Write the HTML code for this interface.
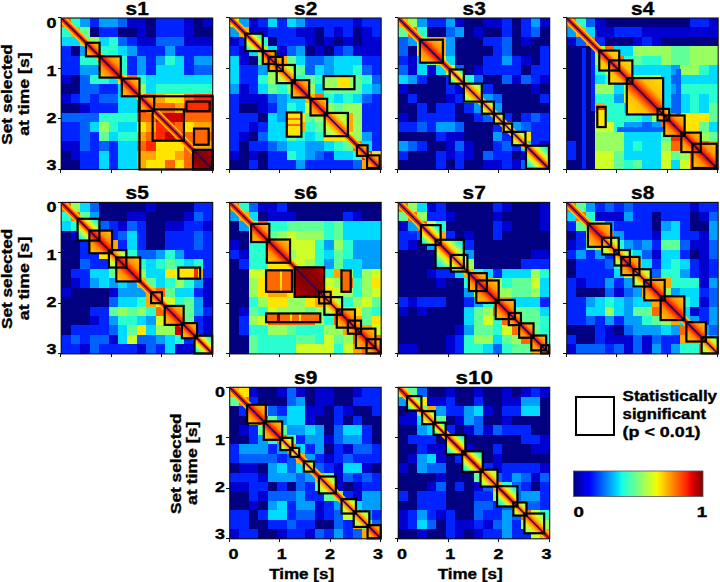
<!DOCTYPE html><html><head><meta charset="utf-8"><style>html,body{margin:0;padding:0;background:#fff;width:720px;height:582px;overflow:hidden}svg{display:block}text{font-family:"Liberation Sans",sans-serif;font-weight:bold;stroke:#000;stroke-width:0.35px}</style></head><body>
<svg width="720" height="582" viewBox="0 0 720 582" shape-rendering="crispEdges">
<rect width="720" height="582" fill="#fff"/>
<defs><linearGradient id="g_g" x1="0" y1="1" x2="1" y2="0"><stop offset="0" stop-color="#10d0ff"/><stop offset="0.18" stop-color="#40ffc0"/><stop offset="0.3" stop-color="#d0ff30"/><stop offset="0.38" stop-color="#ffd000"/><stop offset="0.45" stop-color="#ff4000"/><stop offset="0.5" stop-color="#d00000"/><stop offset="0.55" stop-color="#ff4000"/><stop offset="0.62" stop-color="#ffd000"/><stop offset="0.7" stop-color="#d0ff30"/><stop offset="0.82" stop-color="#40ffc0"/><stop offset="1" stop-color="#10d0ff"/></linearGradient><linearGradient id="g_h" x1="0" y1="1" x2="1" y2="0"><stop offset="0" stop-color="#ffd000"/><stop offset="0.3" stop-color="#ff9000"/><stop offset="0.42" stop-color="#ff3000"/><stop offset="0.5" stop-color="#b00000"/><stop offset="0.58" stop-color="#ff3000"/><stop offset="0.7" stop-color="#ff9000"/><stop offset="1" stop-color="#ffd000"/></linearGradient><linearGradient id="g_y" x1="0" y1="1" x2="1" y2="0"><stop offset="0" stop-color="#60ffa0"/><stop offset="0.25" stop-color="#d0ff30"/><stop offset="0.38" stop-color="#ffb000"/><stop offset="0.5" stop-color="#ff2000"/><stop offset="0.62" stop-color="#ffb000"/><stop offset="0.75" stop-color="#d0ff30"/><stop offset="1" stop-color="#60ffa0"/></linearGradient><linearGradient id="g_dr" x1="0" y1="1" x2="1" y2="0"><stop offset="0" stop-color="#d00000"/><stop offset="0.25" stop-color="#900000"/><stop offset="0.5" stop-color="#800000"/><stop offset="0.75" stop-color="#900000"/><stop offset="1" stop-color="#d00000"/></linearGradient><linearGradient id="g_hy" x1="0" y1="1" x2="1" y2="0"><stop offset="0" stop-color="#ffe000"/><stop offset="0.3" stop-color="#ffc000"/><stop offset="0.42" stop-color="#ff5000"/><stop offset="0.5" stop-color="#c00000"/><stop offset="0.58" stop-color="#ff5000"/><stop offset="0.7" stop-color="#ffc000"/><stop offset="1" stop-color="#ffe000"/></linearGradient></defs>
<g>
<rect x="61.2" y="18" width="9.47" height="9.47" fill="#ff6800"/>
<rect x="70.67" y="18" width="9.47" height="9.47" fill="#29ffce"/>
<rect x="80.14" y="18" width="9.47" height="9.47" fill="#009eff"/>
<rect x="89.61" y="18" width="9.47" height="9.47" fill="#0024ff"/>
<rect x="99.08" y="18" width="18.94" height="9.47" fill="#009eff"/>
<rect x="118.01" y="18" width="9.47" height="9.47" fill="#0061ff"/>
<rect x="127.48" y="18" width="18.94" height="9.47" fill="#0000d1"/>
<rect x="146.42" y="18" width="9.47" height="9.47" fill="#000080"/>
<rect x="155.89" y="18" width="28.41" height="9.47" fill="#0024ff"/>
<rect x="184.29" y="18" width="9.47" height="9.47" fill="#0000d1"/>
<rect x="193.76" y="18" width="9.47" height="9.47" fill="#000080"/>
<rect x="203.23" y="18" width="9.47" height="9.47" fill="#0000d1"/>
<rect x="61.2" y="27.47" width="9.47" height="9.47" fill="#29ffce"/>
<rect x="70.67" y="27.47" width="9.47" height="9.47" fill="#ffa700"/>
<rect x="80.14" y="27.47" width="9.47" height="9.47" fill="#60ff97"/>
<rect x="89.61" y="27.47" width="9.47" height="9.47" fill="#000080"/>
<rect x="99.08" y="27.47" width="18.94" height="9.47" fill="#0024ff"/>
<rect x="118.01" y="27.47" width="18.94" height="9.47" fill="#000080"/>
<rect x="136.95" y="27.47" width="9.47" height="9.47" fill="#0000d1"/>
<rect x="146.42" y="27.47" width="9.47" height="9.47" fill="#000080"/>
<rect x="155.89" y="27.47" width="28.41" height="9.47" fill="#0024ff"/>
<rect x="184.29" y="27.47" width="9.47" height="9.47" fill="#0000d1"/>
<rect x="193.76" y="27.47" width="18.94" height="9.47" fill="#000080"/>
<rect x="61.2" y="36.94" width="18.94" height="9.47" fill="#00dbff"/>
<rect x="80.14" y="36.94" width="9.47" height="9.47" fill="#60ff97"/>
<rect x="89.61" y="36.94" width="9.47" height="9.47" fill="#97ff60"/>
<rect x="99.08" y="36.94" width="9.47" height="9.47" fill="#00dbff"/>
<rect x="108.54" y="36.94" width="9.47" height="9.47" fill="#29ffce"/>
<rect x="118.01" y="36.94" width="9.47" height="9.47" fill="#0061ff"/>
<rect x="127.48" y="36.94" width="9.47" height="9.47" fill="#0024ff"/>
<rect x="136.95" y="36.94" width="18.94" height="9.47" fill="#0000d1"/>
<rect x="155.89" y="36.94" width="28.41" height="9.47" fill="#0061ff"/>
<rect x="184.29" y="36.94" width="28.41" height="9.47" fill="#0000d1"/>
<rect x="61.2" y="46.41" width="9.47" height="9.47" fill="#0024ff"/>
<rect x="70.67" y="46.41" width="9.47" height="9.47" fill="#000080"/>
<rect x="80.14" y="46.41" width="9.47" height="9.47" fill="#009eff"/>
<rect x="89.61" y="46.41" width="9.47" height="9.47" fill="#cd0000"/>
<rect x="99.08" y="46.41" width="18.94" height="9.47" fill="#29ffce"/>
<rect x="118.01" y="46.41" width="9.47" height="9.47" fill="#00dbff"/>
<rect x="127.48" y="46.41" width="9.47" height="9.47" fill="#009eff"/>
<rect x="136.95" y="46.41" width="28.41" height="9.47" fill="#0024ff"/>
<rect x="165.36" y="46.41" width="9.47" height="9.47" fill="#009eff"/>
<rect x="174.82" y="46.41" width="37.88" height="9.47" fill="#0024ff"/>
<rect x="61.2" y="55.88" width="18.94" height="9.47" fill="#0024ff"/>
<rect x="80.14" y="55.88" width="18.94" height="9.47" fill="#29ffce"/>
<rect x="99.08" y="55.88" width="18.94" height="9.47" fill="#ff6800"/>
<rect x="118.01" y="55.88" width="9.47" height="9.47" fill="#29ffce"/>
<rect x="127.48" y="55.88" width="9.47" height="9.47" fill="#0024ff"/>
<rect x="136.95" y="55.88" width="9.47" height="9.47" fill="#009eff"/>
<rect x="146.42" y="55.88" width="9.47" height="9.47" fill="#0024ff"/>
<rect x="155.89" y="55.88" width="9.47" height="9.47" fill="#009eff"/>
<rect x="165.36" y="55.88" width="9.47" height="9.47" fill="#29ffce"/>
<rect x="174.82" y="55.88" width="9.47" height="9.47" fill="#00dbff"/>
<rect x="184.29" y="55.88" width="9.47" height="9.47" fill="#0024ff"/>
<rect x="193.76" y="55.88" width="18.94" height="9.47" fill="#009eff"/>
<rect x="61.2" y="65.34" width="18.94" height="9.47" fill="#0024ff"/>
<rect x="80.14" y="65.34" width="18.94" height="9.47" fill="#009eff"/>
<rect x="99.08" y="65.34" width="9.47" height="9.47" fill="#ff6800"/>
<rect x="108.54" y="65.34" width="9.47" height="9.47" fill="#ff2900"/>
<rect x="118.01" y="65.34" width="9.47" height="9.47" fill="#29ffce"/>
<rect x="127.48" y="65.34" width="9.47" height="9.47" fill="#0024ff"/>
<rect x="136.95" y="65.34" width="9.47" height="9.47" fill="#009eff"/>
<rect x="146.42" y="65.34" width="9.47" height="9.47" fill="#0024ff"/>
<rect x="155.89" y="65.34" width="28.41" height="9.47" fill="#00dbff"/>
<rect x="184.29" y="65.34" width="9.47" height="9.47" fill="#0024ff"/>
<rect x="193.76" y="65.34" width="18.94" height="9.47" fill="#0061ff"/>
<rect x="61.2" y="74.81" width="9.47" height="9.47" fill="#0000d1"/>
<rect x="70.67" y="74.81" width="9.47" height="9.47" fill="#000080"/>
<rect x="80.14" y="74.81" width="9.47" height="9.47" fill="#0061ff"/>
<rect x="89.61" y="74.81" width="18.94" height="9.47" fill="#29ffce"/>
<rect x="108.54" y="74.81" width="9.47" height="9.47" fill="#00dbff"/>
<rect x="118.01" y="74.81" width="9.47" height="9.47" fill="#ffe500"/>
<rect x="127.48" y="74.81" width="9.47" height="9.47" fill="#ff6800"/>
<rect x="136.95" y="74.81" width="9.47" height="9.47" fill="#29ffce"/>
<rect x="146.42" y="74.81" width="66.28" height="9.47" fill="#00dbff"/>
<rect x="61.2" y="84.28" width="18.94" height="9.47" fill="#000080"/>
<rect x="80.14" y="84.28" width="18.94" height="9.47" fill="#0061ff"/>
<rect x="99.08" y="84.28" width="18.94" height="9.47" fill="#0024ff"/>
<rect x="118.01" y="84.28" width="9.47" height="9.47" fill="#00dbff"/>
<rect x="127.48" y="84.28" width="9.47" height="9.47" fill="#ff2900"/>
<rect x="136.95" y="84.28" width="9.47" height="9.47" fill="#97ff60"/>
<rect x="146.42" y="84.28" width="9.47" height="9.47" fill="#00dbff"/>
<rect x="155.89" y="84.28" width="56.81" height="9.47" fill="#29ffce"/>
<rect x="61.2" y="93.75" width="9.47" height="9.47" fill="#0000d1"/>
<rect x="70.67" y="93.75" width="9.47" height="9.47" fill="#0024ff"/>
<rect x="80.14" y="93.75" width="9.47" height="9.47" fill="#0061ff"/>
<rect x="89.61" y="93.75" width="9.47" height="9.47" fill="#0024ff"/>
<rect x="99.08" y="93.75" width="18.94" height="9.47" fill="#0061ff"/>
<rect x="118.01" y="93.75" width="18.94" height="9.47" fill="#00dbff"/>
<rect x="136.95" y="93.75" width="9.47" height="9.47" fill="#ff2900"/>
<rect x="146.42" y="93.75" width="9.47" height="9.47" fill="#ff6800"/>
<rect x="155.89" y="93.75" width="9.47" height="9.47" fill="#ffa700"/>
<rect x="165.36" y="93.75" width="18.94" height="9.47" fill="#ffe500"/>
<rect x="184.29" y="93.75" width="9.47" height="9.47" fill="#ff6800"/>
<rect x="193.76" y="93.75" width="18.94" height="9.47" fill="#ff2900"/>
<rect x="61.2" y="103.22" width="18.94" height="9.47" fill="#000080"/>
<rect x="80.14" y="103.22" width="9.47" height="9.47" fill="#0000d1"/>
<rect x="89.61" y="103.22" width="28.41" height="9.47" fill="#0024ff"/>
<rect x="118.01" y="103.22" width="18.94" height="9.47" fill="#00dbff"/>
<rect x="136.95" y="103.22" width="9.47" height="9.47" fill="#ff2900"/>
<rect x="146.42" y="103.22" width="28.41" height="9.47" fill="#ff6800"/>
<rect x="174.82" y="103.22" width="9.47" height="9.47" fill="#ffa700"/>
<rect x="184.29" y="103.22" width="28.41" height="9.47" fill="#ff2900"/>
<rect x="61.2" y="112.69" width="37.88" height="9.47" fill="#0061ff"/>
<rect x="99.08" y="112.69" width="37.87" height="9.47" fill="#29ffce"/>
<rect x="136.95" y="112.69" width="18.94" height="9.47" fill="#ff6800"/>
<rect x="155.89" y="112.69" width="28.41" height="9.47" fill="#cd0000"/>
<rect x="184.29" y="112.69" width="28.41" height="9.47" fill="#ff6800"/>
<rect x="61.2" y="122.16" width="18.94" height="9.47" fill="#0024ff"/>
<rect x="80.14" y="122.16" width="9.47" height="9.47" fill="#0061ff"/>
<rect x="89.61" y="122.16" width="9.47" height="9.47" fill="#00dbff"/>
<rect x="99.08" y="122.16" width="9.47" height="9.47" fill="#97ff60"/>
<rect x="108.54" y="122.16" width="9.47" height="9.47" fill="#29ffce"/>
<rect x="118.01" y="122.16" width="18.94" height="9.47" fill="#00dbff"/>
<rect x="136.95" y="122.16" width="9.47" height="9.47" fill="#ffe500"/>
<rect x="146.42" y="122.16" width="9.47" height="9.47" fill="#ffa700"/>
<rect x="155.89" y="122.16" width="18.94" height="9.47" fill="#ff2900"/>
<rect x="174.82" y="122.16" width="9.47" height="9.47" fill="#ff6800"/>
<rect x="184.29" y="122.16" width="9.47" height="9.47" fill="#ffe500"/>
<rect x="193.76" y="122.16" width="18.94" height="9.47" fill="#ffa700"/>
<rect x="61.2" y="131.62" width="18.94" height="9.47" fill="#0024ff"/>
<rect x="80.14" y="131.62" width="9.47" height="9.47" fill="#0061ff"/>
<rect x="89.61" y="131.62" width="9.47" height="9.47" fill="#0024ff"/>
<rect x="99.08" y="131.62" width="9.47" height="9.47" fill="#60ff97"/>
<rect x="108.54" y="131.62" width="9.47" height="9.47" fill="#00dbff"/>
<rect x="118.01" y="131.62" width="18.94" height="9.47" fill="#29ffce"/>
<rect x="136.95" y="131.62" width="9.47" height="9.47" fill="#ffa700"/>
<rect x="146.42" y="131.62" width="9.47" height="9.47" fill="#ff6800"/>
<rect x="155.89" y="131.62" width="9.47" height="9.47" fill="#ff2900"/>
<rect x="165.36" y="131.62" width="9.47" height="9.47" fill="#cd0000"/>
<rect x="174.82" y="131.62" width="9.47" height="9.47" fill="#ff2900"/>
<rect x="184.29" y="131.62" width="28.41" height="9.47" fill="#ff6800"/>
<rect x="61.2" y="141.09" width="18.94" height="9.47" fill="#0000d1"/>
<rect x="80.14" y="141.09" width="9.47" height="9.47" fill="#0061ff"/>
<rect x="89.61" y="141.09" width="9.47" height="9.47" fill="#0024ff"/>
<rect x="99.08" y="141.09" width="9.47" height="9.47" fill="#0061ff"/>
<rect x="108.54" y="141.09" width="9.47" height="9.47" fill="#0024ff"/>
<rect x="118.01" y="141.09" width="18.94" height="9.47" fill="#00dbff"/>
<rect x="136.95" y="141.09" width="9.47" height="9.47" fill="#ff6800"/>
<rect x="146.42" y="141.09" width="9.47" height="9.47" fill="#ff2900"/>
<rect x="155.89" y="141.09" width="28.41" height="9.47" fill="#ffe500"/>
<rect x="184.29" y="141.09" width="9.47" height="9.47" fill="#ff6800"/>
<rect x="193.76" y="141.09" width="18.94" height="9.47" fill="#ffa700"/>
<rect x="61.2" y="150.56" width="9.47" height="9.47" fill="#000080"/>
<rect x="70.67" y="150.56" width="9.47" height="9.47" fill="#0000d1"/>
<rect x="80.14" y="150.56" width="18.94" height="9.47" fill="#0024ff"/>
<rect x="99.08" y="150.56" width="9.47" height="9.47" fill="#00dbff"/>
<rect x="108.54" y="150.56" width="9.47" height="9.47" fill="#0024ff"/>
<rect x="118.01" y="150.56" width="18.94" height="9.47" fill="#00dbff"/>
<rect x="136.95" y="150.56" width="18.94" height="9.47" fill="#ffa700"/>
<rect x="155.89" y="150.56" width="18.94" height="9.47" fill="#ffe500"/>
<rect x="174.82" y="150.56" width="9.47" height="9.47" fill="#ffa700"/>
<rect x="184.29" y="150.56" width="9.47" height="9.47" fill="#ff6800"/>
<rect x="193.76" y="150.56" width="18.94" height="9.47" fill="#cd0000"/>
<rect x="61.2" y="160.03" width="18.94" height="9.47" fill="#000080"/>
<rect x="80.14" y="160.03" width="18.94" height="9.47" fill="#0024ff"/>
<rect x="99.08" y="160.03" width="9.47" height="9.47" fill="#00dbff"/>
<rect x="108.54" y="160.03" width="9.47" height="9.47" fill="#0024ff"/>
<rect x="118.01" y="160.03" width="18.94" height="9.47" fill="#00dbff"/>
<rect x="136.95" y="160.03" width="9.47" height="9.47" fill="#ffa700"/>
<rect x="146.42" y="160.03" width="18.94" height="9.47" fill="#ffe500"/>
<rect x="165.36" y="160.03" width="9.47" height="9.47" fill="#ff6800"/>
<rect x="174.82" y="160.03" width="9.47" height="9.47" fill="#ffe500"/>
<rect x="184.29" y="160.03" width="9.47" height="9.47" fill="#ff6800"/>
<rect x="193.76" y="160.03" width="18.94" height="9.47" fill="#cd0000"/>
<rect x="186.44" y="101.58" width="23.23" height="9.59" fill="#ff2900"/>
<rect x="194.01" y="128.59" width="14.64" height="16.16" fill="#ff6800"/>
</g>
<clipPath id="cp_s1"><rect x="61.2" y="18" width="151.5" height="151.5"/></clipPath>
<g clip-path="url(#cp_s1)" shape-rendering="auto">
<line x1="61.2" y1="18" x2="212.7" y2="169.5" stroke="#ffc000" stroke-width="8"/>
<line x1="61.2" y1="18" x2="212.7" y2="169.5" stroke="#ff2a00" stroke-width="4.5"/>
</g>
<rect x="85.95" y="42.75" width="13.64" height="13.63" fill="url(#g_h)" shape-rendering="auto"/>
<rect x="99.58" y="56.38" width="21.21" height="21.21" fill="url(#g_h)" shape-rendering="auto"/>
<rect x="121.8" y="78.6" width="17.68" height="17.68" fill="url(#g_h)" shape-rendering="auto"/>
<rect x="139.48" y="96.28" width="14.64" height="14.65" fill="url(#g_h)" shape-rendering="auto"/>
<rect x="193" y="149.81" width="19.69" height="19.69" fill="url(#g_dr)" shape-rendering="auto"/>
<line x1="61.2" y1="18" x2="212.7" y2="169.5" stroke="#00008a" stroke-width="1.15" shape-rendering="auto"/>
<rect x="85.95" y="42.75" width="13.64" height="13.63" fill="none" stroke="#000" stroke-width="2.2" shape-rendering="auto"/>
<rect x="99.58" y="56.38" width="21.21" height="21.21" fill="none" stroke="#000" stroke-width="2.2" shape-rendering="auto"/>
<rect x="121.8" y="78.6" width="17.68" height="17.68" fill="none" stroke="#000" stroke-width="2.2" shape-rendering="auto"/>
<rect x="139.48" y="96.28" width="73.22" height="73.22" fill="none" stroke="#000" stroke-width="2.2" shape-rendering="auto"/>
<rect x="139.48" y="96.28" width="14.64" height="14.65" fill="none" stroke="#000" stroke-width="2.2" shape-rendering="auto"/>
<rect x="152.61" y="109.41" width="31.31" height="31.31" fill="none" stroke="#000" stroke-width="2.2" shape-rendering="auto"/>
<rect x="186.44" y="101.58" width="23.23" height="9.59" fill="none" stroke="#000" stroke-width="2.2" shape-rendering="auto"/>
<rect x="194.01" y="128.59" width="14.64" height="16.16" fill="none" stroke="#000" stroke-width="2.2" shape-rendering="auto"/>
<rect x="193" y="149.81" width="19.69" height="19.69" fill="none" stroke="#000" stroke-width="2.2" shape-rendering="auto"/>
<rect x="61.2" y="18" width="151.5" height="151.5" fill="none" stroke="#111" stroke-width="1.1" shape-rendering="auto"/>
<line x1="57.7" y1="17.5" x2="61.2" y2="17.5" stroke="#111" stroke-width="1" shape-rendering="crispEdges"/>
<line x1="60.5" y1="169.5" x2="60.5" y2="173" stroke="#111" stroke-width="1" shape-rendering="crispEdges"/>
<line x1="57.7" y1="68.5" x2="61.2" y2="68.5" stroke="#111" stroke-width="1" shape-rendering="crispEdges"/>
<line x1="111.5" y1="169.5" x2="111.5" y2="173" stroke="#111" stroke-width="1" shape-rendering="crispEdges"/>
<line x1="57.7" y1="118.5" x2="61.2" y2="118.5" stroke="#111" stroke-width="1" shape-rendering="crispEdges"/>
<line x1="161.5" y1="169.5" x2="161.5" y2="173" stroke="#111" stroke-width="1" shape-rendering="crispEdges"/>
<line x1="57.7" y1="169.5" x2="61.2" y2="169.5" stroke="#111" stroke-width="1" shape-rendering="crispEdges"/>
<line x1="212.5" y1="169.5" x2="212.5" y2="173" stroke="#111" stroke-width="1" shape-rendering="crispEdges"/>
<text x="137.15" y="14.6" font-size="18" text-anchor="middle" textLength="23.2" lengthAdjust="spacingAndGlyphs">s1</text>
<g>
<rect x="229.7" y="18" width="9.47" height="9.47" fill="#ceff29"/>
<rect x="239.17" y="18" width="9.47" height="9.47" fill="#009eff"/>
<rect x="248.64" y="18" width="9.47" height="9.47" fill="#0000d1"/>
<rect x="258.11" y="18" width="9.47" height="9.47" fill="#0024ff"/>
<rect x="267.57" y="18" width="9.47" height="9.47" fill="#00dbff"/>
<rect x="277.04" y="18" width="9.47" height="9.47" fill="#0024ff"/>
<rect x="286.51" y="18" width="9.47" height="9.47" fill="#00dbff"/>
<rect x="295.98" y="18" width="9.47" height="9.47" fill="#009eff"/>
<rect x="305.45" y="18" width="47.34" height="9.47" fill="#0024ff"/>
<rect x="352.79" y="18" width="9.47" height="9.47" fill="#0000d1"/>
<rect x="362.26" y="18" width="18.94" height="9.47" fill="#0024ff"/>
<rect x="229.7" y="27.47" width="9.47" height="9.47" fill="#009eff"/>
<rect x="239.17" y="27.47" width="9.47" height="9.47" fill="#ffa700"/>
<rect x="248.64" y="27.47" width="18.94" height="9.47" fill="#0000d1"/>
<rect x="267.57" y="27.47" width="28.41" height="9.47" fill="#0024ff"/>
<rect x="295.98" y="27.47" width="18.94" height="9.47" fill="#0000d1"/>
<rect x="314.92" y="27.47" width="9.47" height="9.47" fill="#000080"/>
<rect x="324.39" y="27.47" width="9.47" height="9.47" fill="#0024ff"/>
<rect x="333.86" y="27.47" width="9.47" height="9.47" fill="#0000d1"/>
<rect x="343.32" y="27.47" width="9.47" height="9.47" fill="#0024ff"/>
<rect x="352.79" y="27.47" width="9.47" height="9.47" fill="#000080"/>
<rect x="362.26" y="27.47" width="9.47" height="9.47" fill="#0000d1"/>
<rect x="371.73" y="27.47" width="9.47" height="9.47" fill="#0024ff"/>
<rect x="229.7" y="36.94" width="9.47" height="9.47" fill="#0000d1"/>
<rect x="239.17" y="36.94" width="9.47" height="9.47" fill="#0024ff"/>
<rect x="248.64" y="36.94" width="9.47" height="9.47" fill="#ffa700"/>
<rect x="258.11" y="36.94" width="9.47" height="9.47" fill="#29ffce"/>
<rect x="267.57" y="36.94" width="9.47" height="9.47" fill="#000080"/>
<rect x="277.04" y="36.94" width="28.41" height="9.47" fill="#0024ff"/>
<rect x="305.45" y="36.94" width="9.47" height="9.47" fill="#0000d1"/>
<rect x="314.92" y="36.94" width="9.47" height="9.47" fill="#000080"/>
<rect x="324.39" y="36.94" width="9.47" height="9.47" fill="#0000d1"/>
<rect x="333.86" y="36.94" width="9.47" height="9.47" fill="#000080"/>
<rect x="343.32" y="36.94" width="9.47" height="9.47" fill="#0000d1"/>
<rect x="352.79" y="36.94" width="9.47" height="9.47" fill="#000080"/>
<rect x="362.26" y="36.94" width="18.94" height="9.47" fill="#0000d1"/>
<rect x="229.7" y="46.41" width="9.47" height="9.47" fill="#0024ff"/>
<rect x="239.17" y="46.41" width="9.47" height="9.47" fill="#0000d1"/>
<rect x="248.64" y="46.41" width="9.47" height="9.47" fill="#00dbff"/>
<rect x="258.11" y="46.41" width="9.47" height="9.47" fill="#97ff60"/>
<rect x="267.57" y="46.41" width="9.47" height="9.47" fill="#00dbff"/>
<rect x="277.04" y="46.41" width="9.47" height="9.47" fill="#0000d1"/>
<rect x="286.51" y="46.41" width="9.47" height="9.47" fill="#0061ff"/>
<rect x="295.98" y="46.41" width="9.47" height="9.47" fill="#009eff"/>
<rect x="305.45" y="46.41" width="9.47" height="9.47" fill="#000080"/>
<rect x="314.92" y="46.41" width="9.47" height="9.47" fill="#0000d1"/>
<rect x="324.39" y="46.41" width="9.47" height="9.47" fill="#000080"/>
<rect x="333.86" y="46.41" width="9.47" height="9.47" fill="#0024ff"/>
<rect x="343.32" y="46.41" width="9.47" height="9.47" fill="#0061ff"/>
<rect x="352.79" y="46.41" width="28.41" height="9.47" fill="#0000d1"/>
<rect x="229.7" y="55.88" width="9.47" height="9.47" fill="#00dbff"/>
<rect x="239.17" y="55.88" width="9.47" height="9.47" fill="#0000d1"/>
<rect x="248.64" y="55.88" width="9.47" height="9.47" fill="#000080"/>
<rect x="258.11" y="55.88" width="9.47" height="9.47" fill="#60ff97"/>
<rect x="267.57" y="55.88" width="18.94" height="9.47" fill="#ffa700"/>
<rect x="286.51" y="55.88" width="9.47" height="9.47" fill="#60ff97"/>
<rect x="295.98" y="55.88" width="9.47" height="9.47" fill="#00dbff"/>
<rect x="305.45" y="55.88" width="18.94" height="9.47" fill="#0061ff"/>
<rect x="324.39" y="55.88" width="9.47" height="9.47" fill="#009eff"/>
<rect x="333.86" y="55.88" width="28.41" height="9.47" fill="#00dbff"/>
<rect x="362.26" y="55.88" width="18.94" height="9.47" fill="#0024ff"/>
<rect x="229.7" y="65.34" width="9.47" height="9.47" fill="#00dbff"/>
<rect x="239.17" y="65.34" width="18.94" height="9.47" fill="#0024ff"/>
<rect x="258.11" y="65.34" width="9.47" height="9.47" fill="#009eff"/>
<rect x="267.57" y="65.34" width="9.47" height="9.47" fill="#97ff60"/>
<rect x="277.04" y="65.34" width="18.94" height="9.47" fill="#ff6800"/>
<rect x="295.98" y="65.34" width="9.47" height="9.47" fill="#60ff97"/>
<rect x="305.45" y="65.34" width="9.47" height="9.47" fill="#0061ff"/>
<rect x="314.92" y="65.34" width="9.47" height="9.47" fill="#00dbff"/>
<rect x="324.39" y="65.34" width="9.47" height="9.47" fill="#009eff"/>
<rect x="333.86" y="65.34" width="18.94" height="9.47" fill="#00dbff"/>
<rect x="352.79" y="65.34" width="9.47" height="9.47" fill="#29ffce"/>
<rect x="362.26" y="65.34" width="9.47" height="9.47" fill="#0061ff"/>
<rect x="371.73" y="65.34" width="9.47" height="9.47" fill="#0024ff"/>
<rect x="229.7" y="74.81" width="9.47" height="9.47" fill="#00dbff"/>
<rect x="239.17" y="74.81" width="18.94" height="9.47" fill="#0024ff"/>
<rect x="258.11" y="74.81" width="9.47" height="9.47" fill="#29ffce"/>
<rect x="267.57" y="74.81" width="9.47" height="9.47" fill="#97ff60"/>
<rect x="277.04" y="74.81" width="18.94" height="9.47" fill="#ffa700"/>
<rect x="295.98" y="74.81" width="9.47" height="9.47" fill="#29ffce"/>
<rect x="305.45" y="74.81" width="9.47" height="9.47" fill="#60ff97"/>
<rect x="314.92" y="74.81" width="9.47" height="9.47" fill="#29ffce"/>
<rect x="324.39" y="74.81" width="9.47" height="9.47" fill="#60ff97"/>
<rect x="333.86" y="74.81" width="18.94" height="9.47" fill="#ffe500"/>
<rect x="352.79" y="74.81" width="9.47" height="9.47" fill="#60ff97"/>
<rect x="362.26" y="74.81" width="9.47" height="9.47" fill="#29ffce"/>
<rect x="371.73" y="74.81" width="9.47" height="9.47" fill="#0061ff"/>
<rect x="229.7" y="84.28" width="9.47" height="9.47" fill="#009eff"/>
<rect x="239.17" y="84.28" width="9.47" height="9.47" fill="#0000d1"/>
<rect x="248.64" y="84.28" width="9.47" height="9.47" fill="#0024ff"/>
<rect x="258.11" y="84.28" width="9.47" height="9.47" fill="#00dbff"/>
<rect x="267.57" y="84.28" width="9.47" height="9.47" fill="#60ff97"/>
<rect x="277.04" y="84.28" width="9.47" height="9.47" fill="#29ffce"/>
<rect x="286.51" y="84.28" width="9.47" height="9.47" fill="#97ff60"/>
<rect x="295.98" y="84.28" width="9.47" height="9.47" fill="#ff2900"/>
<rect x="305.45" y="84.28" width="9.47" height="9.47" fill="#97ff60"/>
<rect x="314.92" y="84.28" width="9.47" height="9.47" fill="#00dbff"/>
<rect x="324.39" y="84.28" width="37.88" height="9.47" fill="#60ff97"/>
<rect x="362.26" y="84.28" width="9.47" height="9.47" fill="#00dbff"/>
<rect x="371.73" y="84.28" width="9.47" height="9.47" fill="#009eff"/>
<rect x="229.7" y="93.75" width="9.47" height="9.47" fill="#0024ff"/>
<rect x="239.17" y="93.75" width="28.41" height="9.47" fill="#0000d1"/>
<rect x="267.57" y="93.75" width="9.47" height="9.47" fill="#0061ff"/>
<rect x="277.04" y="93.75" width="9.47" height="9.47" fill="#009eff"/>
<rect x="286.51" y="93.75" width="18.94" height="9.47" fill="#00dbff"/>
<rect x="305.45" y="93.75" width="9.47" height="9.47" fill="#ffa700"/>
<rect x="314.92" y="93.75" width="9.47" height="9.47" fill="#ff6800"/>
<rect x="324.39" y="93.75" width="9.47" height="9.47" fill="#29ffce"/>
<rect x="333.86" y="93.75" width="9.47" height="9.47" fill="#00dbff"/>
<rect x="343.32" y="93.75" width="9.47" height="9.47" fill="#29ffce"/>
<rect x="352.79" y="93.75" width="9.47" height="9.47" fill="#00dbff"/>
<rect x="362.26" y="93.75" width="9.47" height="9.47" fill="#0061ff"/>
<rect x="371.73" y="93.75" width="9.47" height="9.47" fill="#0024ff"/>
<rect x="229.7" y="103.22" width="9.47" height="9.47" fill="#0024ff"/>
<rect x="239.17" y="103.22" width="18.94" height="9.47" fill="#000080"/>
<rect x="258.11" y="103.22" width="9.47" height="9.47" fill="#0000d1"/>
<rect x="267.57" y="103.22" width="9.47" height="9.47" fill="#0024ff"/>
<rect x="277.04" y="103.22" width="9.47" height="9.47" fill="#009eff"/>
<rect x="286.51" y="103.22" width="9.47" height="9.47" fill="#29ffce"/>
<rect x="295.98" y="103.22" width="9.47" height="9.47" fill="#00dbff"/>
<rect x="305.45" y="103.22" width="9.47" height="9.47" fill="#ceff29"/>
<rect x="314.92" y="103.22" width="9.47" height="9.47" fill="#ffa700"/>
<rect x="324.39" y="103.22" width="9.47" height="9.47" fill="#97ff60"/>
<rect x="333.86" y="103.22" width="9.47" height="9.47" fill="#60ff97"/>
<rect x="343.32" y="103.22" width="18.94" height="9.47" fill="#97ff60"/>
<rect x="362.26" y="103.22" width="18.94" height="9.47" fill="#0024ff"/>
<rect x="229.7" y="112.69" width="28.41" height="9.47" fill="#0024ff"/>
<rect x="258.11" y="112.69" width="9.47" height="9.47" fill="#000080"/>
<rect x="267.57" y="112.69" width="9.47" height="9.47" fill="#00dbff"/>
<rect x="277.04" y="112.69" width="9.47" height="9.47" fill="#009eff"/>
<rect x="286.51" y="112.69" width="18.94" height="9.47" fill="#ffe500"/>
<rect x="305.45" y="112.69" width="9.47" height="9.47" fill="#60ff97"/>
<rect x="314.92" y="112.69" width="9.47" height="9.47" fill="#97ff60"/>
<rect x="324.39" y="112.69" width="28.41" height="9.47" fill="#ffa700"/>
<rect x="352.79" y="112.69" width="9.47" height="9.47" fill="#97ff60"/>
<rect x="362.26" y="112.69" width="18.94" height="9.47" fill="#0024ff"/>
<rect x="229.7" y="122.16" width="18.94" height="9.47" fill="#0024ff"/>
<rect x="248.64" y="122.16" width="9.47" height="9.47" fill="#0000d1"/>
<rect x="258.11" y="122.16" width="9.47" height="9.47" fill="#0024ff"/>
<rect x="267.57" y="122.16" width="18.94" height="9.47" fill="#00dbff"/>
<rect x="286.51" y="122.16" width="18.94" height="9.47" fill="#ffa700"/>
<rect x="305.45" y="122.16" width="9.47" height="9.47" fill="#29ffce"/>
<rect x="314.92" y="122.16" width="9.47" height="9.47" fill="#60ff97"/>
<rect x="324.39" y="122.16" width="9.47" height="9.47" fill="#ffa700"/>
<rect x="333.86" y="122.16" width="9.47" height="9.47" fill="#ff2900"/>
<rect x="343.32" y="122.16" width="9.47" height="9.47" fill="#ffa700"/>
<rect x="352.79" y="122.16" width="9.47" height="9.47" fill="#97ff60"/>
<rect x="362.26" y="122.16" width="18.94" height="9.47" fill="#0024ff"/>
<rect x="229.7" y="131.62" width="9.47" height="9.47" fill="#0024ff"/>
<rect x="239.17" y="131.62" width="9.47" height="9.47" fill="#0000d1"/>
<rect x="248.64" y="131.62" width="9.47" height="9.47" fill="#000080"/>
<rect x="258.11" y="131.62" width="9.47" height="9.47" fill="#0061ff"/>
<rect x="267.57" y="131.62" width="18.94" height="9.47" fill="#00dbff"/>
<rect x="286.51" y="131.62" width="9.47" height="9.47" fill="#60ff97"/>
<rect x="295.98" y="131.62" width="9.47" height="9.47" fill="#29ffce"/>
<rect x="305.45" y="131.62" width="9.47" height="9.47" fill="#00dbff"/>
<rect x="314.92" y="131.62" width="9.47" height="9.47" fill="#29ffce"/>
<rect x="324.39" y="131.62" width="18.94" height="9.47" fill="#ffe500"/>
<rect x="343.32" y="131.62" width="9.47" height="9.47" fill="#ceff29"/>
<rect x="352.79" y="131.62" width="9.47" height="9.47" fill="#97ff60"/>
<rect x="362.26" y="131.62" width="9.47" height="9.47" fill="#009eff"/>
<rect x="371.73" y="131.62" width="9.47" height="9.47" fill="#0024ff"/>
<rect x="229.7" y="141.09" width="9.47" height="9.47" fill="#0024ff"/>
<rect x="239.17" y="141.09" width="9.47" height="9.47" fill="#000080"/>
<rect x="248.64" y="141.09" width="18.94" height="9.47" fill="#0024ff"/>
<rect x="267.57" y="141.09" width="9.47" height="9.47" fill="#0061ff"/>
<rect x="277.04" y="141.09" width="9.47" height="9.47" fill="#009eff"/>
<rect x="286.51" y="141.09" width="18.94" height="9.47" fill="#00dbff"/>
<rect x="305.45" y="141.09" width="18.94" height="9.47" fill="#009eff"/>
<rect x="324.39" y="141.09" width="9.47" height="9.47" fill="#00dbff"/>
<rect x="333.86" y="141.09" width="9.47" height="9.47" fill="#29ffce"/>
<rect x="343.32" y="141.09" width="9.47" height="9.47" fill="#60ff97"/>
<rect x="352.79" y="141.09" width="9.47" height="9.47" fill="#ff6800"/>
<rect x="362.26" y="141.09" width="9.47" height="9.47" fill="#00dbff"/>
<rect x="371.73" y="141.09" width="9.47" height="9.47" fill="#0024ff"/>
<rect x="229.7" y="150.56" width="9.47" height="9.47" fill="#0000d1"/>
<rect x="239.17" y="150.56" width="9.47" height="9.47" fill="#000080"/>
<rect x="248.64" y="150.56" width="9.47" height="9.47" fill="#0000d1"/>
<rect x="258.11" y="150.56" width="9.47" height="9.47" fill="#000080"/>
<rect x="267.57" y="150.56" width="18.94" height="9.47" fill="#0024ff"/>
<rect x="286.51" y="150.56" width="9.47" height="9.47" fill="#29ffce"/>
<rect x="295.98" y="150.56" width="9.47" height="9.47" fill="#00dbff"/>
<rect x="305.45" y="150.56" width="9.47" height="9.47" fill="#009eff"/>
<rect x="314.92" y="150.56" width="9.47" height="9.47" fill="#0061ff"/>
<rect x="324.39" y="150.56" width="9.47" height="9.47" fill="#0024ff"/>
<rect x="333.86" y="150.56" width="18.94" height="9.47" fill="#00dbff"/>
<rect x="352.79" y="150.56" width="9.47" height="9.47" fill="#29ffce"/>
<rect x="362.26" y="150.56" width="9.47" height="9.47" fill="#ff2900"/>
<rect x="371.73" y="150.56" width="9.47" height="9.47" fill="#ffe500"/>
<rect x="229.7" y="160.03" width="18.94" height="9.47" fill="#000080"/>
<rect x="248.64" y="160.03" width="9.47" height="9.47" fill="#0024ff"/>
<rect x="258.11" y="160.03" width="9.47" height="9.47" fill="#000080"/>
<rect x="267.57" y="160.03" width="28.41" height="9.47" fill="#0024ff"/>
<rect x="295.98" y="160.03" width="9.47" height="9.47" fill="#009eff"/>
<rect x="305.45" y="160.03" width="47.34" height="9.47" fill="#0024ff"/>
<rect x="352.79" y="160.03" width="9.47" height="9.47" fill="#0061ff"/>
<rect x="362.26" y="160.03" width="9.47" height="9.47" fill="#ffa700"/>
<rect x="371.73" y="160.03" width="9.47" height="9.47" fill="#ff6800"/>
<rect x="323.63" y="76.07" width="30.81" height="13.13" fill="#97ff60"/>
<rect x="336.76" y="76.07" width="12.12" height="13.13" fill="#ffe500"/>
<rect x="286.76" y="112.44" width="14.64" height="24.24" fill="#ffe500"/>
<rect x="286.76" y="117.99" width="14.64" height="2.02" fill="#ff6800"/>
<rect x="286.76" y="123.55" width="14.64" height="2.02" fill="#ff6800"/>
</g>
<clipPath id="cp_s2"><rect x="229.7" y="18" width="151.5" height="151.5"/></clipPath>
<g clip-path="url(#cp_s2)" shape-rendering="auto">
<line x1="229.7" y1="18" x2="381.2" y2="169.5" stroke="#ffc000" stroke-width="8"/>
<line x1="229.7" y1="18" x2="381.2" y2="169.5" stroke="#ff2a00" stroke-width="4.5"/>
</g>
<rect x="245.35" y="33.66" width="17.42" height="17.42" fill="url(#g_g)" shape-rendering="auto"/>
<rect x="262.78" y="51.08" width="12.88" height="12.88" fill="url(#g_h)" shape-rendering="auto"/>
<rect x="268.58" y="56.88" width="14.14" height="14.14" fill="url(#g_h)" shape-rendering="auto"/>
<rect x="276.66" y="64.97" width="18.18" height="18.18" fill="url(#g_y)" shape-rendering="auto"/>
<rect x="291.81" y="80.11" width="17.42" height="17.42" fill="url(#g_h)" shape-rendering="auto"/>
<rect x="310.5" y="98.8" width="16.66" height="16.67" fill="url(#g_h)" shape-rendering="auto"/>
<rect x="324.64" y="112.94" width="23.23" height="23.23" fill="url(#g_y)" shape-rendering="auto"/>
<rect x="356.96" y="145.26" width="10.61" height="10.61" fill="url(#g_h)" shape-rendering="auto"/>
<rect x="367.06" y="155.36" width="12.62" height="12.62" fill="url(#g_h)" shape-rendering="auto"/>
<line x1="229.7" y1="18" x2="381.2" y2="169.5" stroke="#00008a" stroke-width="1.15" shape-rendering="auto"/>
<rect x="245.35" y="33.66" width="17.42" height="17.42" fill="none" stroke="#000" stroke-width="2.2" shape-rendering="auto"/>
<rect x="262.78" y="51.08" width="12.88" height="12.88" fill="none" stroke="#000" stroke-width="2.2" shape-rendering="auto"/>
<rect x="268.58" y="56.88" width="14.14" height="14.14" fill="none" stroke="#000" stroke-width="2.2" shape-rendering="auto"/>
<rect x="276.66" y="64.97" width="18.18" height="18.18" fill="none" stroke="#000" stroke-width="2.2" shape-rendering="auto"/>
<rect x="291.81" y="80.11" width="17.42" height="17.42" fill="none" stroke="#000" stroke-width="2.2" shape-rendering="auto"/>
<rect x="310.5" y="98.8" width="16.66" height="16.67" fill="none" stroke="#000" stroke-width="2.2" shape-rendering="auto"/>
<rect x="324.64" y="112.94" width="23.23" height="23.23" fill="none" stroke="#000" stroke-width="2.2" shape-rendering="auto"/>
<rect x="356.96" y="145.26" width="10.61" height="10.61" fill="none" stroke="#000" stroke-width="2.2" shape-rendering="auto"/>
<rect x="367.06" y="155.36" width="12.62" height="12.62" fill="none" stroke="#000" stroke-width="2.2" shape-rendering="auto"/>
<rect x="323.63" y="76.07" width="30.81" height="13.13" fill="none" stroke="#000" stroke-width="2.2" shape-rendering="auto"/>
<rect x="286.76" y="112.44" width="14.64" height="24.24" fill="none" stroke="#000" stroke-width="2.2" shape-rendering="auto"/>
<rect x="229.7" y="18" width="151.5" height="151.5" fill="none" stroke="#111" stroke-width="1.1" shape-rendering="auto"/>
<line x1="226.2" y1="17.5" x2="229.7" y2="17.5" stroke="#111" stroke-width="1" shape-rendering="crispEdges"/>
<line x1="229.5" y1="169.5" x2="229.5" y2="173" stroke="#111" stroke-width="1" shape-rendering="crispEdges"/>
<line x1="226.2" y1="68.5" x2="229.7" y2="68.5" stroke="#111" stroke-width="1" shape-rendering="crispEdges"/>
<line x1="279.5" y1="169.5" x2="279.5" y2="173" stroke="#111" stroke-width="1" shape-rendering="crispEdges"/>
<line x1="226.2" y1="118.5" x2="229.7" y2="118.5" stroke="#111" stroke-width="1" shape-rendering="crispEdges"/>
<line x1="330.5" y1="169.5" x2="330.5" y2="173" stroke="#111" stroke-width="1" shape-rendering="crispEdges"/>
<line x1="226.2" y1="169.5" x2="229.7" y2="169.5" stroke="#111" stroke-width="1" shape-rendering="crispEdges"/>
<line x1="380.5" y1="169.5" x2="380.5" y2="173" stroke="#111" stroke-width="1" shape-rendering="crispEdges"/>
<text x="305.65" y="14.6" font-size="18" text-anchor="middle" textLength="23.2" lengthAdjust="spacingAndGlyphs">s2</text>
<g>
<rect x="398.2" y="18" width="9.47" height="9.47" fill="#ffa700"/>
<rect x="407.67" y="18" width="9.47" height="9.47" fill="#97ff60"/>
<rect x="417.14" y="18" width="9.47" height="9.47" fill="#009eff"/>
<rect x="426.61" y="18" width="18.94" height="9.47" fill="#0024ff"/>
<rect x="445.54" y="18" width="9.47" height="9.47" fill="#009eff"/>
<rect x="455.01" y="18" width="9.47" height="9.47" fill="#0000d1"/>
<rect x="464.48" y="18" width="18.94" height="9.47" fill="#000080"/>
<rect x="483.42" y="18" width="18.94" height="9.47" fill="#0000d1"/>
<rect x="502.36" y="18" width="9.47" height="9.47" fill="#0024ff"/>
<rect x="511.82" y="18" width="9.47" height="9.47" fill="#000080"/>
<rect x="521.29" y="18" width="9.47" height="9.47" fill="#0024ff"/>
<rect x="530.76" y="18" width="9.47" height="9.47" fill="#009eff"/>
<rect x="540.23" y="18" width="9.47" height="9.47" fill="#0000d1"/>
<rect x="398.2" y="27.47" width="9.47" height="9.47" fill="#60ff97"/>
<rect x="407.67" y="27.47" width="9.47" height="9.47" fill="#ff6800"/>
<rect x="417.14" y="27.47" width="9.47" height="9.47" fill="#29ffce"/>
<rect x="426.61" y="27.47" width="18.94" height="9.47" fill="#000080"/>
<rect x="445.54" y="27.47" width="9.47" height="9.47" fill="#0061ff"/>
<rect x="455.01" y="27.47" width="9.47" height="9.47" fill="#009eff"/>
<rect x="464.48" y="27.47" width="9.47" height="9.47" fill="#000080"/>
<rect x="473.95" y="27.47" width="9.47" height="9.47" fill="#0000d1"/>
<rect x="483.42" y="27.47" width="18.94" height="9.47" fill="#000080"/>
<rect x="502.36" y="27.47" width="9.47" height="9.47" fill="#0024ff"/>
<rect x="511.82" y="27.47" width="9.47" height="9.47" fill="#000080"/>
<rect x="521.29" y="27.47" width="9.47" height="9.47" fill="#0024ff"/>
<rect x="530.76" y="27.47" width="9.47" height="9.47" fill="#0061ff"/>
<rect x="540.23" y="27.47" width="9.47" height="9.47" fill="#000080"/>
<rect x="398.2" y="36.94" width="9.47" height="9.47" fill="#0061ff"/>
<rect x="407.67" y="36.94" width="9.47" height="9.47" fill="#009eff"/>
<rect x="417.14" y="36.94" width="9.47" height="9.47" fill="#ceff29"/>
<rect x="426.61" y="36.94" width="18.94" height="9.47" fill="#ffa700"/>
<rect x="445.54" y="36.94" width="9.47" height="9.47" fill="#009eff"/>
<rect x="455.01" y="36.94" width="28.41" height="9.47" fill="#000080"/>
<rect x="483.42" y="36.94" width="18.94" height="9.47" fill="#0024ff"/>
<rect x="502.36" y="36.94" width="9.47" height="9.47" fill="#0061ff"/>
<rect x="511.82" y="36.94" width="9.47" height="9.47" fill="#000080"/>
<rect x="521.29" y="36.94" width="9.47" height="9.47" fill="#0000d1"/>
<rect x="530.76" y="36.94" width="18.94" height="9.47" fill="#000080"/>
<rect x="398.2" y="46.41" width="9.47" height="9.47" fill="#0061ff"/>
<rect x="407.67" y="46.41" width="9.47" height="9.47" fill="#000080"/>
<rect x="417.14" y="46.41" width="9.47" height="9.47" fill="#ffe500"/>
<rect x="426.61" y="46.41" width="9.47" height="9.47" fill="#ff6800"/>
<rect x="436.07" y="46.41" width="9.47" height="9.47" fill="#ffa700"/>
<rect x="445.54" y="46.41" width="9.47" height="9.47" fill="#009eff"/>
<rect x="455.01" y="46.41" width="37.88" height="9.47" fill="#000080"/>
<rect x="492.89" y="46.41" width="9.47" height="9.47" fill="#0024ff"/>
<rect x="502.36" y="46.41" width="9.47" height="9.47" fill="#0061ff"/>
<rect x="511.82" y="46.41" width="28.41" height="9.47" fill="#000080"/>
<rect x="540.23" y="46.41" width="9.47" height="9.47" fill="#0024ff"/>
<rect x="398.2" y="55.88" width="9.47" height="9.47" fill="#0024ff"/>
<rect x="407.67" y="55.88" width="9.47" height="9.47" fill="#0000d1"/>
<rect x="417.14" y="55.88" width="9.47" height="9.47" fill="#00dbff"/>
<rect x="426.61" y="55.88" width="9.47" height="9.47" fill="#60ff97"/>
<rect x="436.07" y="55.88" width="9.47" height="9.47" fill="#ffe500"/>
<rect x="445.54" y="55.88" width="9.47" height="9.47" fill="#00dbff"/>
<rect x="455.01" y="55.88" width="28.41" height="9.47" fill="#000080"/>
<rect x="483.42" y="55.88" width="18.94" height="9.47" fill="#0024ff"/>
<rect x="502.36" y="55.88" width="9.47" height="9.47" fill="#009eff"/>
<rect x="511.82" y="55.88" width="9.47" height="9.47" fill="#0024ff"/>
<rect x="521.29" y="55.88" width="9.47" height="9.47" fill="#0000d1"/>
<rect x="530.76" y="55.88" width="9.47" height="9.47" fill="#000080"/>
<rect x="540.23" y="55.88" width="9.47" height="9.47" fill="#0024ff"/>
<rect x="398.2" y="65.34" width="9.47" height="9.47" fill="#0061ff"/>
<rect x="407.67" y="65.34" width="9.47" height="9.47" fill="#0000d1"/>
<rect x="417.14" y="65.34" width="9.47" height="9.47" fill="#00dbff"/>
<rect x="426.61" y="65.34" width="9.47" height="9.47" fill="#0000d1"/>
<rect x="436.07" y="65.34" width="9.47" height="9.47" fill="#00dbff"/>
<rect x="445.54" y="65.34" width="9.47" height="9.47" fill="#ceff29"/>
<rect x="455.01" y="65.34" width="9.47" height="9.47" fill="#0061ff"/>
<rect x="464.48" y="65.34" width="9.47" height="9.47" fill="#000080"/>
<rect x="473.95" y="65.34" width="9.47" height="9.47" fill="#0000d1"/>
<rect x="483.42" y="65.34" width="37.88" height="9.47" fill="#0024ff"/>
<rect x="521.29" y="65.34" width="9.47" height="9.47" fill="#000080"/>
<rect x="530.76" y="65.34" width="18.94" height="9.47" fill="#0024ff"/>
<rect x="398.2" y="74.81" width="9.47" height="9.47" fill="#00dbff"/>
<rect x="407.67" y="74.81" width="9.47" height="9.47" fill="#009eff"/>
<rect x="417.14" y="74.81" width="9.47" height="9.47" fill="#0024ff"/>
<rect x="426.61" y="74.81" width="18.94" height="9.47" fill="#000080"/>
<rect x="445.54" y="74.81" width="9.47" height="9.47" fill="#0024ff"/>
<rect x="455.01" y="74.81" width="9.47" height="9.47" fill="#60ff97"/>
<rect x="464.48" y="74.81" width="9.47" height="9.47" fill="#29ffce"/>
<rect x="473.95" y="74.81" width="9.47" height="9.47" fill="#0061ff"/>
<rect x="483.42" y="74.81" width="18.94" height="9.47" fill="#000080"/>
<rect x="502.36" y="74.81" width="9.47" height="9.47" fill="#0061ff"/>
<rect x="511.82" y="74.81" width="9.47" height="9.47" fill="#0000d1"/>
<rect x="521.29" y="74.81" width="9.47" height="9.47" fill="#0061ff"/>
<rect x="530.76" y="74.81" width="9.47" height="9.47" fill="#0024ff"/>
<rect x="540.23" y="74.81" width="9.47" height="9.47" fill="#0000d1"/>
<rect x="398.2" y="84.28" width="9.47" height="9.47" fill="#0000d1"/>
<rect x="407.67" y="84.28" width="37.88" height="9.47" fill="#000080"/>
<rect x="445.54" y="84.28" width="9.47" height="9.47" fill="#0024ff"/>
<rect x="455.01" y="84.28" width="9.47" height="9.47" fill="#0000d1"/>
<rect x="464.48" y="84.28" width="9.47" height="9.47" fill="#ffa700"/>
<rect x="473.95" y="84.28" width="9.47" height="9.47" fill="#ffe500"/>
<rect x="483.42" y="84.28" width="9.47" height="9.47" fill="#0024ff"/>
<rect x="492.89" y="84.28" width="37.88" height="9.47" fill="#000080"/>
<rect x="530.76" y="84.28" width="9.47" height="9.47" fill="#0000d1"/>
<rect x="540.23" y="84.28" width="9.47" height="9.47" fill="#000080"/>
<rect x="398.2" y="93.75" width="9.47" height="9.47" fill="#000080"/>
<rect x="407.67" y="93.75" width="9.47" height="9.47" fill="#0024ff"/>
<rect x="417.14" y="93.75" width="28.41" height="9.47" fill="#000080"/>
<rect x="445.54" y="93.75" width="9.47" height="9.47" fill="#0000d1"/>
<rect x="455.01" y="93.75" width="9.47" height="9.47" fill="#0024ff"/>
<rect x="464.48" y="93.75" width="9.47" height="9.47" fill="#60ff97"/>
<rect x="473.95" y="93.75" width="9.47" height="9.47" fill="#ffe500"/>
<rect x="483.42" y="93.75" width="9.47" height="9.47" fill="#009eff"/>
<rect x="492.89" y="93.75" width="9.47" height="9.47" fill="#0061ff"/>
<rect x="502.36" y="93.75" width="37.88" height="9.47" fill="#000080"/>
<rect x="540.23" y="93.75" width="9.47" height="9.47" fill="#0024ff"/>
<rect x="398.2" y="103.22" width="18.94" height="9.47" fill="#000080"/>
<rect x="417.14" y="103.22" width="9.47" height="9.47" fill="#0024ff"/>
<rect x="426.61" y="103.22" width="9.47" height="9.47" fill="#000080"/>
<rect x="436.07" y="103.22" width="18.94" height="9.47" fill="#0024ff"/>
<rect x="455.01" y="103.22" width="9.47" height="9.47" fill="#000080"/>
<rect x="464.48" y="103.22" width="9.47" height="9.47" fill="#0024ff"/>
<rect x="473.95" y="103.22" width="9.47" height="9.47" fill="#009eff"/>
<rect x="483.42" y="103.22" width="9.47" height="9.47" fill="#ffa700"/>
<rect x="492.89" y="103.22" width="9.47" height="9.47" fill="#009eff"/>
<rect x="502.36" y="103.22" width="47.34" height="9.47" fill="#000080"/>
<rect x="398.2" y="112.69" width="9.47" height="9.47" fill="#0000d1"/>
<rect x="407.67" y="112.69" width="9.47" height="9.47" fill="#000080"/>
<rect x="417.14" y="112.69" width="37.88" height="9.47" fill="#0024ff"/>
<rect x="455.01" y="112.69" width="18.94" height="9.47" fill="#000080"/>
<rect x="473.95" y="112.69" width="9.47" height="9.47" fill="#0024ff"/>
<rect x="483.42" y="112.69" width="9.47" height="9.47" fill="#0061ff"/>
<rect x="492.89" y="112.69" width="9.47" height="9.47" fill="#ffa700"/>
<rect x="502.36" y="112.69" width="9.47" height="9.47" fill="#0024ff"/>
<rect x="511.82" y="112.69" width="9.47" height="9.47" fill="#000080"/>
<rect x="521.29" y="112.69" width="9.47" height="9.47" fill="#0024ff"/>
<rect x="530.76" y="112.69" width="9.47" height="9.47" fill="#0061ff"/>
<rect x="540.23" y="112.69" width="9.47" height="9.47" fill="#0024ff"/>
<rect x="398.2" y="122.16" width="18.94" height="9.47" fill="#0024ff"/>
<rect x="417.14" y="122.16" width="9.47" height="9.47" fill="#0061ff"/>
<rect x="426.61" y="122.16" width="9.47" height="9.47" fill="#0024ff"/>
<rect x="436.07" y="122.16" width="18.94" height="9.47" fill="#009eff"/>
<rect x="455.01" y="122.16" width="9.47" height="9.47" fill="#0061ff"/>
<rect x="464.48" y="122.16" width="28.41" height="9.47" fill="#000080"/>
<rect x="492.89" y="122.16" width="9.47" height="9.47" fill="#0024ff"/>
<rect x="502.36" y="122.16" width="9.47" height="9.47" fill="#ffa700"/>
<rect x="511.82" y="122.16" width="9.47" height="9.47" fill="#009eff"/>
<rect x="521.29" y="122.16" width="9.47" height="9.47" fill="#0061ff"/>
<rect x="530.76" y="122.16" width="18.94" height="9.47" fill="#0024ff"/>
<rect x="398.2" y="131.62" width="37.88" height="9.47" fill="#000080"/>
<rect x="436.07" y="131.62" width="9.47" height="9.47" fill="#0024ff"/>
<rect x="445.54" y="131.62" width="18.94" height="9.47" fill="#0000d1"/>
<rect x="464.48" y="131.62" width="28.41" height="9.47" fill="#000080"/>
<rect x="492.89" y="131.62" width="9.47" height="9.47" fill="#009eff"/>
<rect x="502.36" y="131.62" width="9.47" height="9.47" fill="#0024ff"/>
<rect x="511.82" y="131.62" width="9.47" height="9.47" fill="#ffa700"/>
<rect x="521.29" y="131.62" width="9.47" height="9.47" fill="#ffe500"/>
<rect x="530.76" y="131.62" width="18.94" height="9.47" fill="#0024ff"/>
<rect x="398.2" y="141.09" width="9.47" height="9.47" fill="#009eff"/>
<rect x="407.67" y="141.09" width="9.47" height="9.47" fill="#0061ff"/>
<rect x="417.14" y="141.09" width="9.47" height="9.47" fill="#0024ff"/>
<rect x="426.61" y="141.09" width="18.94" height="9.47" fill="#000080"/>
<rect x="445.54" y="141.09" width="9.47" height="9.47" fill="#0000d1"/>
<rect x="455.01" y="141.09" width="9.47" height="9.47" fill="#0061ff"/>
<rect x="464.48" y="141.09" width="9.47" height="9.47" fill="#0000d1"/>
<rect x="473.95" y="141.09" width="18.94" height="9.47" fill="#000080"/>
<rect x="492.89" y="141.09" width="9.47" height="9.47" fill="#0024ff"/>
<rect x="502.36" y="141.09" width="9.47" height="9.47" fill="#0061ff"/>
<rect x="511.82" y="141.09" width="9.47" height="9.47" fill="#0024ff"/>
<rect x="521.29" y="141.09" width="9.47" height="9.47" fill="#00dbff"/>
<rect x="530.76" y="141.09" width="9.47" height="9.47" fill="#0024ff"/>
<rect x="540.23" y="141.09" width="9.47" height="9.47" fill="#0000d1"/>
<rect x="398.2" y="150.56" width="9.47" height="9.47" fill="#0024ff"/>
<rect x="407.67" y="150.56" width="28.41" height="9.47" fill="#000080"/>
<rect x="436.07" y="150.56" width="9.47" height="9.47" fill="#0024ff"/>
<rect x="445.54" y="150.56" width="9.47" height="9.47" fill="#0000d1"/>
<rect x="455.01" y="150.56" width="9.47" height="9.47" fill="#0024ff"/>
<rect x="464.48" y="150.56" width="9.47" height="9.47" fill="#0000d1"/>
<rect x="473.95" y="150.56" width="9.47" height="9.47" fill="#000080"/>
<rect x="483.42" y="150.56" width="9.47" height="9.47" fill="#0061ff"/>
<rect x="492.89" y="150.56" width="18.94" height="9.47" fill="#0024ff"/>
<rect x="511.82" y="150.56" width="9.47" height="9.47" fill="#000080"/>
<rect x="521.29" y="150.56" width="9.47" height="9.47" fill="#0000d1"/>
<rect x="530.76" y="150.56" width="9.47" height="9.47" fill="#ffa700"/>
<rect x="540.23" y="150.56" width="9.47" height="9.47" fill="#97ff60"/>
<rect x="398.2" y="160.03" width="37.88" height="9.47" fill="#000080"/>
<rect x="436.07" y="160.03" width="9.47" height="9.47" fill="#0024ff"/>
<rect x="445.54" y="160.03" width="9.47" height="9.47" fill="#000080"/>
<rect x="455.01" y="160.03" width="9.47" height="9.47" fill="#0024ff"/>
<rect x="464.48" y="160.03" width="18.94" height="9.47" fill="#000080"/>
<rect x="483.42" y="160.03" width="18.94" height="9.47" fill="#0000d1"/>
<rect x="502.36" y="160.03" width="9.47" height="9.47" fill="#0024ff"/>
<rect x="511.82" y="160.03" width="9.47" height="9.47" fill="#0000d1"/>
<rect x="521.29" y="160.03" width="9.47" height="9.47" fill="#0061ff"/>
<rect x="530.76" y="160.03" width="9.47" height="9.47" fill="#ffe500"/>
<rect x="540.23" y="160.03" width="9.47" height="9.47" fill="#ff6800"/>
</g>
<clipPath id="cp_s3"><rect x="398.2" y="18" width="151.5" height="151.5"/></clipPath>
<g clip-path="url(#cp_s3)" shape-rendering="auto">
<line x1="398.2" y1="18" x2="549.7" y2="169.5" stroke="#ffc000" stroke-width="8"/>
<line x1="398.2" y1="18" x2="549.7" y2="169.5" stroke="#ff2a00" stroke-width="4.5"/>
</g>
<rect x="419.91" y="39.72" width="22.98" height="22.98" fill="url(#g_h)" shape-rendering="auto"/>
<rect x="449.71" y="69.51" width="14.14" height="14.14" fill="url(#g_g)" shape-rendering="auto"/>
<rect x="463.85" y="83.65" width="17.98" height="17.98" fill="url(#g_y)" shape-rendering="auto"/>
<rect x="481.83" y="101.63" width="12.07" height="12.07" fill="url(#g_y)" shape-rendering="auto"/>
<rect x="493.9" y="113.7" width="9.85" height="9.85" fill="url(#g_y)" shape-rendering="auto"/>
<rect x="503.75" y="123.55" width="8.33" height="8.33" fill="url(#g_y)" shape-rendering="auto"/>
<rect x="512.08" y="131.88" width="13.38" height="13.38" fill="url(#g_y)" shape-rendering="auto"/>
<rect x="525.96" y="145.76" width="22.98" height="22.98" fill="url(#g_g)" shape-rendering="auto"/>
<line x1="398.2" y1="18" x2="549.7" y2="169.5" stroke="#00008a" stroke-width="1.15" shape-rendering="auto"/>
<rect x="419.91" y="39.72" width="22.98" height="22.98" fill="none" stroke="#000" stroke-width="2.2" shape-rendering="auto"/>
<rect x="449.71" y="69.51" width="14.14" height="14.14" fill="none" stroke="#000" stroke-width="2.2" shape-rendering="auto"/>
<rect x="463.85" y="83.65" width="17.98" height="17.98" fill="none" stroke="#000" stroke-width="2.2" shape-rendering="auto"/>
<rect x="481.83" y="101.63" width="12.07" height="12.07" fill="none" stroke="#000" stroke-width="2.2" shape-rendering="auto"/>
<rect x="493.9" y="113.7" width="9.85" height="9.85" fill="none" stroke="#000" stroke-width="2.2" shape-rendering="auto"/>
<rect x="503.75" y="123.55" width="8.33" height="8.33" fill="none" stroke="#000" stroke-width="2.2" shape-rendering="auto"/>
<rect x="512.08" y="131.88" width="13.38" height="13.38" fill="none" stroke="#000" stroke-width="2.2" shape-rendering="auto"/>
<rect x="525.96" y="145.76" width="22.98" height="22.98" fill="none" stroke="#000" stroke-width="2.2" shape-rendering="auto"/>
<rect x="398.2" y="18" width="151.5" height="151.5" fill="none" stroke="#111" stroke-width="1.1" shape-rendering="auto"/>
<line x1="394.7" y1="17.5" x2="398.2" y2="17.5" stroke="#111" stroke-width="1" shape-rendering="crispEdges"/>
<line x1="397.5" y1="169.5" x2="397.5" y2="173" stroke="#111" stroke-width="1" shape-rendering="crispEdges"/>
<line x1="394.7" y1="68.5" x2="398.2" y2="68.5" stroke="#111" stroke-width="1" shape-rendering="crispEdges"/>
<line x1="448.5" y1="169.5" x2="448.5" y2="173" stroke="#111" stroke-width="1" shape-rendering="crispEdges"/>
<line x1="394.7" y1="118.5" x2="398.2" y2="118.5" stroke="#111" stroke-width="1" shape-rendering="crispEdges"/>
<line x1="498.5" y1="169.5" x2="498.5" y2="173" stroke="#111" stroke-width="1" shape-rendering="crispEdges"/>
<line x1="394.7" y1="169.5" x2="398.2" y2="169.5" stroke="#111" stroke-width="1" shape-rendering="crispEdges"/>
<line x1="549.5" y1="169.5" x2="549.5" y2="173" stroke="#111" stroke-width="1" shape-rendering="crispEdges"/>
<text x="474.15" y="14.6" font-size="18" text-anchor="middle" textLength="23.2" lengthAdjust="spacingAndGlyphs">s3</text>
<g>
<rect x="566.7" y="18" width="9.47" height="9.47" fill="#ff6800"/>
<rect x="576.17" y="18" width="9.47" height="9.47" fill="#29ffce"/>
<rect x="585.64" y="18" width="9.47" height="9.47" fill="#0061ff"/>
<rect x="595.11" y="18" width="9.47" height="9.47" fill="#0000d1"/>
<rect x="604.58" y="18" width="85.22" height="9.47" fill="#000080"/>
<rect x="689.79" y="18" width="18.94" height="9.47" fill="#0024ff"/>
<rect x="708.73" y="18" width="9.47" height="9.47" fill="#0000d1"/>
<rect x="566.7" y="27.47" width="9.47" height="9.47" fill="#009eff"/>
<rect x="576.17" y="27.47" width="9.47" height="9.47" fill="#ffa700"/>
<rect x="585.64" y="27.47" width="9.47" height="9.47" fill="#00dbff"/>
<rect x="595.11" y="27.47" width="18.94" height="9.47" fill="#0000d1"/>
<rect x="614.04" y="27.47" width="28.41" height="9.47" fill="#0024ff"/>
<rect x="642.45" y="27.47" width="75.75" height="9.47" fill="#0000d1"/>
<rect x="566.7" y="36.94" width="9.47" height="9.47" fill="#0000d1"/>
<rect x="576.17" y="36.94" width="9.47" height="9.47" fill="#0061ff"/>
<rect x="585.64" y="36.94" width="9.47" height="9.47" fill="#ff6800"/>
<rect x="595.11" y="36.94" width="9.47" height="9.47" fill="#0024ff"/>
<rect x="604.58" y="36.94" width="28.41" height="9.47" fill="#000080"/>
<rect x="632.98" y="36.94" width="9.47" height="9.47" fill="#0000d1"/>
<rect x="642.45" y="36.94" width="9.47" height="9.47" fill="#0024ff"/>
<rect x="651.92" y="36.94" width="9.47" height="9.47" fill="#0000d1"/>
<rect x="661.39" y="36.94" width="56.81" height="9.47" fill="#000080"/>
<rect x="566.7" y="46.41" width="28.41" height="9.47" fill="#000080"/>
<rect x="595.11" y="46.41" width="9.47" height="9.47" fill="#97ff60"/>
<rect x="604.58" y="46.41" width="9.47" height="9.47" fill="#ff6800"/>
<rect x="614.04" y="46.41" width="18.94" height="9.47" fill="#00dbff"/>
<rect x="632.98" y="46.41" width="37.88" height="9.47" fill="#97ff60"/>
<rect x="670.86" y="46.41" width="18.94" height="9.47" fill="#60ff97"/>
<rect x="689.79" y="46.41" width="28.41" height="9.47" fill="#97ff60"/>
<rect x="566.7" y="55.88" width="28.41" height="9.47" fill="#000080"/>
<rect x="595.11" y="55.88" width="9.47" height="9.47" fill="#97ff60"/>
<rect x="604.58" y="55.88" width="9.47" height="9.47" fill="#ffa700"/>
<rect x="614.04" y="55.88" width="9.47" height="9.47" fill="#ff6800"/>
<rect x="623.51" y="55.88" width="9.47" height="9.47" fill="#29ffce"/>
<rect x="632.98" y="55.88" width="9.47" height="9.47" fill="#60ff97"/>
<rect x="642.45" y="55.88" width="18.94" height="9.47" fill="#29ffce"/>
<rect x="661.39" y="55.88" width="9.47" height="9.47" fill="#97ff60"/>
<rect x="670.86" y="55.88" width="18.94" height="9.47" fill="#60ff97"/>
<rect x="689.79" y="55.88" width="28.41" height="9.47" fill="#97ff60"/>
<rect x="566.7" y="65.34" width="28.41" height="9.47" fill="#000080"/>
<rect x="595.11" y="65.34" width="9.47" height="9.47" fill="#29ffce"/>
<rect x="604.58" y="65.34" width="9.47" height="9.47" fill="#97ff60"/>
<rect x="614.04" y="65.34" width="9.47" height="9.47" fill="#ffa700"/>
<rect x="623.51" y="65.34" width="9.47" height="9.47" fill="#ff6800"/>
<rect x="632.98" y="65.34" width="37.88" height="9.47" fill="#00dbff"/>
<rect x="670.86" y="65.34" width="9.47" height="9.47" fill="#009eff"/>
<rect x="680.33" y="65.34" width="18.94" height="9.47" fill="#97ff60"/>
<rect x="699.26" y="65.34" width="9.47" height="9.47" fill="#29ffce"/>
<rect x="708.73" y="65.34" width="9.47" height="9.47" fill="#00dbff"/>
<rect x="566.7" y="74.81" width="28.41" height="9.47" fill="#000080"/>
<rect x="595.11" y="74.81" width="9.47" height="9.47" fill="#00dbff"/>
<rect x="604.58" y="74.81" width="9.47" height="9.47" fill="#29ffce"/>
<rect x="614.04" y="74.81" width="9.47" height="9.47" fill="#ceff29"/>
<rect x="623.51" y="74.81" width="9.47" height="9.47" fill="#ffa700"/>
<rect x="632.98" y="74.81" width="18.94" height="9.47" fill="#97ff60"/>
<rect x="651.92" y="74.81" width="9.47" height="9.47" fill="#ceff29"/>
<rect x="661.39" y="74.81" width="9.47" height="9.47" fill="#00dbff"/>
<rect x="670.86" y="74.81" width="9.47" height="9.47" fill="#0061ff"/>
<rect x="680.33" y="74.81" width="37.88" height="9.47" fill="#00dbff"/>
<rect x="566.7" y="84.28" width="28.41" height="9.47" fill="#000080"/>
<rect x="595.11" y="84.28" width="18.94" height="9.47" fill="#97ff60"/>
<rect x="614.04" y="84.28" width="9.47" height="9.47" fill="#00dbff"/>
<rect x="623.51" y="84.28" width="9.47" height="9.47" fill="#97ff60"/>
<rect x="632.98" y="84.28" width="9.47" height="9.47" fill="#ff6800"/>
<rect x="642.45" y="84.28" width="9.47" height="9.47" fill="#ffa700"/>
<rect x="651.92" y="84.28" width="9.47" height="9.47" fill="#ffe500"/>
<rect x="661.39" y="84.28" width="9.47" height="9.47" fill="#00dbff"/>
<rect x="670.86" y="84.28" width="9.47" height="9.47" fill="#009eff"/>
<rect x="680.33" y="84.28" width="37.88" height="9.47" fill="#29ffce"/>
<rect x="566.7" y="93.75" width="28.41" height="9.47" fill="#000080"/>
<rect x="595.11" y="93.75" width="18.94" height="9.47" fill="#29ffce"/>
<rect x="614.04" y="93.75" width="9.47" height="9.47" fill="#009eff"/>
<rect x="623.51" y="93.75" width="9.47" height="9.47" fill="#ceff29"/>
<rect x="632.98" y="93.75" width="18.94" height="9.47" fill="#ff6800"/>
<rect x="651.92" y="93.75" width="9.47" height="9.47" fill="#ffa700"/>
<rect x="661.39" y="93.75" width="9.47" height="9.47" fill="#00dbff"/>
<rect x="670.86" y="93.75" width="9.47" height="9.47" fill="#0061ff"/>
<rect x="680.33" y="93.75" width="9.47" height="9.47" fill="#00dbff"/>
<rect x="689.79" y="93.75" width="9.47" height="9.47" fill="#29ffce"/>
<rect x="699.26" y="93.75" width="9.47" height="9.47" fill="#00dbff"/>
<rect x="708.73" y="93.75" width="9.47" height="9.47" fill="#29ffce"/>
<rect x="566.7" y="103.22" width="28.41" height="9.47" fill="#000080"/>
<rect x="595.11" y="103.22" width="9.47" height="9.47" fill="#ffa700"/>
<rect x="604.58" y="103.22" width="18.94" height="9.47" fill="#29ffce"/>
<rect x="623.51" y="103.22" width="9.47" height="9.47" fill="#00dbff"/>
<rect x="632.98" y="103.22" width="18.94" height="9.47" fill="#ffa700"/>
<rect x="651.92" y="103.22" width="9.47" height="9.47" fill="#ff6800"/>
<rect x="661.39" y="103.22" width="9.47" height="9.47" fill="#00dbff"/>
<rect x="670.86" y="103.22" width="9.47" height="9.47" fill="#0061ff"/>
<rect x="680.33" y="103.22" width="9.47" height="9.47" fill="#00dbff"/>
<rect x="689.79" y="103.22" width="9.47" height="9.47" fill="#29ffce"/>
<rect x="699.26" y="103.22" width="9.47" height="9.47" fill="#00dbff"/>
<rect x="708.73" y="103.22" width="9.47" height="9.47" fill="#60ff97"/>
<rect x="566.7" y="112.69" width="28.41" height="9.47" fill="#000080"/>
<rect x="595.11" y="112.69" width="9.47" height="9.47" fill="#ffe500"/>
<rect x="604.58" y="112.69" width="37.88" height="9.47" fill="#29ffce"/>
<rect x="642.45" y="112.69" width="9.47" height="9.47" fill="#00dbff"/>
<rect x="651.92" y="112.69" width="9.47" height="9.47" fill="#97ff60"/>
<rect x="661.39" y="112.69" width="18.94" height="9.47" fill="#ff6800"/>
<rect x="680.33" y="112.69" width="28.41" height="9.47" fill="#ffe500"/>
<rect x="708.73" y="112.69" width="9.47" height="9.47" fill="#60ff97"/>
<rect x="566.7" y="122.16" width="28.41" height="9.47" fill="#000080"/>
<rect x="595.11" y="122.16" width="18.94" height="9.47" fill="#ceff29"/>
<rect x="614.04" y="122.16" width="9.47" height="9.47" fill="#29ffce"/>
<rect x="623.51" y="122.16" width="18.94" height="9.47" fill="#009eff"/>
<rect x="642.45" y="122.16" width="9.47" height="9.47" fill="#0061ff"/>
<rect x="651.92" y="122.16" width="9.47" height="9.47" fill="#009eff"/>
<rect x="661.39" y="122.16" width="9.47" height="9.47" fill="#ff6800"/>
<rect x="670.86" y="122.16" width="9.47" height="9.47" fill="#ff2900"/>
<rect x="680.33" y="122.16" width="18.94" height="9.47" fill="#ffe500"/>
<rect x="699.26" y="122.16" width="9.47" height="9.47" fill="#60ff97"/>
<rect x="708.73" y="122.16" width="9.47" height="9.47" fill="#00dbff"/>
<rect x="566.7" y="131.62" width="28.41" height="9.47" fill="#000080"/>
<rect x="595.11" y="131.62" width="28.41" height="9.47" fill="#97ff60"/>
<rect x="623.51" y="131.62" width="37.88" height="9.47" fill="#00dbff"/>
<rect x="661.39" y="131.62" width="9.47" height="9.47" fill="#60ff97"/>
<rect x="670.86" y="131.62" width="18.94" height="9.47" fill="#ff2900"/>
<rect x="689.79" y="131.62" width="18.94" height="9.47" fill="#97ff60"/>
<rect x="708.73" y="131.62" width="9.47" height="9.47" fill="#60ff97"/>
<rect x="566.7" y="141.09" width="9.47" height="9.47" fill="#0024ff"/>
<rect x="576.17" y="141.09" width="18.94" height="9.47" fill="#000080"/>
<rect x="595.11" y="141.09" width="28.41" height="9.47" fill="#97ff60"/>
<rect x="623.51" y="141.09" width="9.47" height="9.47" fill="#00dbff"/>
<rect x="632.98" y="141.09" width="9.47" height="9.47" fill="#29ffce"/>
<rect x="642.45" y="141.09" width="18.94" height="9.47" fill="#00dbff"/>
<rect x="661.39" y="141.09" width="9.47" height="9.47" fill="#97ff60"/>
<rect x="670.86" y="141.09" width="9.47" height="9.47" fill="#ff6800"/>
<rect x="680.33" y="141.09" width="9.47" height="9.47" fill="#ff2900"/>
<rect x="689.79" y="141.09" width="9.47" height="9.47" fill="#ffe500"/>
<rect x="699.26" y="141.09" width="9.47" height="9.47" fill="#ff6800"/>
<rect x="708.73" y="141.09" width="9.47" height="9.47" fill="#ffa700"/>
<rect x="566.7" y="150.56" width="9.47" height="9.47" fill="#0024ff"/>
<rect x="576.17" y="150.56" width="18.94" height="9.47" fill="#000080"/>
<rect x="595.11" y="150.56" width="18.94" height="9.47" fill="#ceff29"/>
<rect x="614.04" y="150.56" width="9.47" height="9.47" fill="#60ff97"/>
<rect x="623.51" y="150.56" width="37.88" height="9.47" fill="#00dbff"/>
<rect x="661.39" y="150.56" width="9.47" height="9.47" fill="#ceff29"/>
<rect x="670.86" y="150.56" width="9.47" height="9.47" fill="#60ff97"/>
<rect x="680.33" y="150.56" width="9.47" height="9.47" fill="#97ff60"/>
<rect x="689.79" y="150.56" width="9.47" height="9.47" fill="#ff6800"/>
<rect x="699.26" y="150.56" width="9.47" height="9.47" fill="#cd0000"/>
<rect x="708.73" y="150.56" width="9.47" height="9.47" fill="#ff2900"/>
<rect x="566.7" y="160.03" width="28.41" height="9.47" fill="#000080"/>
<rect x="595.11" y="160.03" width="18.94" height="9.47" fill="#ceff29"/>
<rect x="614.04" y="160.03" width="9.47" height="9.47" fill="#60ff97"/>
<rect x="623.51" y="160.03" width="9.47" height="9.47" fill="#29ffce"/>
<rect x="632.98" y="160.03" width="9.47" height="9.47" fill="#60ff97"/>
<rect x="642.45" y="160.03" width="18.94" height="9.47" fill="#00dbff"/>
<rect x="661.39" y="160.03" width="9.47" height="9.47" fill="#ceff29"/>
<rect x="670.86" y="160.03" width="9.47" height="9.47" fill="#00dbff"/>
<rect x="680.33" y="160.03" width="9.47" height="9.47" fill="#ceff29"/>
<rect x="689.79" y="160.03" width="9.47" height="9.47" fill="#ff6800"/>
<rect x="699.26" y="160.03" width="18.94" height="9.47" fill="#ff2900"/>
<rect x="581.85" y="47.8" width="4.55" height="121.7" fill="#0024ff"/>
<rect x="590.94" y="47.8" width="4.04" height="63.13" fill="#0024ff"/>
<rect x="617.2" y="127.08" width="45.45" height="5.05" fill="#0061ff"/>
<rect x="676.29" y="68.5" width="5.05" height="45.45" fill="#0061ff"/>
<rect x="597.3" y="106.88" width="8.38" height="20.2" fill="#ffe500"/>
<rect x="597.3" y="106.88" width="8.38" height="3.53" fill="#ff2900"/>
</g>
<clipPath id="cp_s4"><rect x="566.7" y="18" width="151.5" height="151.5"/></clipPath>
<g clip-path="url(#cp_s4)" shape-rendering="auto">
<line x1="566.7" y1="18" x2="718.2" y2="169.5" stroke="#ffc000" stroke-width="8"/>
<line x1="566.7" y1="18" x2="718.2" y2="169.5" stroke="#ff2a00" stroke-width="4.5"/>
</g>
<rect x="599.27" y="50.57" width="19.95" height="19.95" fill="url(#g_hy)" shape-rendering="auto"/>
<rect x="609.12" y="60.42" width="23.23" height="23.23" fill="url(#g_hy)" shape-rendering="auto"/>
<rect x="626.8" y="78.09" width="36.36" height="36.36" fill="url(#g_hy)" shape-rendering="auto"/>
<rect x="657.6" y="108.9" width="11.62" height="11.62" fill="url(#g_h)" shape-rendering="auto"/>
<rect x="664.17" y="115.47" width="20.45" height="20.45" fill="url(#g_h)" shape-rendering="auto"/>
<rect x="681.34" y="132.63" width="19.44" height="19.44" fill="url(#g_h)" shape-rendering="auto"/>
<rect x="692.45" y="143.75" width="24.24" height="24.24" fill="url(#g_h)" shape-rendering="auto"/>
<line x1="566.7" y1="18" x2="718.2" y2="169.5" stroke="#00008a" stroke-width="1.15" shape-rendering="auto"/>
<rect x="599.27" y="50.57" width="19.95" height="19.95" fill="none" stroke="#000" stroke-width="2.2" shape-rendering="auto"/>
<rect x="609.12" y="60.42" width="23.23" height="23.23" fill="none" stroke="#000" stroke-width="2.2" shape-rendering="auto"/>
<rect x="626.8" y="78.09" width="36.36" height="36.36" fill="none" stroke="#000" stroke-width="2.2" shape-rendering="auto"/>
<rect x="657.6" y="108.9" width="11.62" height="11.62" fill="none" stroke="#000" stroke-width="2.2" shape-rendering="auto"/>
<rect x="664.17" y="115.47" width="20.45" height="20.45" fill="none" stroke="#000" stroke-width="2.2" shape-rendering="auto"/>
<rect x="681.34" y="132.63" width="19.44" height="19.44" fill="none" stroke="#000" stroke-width="2.2" shape-rendering="auto"/>
<rect x="692.45" y="143.75" width="24.24" height="24.24" fill="none" stroke="#000" stroke-width="2.2" shape-rendering="auto"/>
<rect x="597.3" y="106.88" width="8.38" height="20.2" fill="none" stroke="#000" stroke-width="2.2" shape-rendering="auto"/>
<rect x="566.7" y="18" width="151.5" height="151.5" fill="none" stroke="#111" stroke-width="1.1" shape-rendering="auto"/>
<line x1="563.2" y1="17.5" x2="566.7" y2="17.5" stroke="#111" stroke-width="1" shape-rendering="crispEdges"/>
<line x1="566.5" y1="169.5" x2="566.5" y2="173" stroke="#111" stroke-width="1" shape-rendering="crispEdges"/>
<line x1="563.2" y1="68.5" x2="566.7" y2="68.5" stroke="#111" stroke-width="1" shape-rendering="crispEdges"/>
<line x1="616.5" y1="169.5" x2="616.5" y2="173" stroke="#111" stroke-width="1" shape-rendering="crispEdges"/>
<line x1="563.2" y1="118.5" x2="566.7" y2="118.5" stroke="#111" stroke-width="1" shape-rendering="crispEdges"/>
<line x1="667.5" y1="169.5" x2="667.5" y2="173" stroke="#111" stroke-width="1" shape-rendering="crispEdges"/>
<line x1="563.2" y1="169.5" x2="566.7" y2="169.5" stroke="#111" stroke-width="1" shape-rendering="crispEdges"/>
<line x1="717.5" y1="169.5" x2="717.5" y2="173" stroke="#111" stroke-width="1" shape-rendering="crispEdges"/>
<text x="642.65" y="14.6" font-size="18" text-anchor="middle" textLength="23.2" lengthAdjust="spacingAndGlyphs">s4</text>
<g>
<rect x="61.2" y="202.4" width="9.47" height="9.47" fill="#ff6800"/>
<rect x="70.67" y="202.4" width="9.47" height="9.47" fill="#97ff60"/>
<rect x="80.14" y="202.4" width="9.47" height="9.47" fill="#00dbff"/>
<rect x="89.61" y="202.4" width="9.47" height="9.47" fill="#0061ff"/>
<rect x="99.08" y="202.4" width="47.34" height="9.47" fill="#000080"/>
<rect x="146.42" y="202.4" width="9.47" height="9.47" fill="#0000d1"/>
<rect x="155.89" y="202.4" width="37.88" height="9.47" fill="#000080"/>
<rect x="193.76" y="202.4" width="18.94" height="9.47" fill="#0024ff"/>
<rect x="61.2" y="211.87" width="9.47" height="9.47" fill="#29ffce"/>
<rect x="70.67" y="211.87" width="9.47" height="9.47" fill="#ff6800"/>
<rect x="80.14" y="211.87" width="9.47" height="9.47" fill="#60ff97"/>
<rect x="89.61" y="211.87" width="9.47" height="9.47" fill="#009eff"/>
<rect x="99.08" y="211.87" width="28.41" height="9.47" fill="#000080"/>
<rect x="127.48" y="211.87" width="18.94" height="9.47" fill="#0000d1"/>
<rect x="146.42" y="211.87" width="37.88" height="9.47" fill="#000080"/>
<rect x="184.29" y="211.87" width="9.47" height="9.47" fill="#0000d1"/>
<rect x="193.76" y="211.87" width="9.47" height="9.47" fill="#0061ff"/>
<rect x="203.23" y="211.87" width="9.47" height="9.47" fill="#0024ff"/>
<rect x="61.2" y="221.34" width="9.47" height="9.47" fill="#00dbff"/>
<rect x="70.67" y="221.34" width="9.47" height="9.47" fill="#29ffce"/>
<rect x="80.14" y="221.34" width="9.47" height="9.47" fill="#ffe500"/>
<rect x="89.61" y="221.34" width="9.47" height="9.47" fill="#60ff97"/>
<rect x="99.08" y="221.34" width="9.47" height="9.47" fill="#0061ff"/>
<rect x="108.54" y="221.34" width="9.47" height="9.47" fill="#0024ff"/>
<rect x="118.01" y="221.34" width="9.47" height="9.47" fill="#0000d1"/>
<rect x="127.48" y="221.34" width="9.47" height="9.47" fill="#0061ff"/>
<rect x="136.95" y="221.34" width="9.47" height="9.47" fill="#0024ff"/>
<rect x="146.42" y="221.34" width="18.94" height="9.47" fill="#000080"/>
<rect x="165.36" y="221.34" width="18.94" height="9.47" fill="#0000d1"/>
<rect x="184.29" y="221.34" width="18.94" height="9.47" fill="#0024ff"/>
<rect x="203.23" y="221.34" width="9.47" height="9.47" fill="#0000d1"/>
<rect x="61.2" y="230.81" width="9.47" height="9.47" fill="#000080"/>
<rect x="70.67" y="230.81" width="9.47" height="9.47" fill="#0000d1"/>
<rect x="80.14" y="230.81" width="9.47" height="9.47" fill="#00dbff"/>
<rect x="89.61" y="230.81" width="9.47" height="9.47" fill="#ffe500"/>
<rect x="99.08" y="230.81" width="9.47" height="9.47" fill="#97ff60"/>
<rect x="108.54" y="230.81" width="9.47" height="9.47" fill="#0024ff"/>
<rect x="118.01" y="230.81" width="9.47" height="9.47" fill="#0061ff"/>
<rect x="127.48" y="230.81" width="9.47" height="9.47" fill="#00dbff"/>
<rect x="136.95" y="230.81" width="9.47" height="9.47" fill="#0024ff"/>
<rect x="146.42" y="230.81" width="18.94" height="9.47" fill="#000080"/>
<rect x="165.36" y="230.81" width="28.41" height="9.47" fill="#0024ff"/>
<rect x="193.76" y="230.81" width="9.47" height="9.47" fill="#0061ff"/>
<rect x="203.23" y="230.81" width="9.47" height="9.47" fill="#0024ff"/>
<rect x="61.2" y="240.28" width="18.94" height="9.47" fill="#000080"/>
<rect x="80.14" y="240.28" width="9.47" height="9.47" fill="#0024ff"/>
<rect x="89.61" y="240.28" width="9.47" height="9.47" fill="#ff2900"/>
<rect x="99.08" y="240.28" width="9.47" height="9.47" fill="#cd0000"/>
<rect x="108.54" y="240.28" width="9.47" height="9.47" fill="#ffa700"/>
<rect x="118.01" y="240.28" width="9.47" height="9.47" fill="#0024ff"/>
<rect x="127.48" y="240.28" width="9.47" height="9.47" fill="#00dbff"/>
<rect x="136.95" y="240.28" width="9.47" height="9.47" fill="#0024ff"/>
<rect x="146.42" y="240.28" width="18.94" height="9.47" fill="#000080"/>
<rect x="165.36" y="240.28" width="28.41" height="9.47" fill="#0024ff"/>
<rect x="193.76" y="240.28" width="9.47" height="9.47" fill="#0061ff"/>
<rect x="203.23" y="240.28" width="9.47" height="9.47" fill="#0024ff"/>
<rect x="61.2" y="249.74" width="18.94" height="9.47" fill="#000080"/>
<rect x="80.14" y="249.74" width="18.94" height="9.47" fill="#0024ff"/>
<rect x="99.08" y="249.74" width="18.94" height="9.47" fill="#ffe500"/>
<rect x="118.01" y="249.74" width="9.47" height="9.47" fill="#ceff29"/>
<rect x="127.48" y="249.74" width="9.47" height="9.47" fill="#29ffce"/>
<rect x="136.95" y="249.74" width="18.94" height="9.47" fill="#0061ff"/>
<rect x="155.89" y="249.74" width="9.47" height="9.47" fill="#009eff"/>
<rect x="165.36" y="249.74" width="9.47" height="9.47" fill="#29ffce"/>
<rect x="174.82" y="249.74" width="9.47" height="9.47" fill="#009eff"/>
<rect x="184.29" y="249.74" width="28.41" height="9.47" fill="#0024ff"/>
<rect x="61.2" y="259.21" width="18.94" height="9.47" fill="#000080"/>
<rect x="80.14" y="259.21" width="9.47" height="9.47" fill="#0061ff"/>
<rect x="89.61" y="259.21" width="18.94" height="9.47" fill="#0024ff"/>
<rect x="108.54" y="259.21" width="9.47" height="9.47" fill="#60ff97"/>
<rect x="118.01" y="259.21" width="9.47" height="9.47" fill="#ff2900"/>
<rect x="127.48" y="259.21" width="9.47" height="9.47" fill="#ffe500"/>
<rect x="136.95" y="259.21" width="9.47" height="9.47" fill="#29ffce"/>
<rect x="146.42" y="259.21" width="9.47" height="9.47" fill="#00dbff"/>
<rect x="155.89" y="259.21" width="9.47" height="9.47" fill="#29ffce"/>
<rect x="165.36" y="259.21" width="9.47" height="9.47" fill="#60ff97"/>
<rect x="174.82" y="259.21" width="9.47" height="9.47" fill="#29ffce"/>
<rect x="184.29" y="259.21" width="9.47" height="9.47" fill="#00dbff"/>
<rect x="193.76" y="259.21" width="9.47" height="9.47" fill="#29ffce"/>
<rect x="203.23" y="259.21" width="9.47" height="9.47" fill="#0024ff"/>
<rect x="61.2" y="268.68" width="9.47" height="9.47" fill="#000080"/>
<rect x="70.67" y="268.68" width="18.94" height="9.47" fill="#0024ff"/>
<rect x="89.61" y="268.68" width="18.94" height="9.47" fill="#00dbff"/>
<rect x="108.54" y="268.68" width="9.47" height="9.47" fill="#60ff97"/>
<rect x="118.01" y="268.68" width="9.47" height="9.47" fill="#ff6800"/>
<rect x="127.48" y="268.68" width="9.47" height="9.47" fill="#ff2900"/>
<rect x="136.95" y="268.68" width="9.47" height="9.47" fill="#97ff60"/>
<rect x="146.42" y="268.68" width="18.94" height="9.47" fill="#00dbff"/>
<rect x="165.36" y="268.68" width="9.47" height="9.47" fill="#ffe500"/>
<rect x="174.82" y="268.68" width="9.47" height="9.47" fill="#ceff29"/>
<rect x="184.29" y="268.68" width="9.47" height="9.47" fill="#ffe500"/>
<rect x="193.76" y="268.68" width="9.47" height="9.47" fill="#ffa700"/>
<rect x="203.23" y="268.68" width="9.47" height="9.47" fill="#0024ff"/>
<rect x="61.2" y="278.15" width="9.47" height="9.47" fill="#000080"/>
<rect x="70.67" y="278.15" width="9.47" height="9.47" fill="#0000d1"/>
<rect x="80.14" y="278.15" width="9.47" height="9.47" fill="#0024ff"/>
<rect x="89.61" y="278.15" width="9.47" height="9.47" fill="#009eff"/>
<rect x="99.08" y="278.15" width="9.47" height="9.47" fill="#00dbff"/>
<rect x="108.54" y="278.15" width="9.47" height="9.47" fill="#009eff"/>
<rect x="118.01" y="278.15" width="9.47" height="9.47" fill="#00dbff"/>
<rect x="127.48" y="278.15" width="9.47" height="9.47" fill="#009eff"/>
<rect x="136.95" y="278.15" width="9.47" height="9.47" fill="#ffa700"/>
<rect x="146.42" y="278.15" width="9.47" height="9.47" fill="#60ff97"/>
<rect x="155.89" y="278.15" width="9.47" height="9.47" fill="#00dbff"/>
<rect x="165.36" y="278.15" width="9.47" height="9.47" fill="#29ffce"/>
<rect x="174.82" y="278.15" width="9.47" height="9.47" fill="#97ff60"/>
<rect x="184.29" y="278.15" width="9.47" height="9.47" fill="#29ffce"/>
<rect x="193.76" y="278.15" width="9.47" height="9.47" fill="#009eff"/>
<rect x="203.23" y="278.15" width="9.47" height="9.47" fill="#0000d1"/>
<rect x="61.2" y="287.62" width="9.47" height="9.47" fill="#0000d1"/>
<rect x="70.67" y="287.62" width="37.88" height="9.47" fill="#000080"/>
<rect x="108.54" y="287.62" width="9.47" height="9.47" fill="#0000d1"/>
<rect x="118.01" y="287.62" width="28.41" height="9.47" fill="#009eff"/>
<rect x="146.42" y="287.62" width="9.47" height="9.47" fill="#ffa700"/>
<rect x="155.89" y="287.62" width="9.47" height="9.47" fill="#ff6800"/>
<rect x="165.36" y="287.62" width="9.47" height="9.47" fill="#60ff97"/>
<rect x="174.82" y="287.62" width="18.94" height="9.47" fill="#00dbff"/>
<rect x="193.76" y="287.62" width="9.47" height="9.47" fill="#0024ff"/>
<rect x="203.23" y="287.62" width="9.47" height="9.47" fill="#0000d1"/>
<rect x="61.2" y="297.09" width="47.34" height="9.47" fill="#000080"/>
<rect x="108.54" y="297.09" width="9.47" height="9.47" fill="#0061ff"/>
<rect x="118.01" y="297.09" width="18.94" height="9.47" fill="#00dbff"/>
<rect x="136.95" y="297.09" width="9.47" height="9.47" fill="#29ffce"/>
<rect x="146.42" y="297.09" width="9.47" height="9.47" fill="#ffa700"/>
<rect x="155.89" y="297.09" width="18.94" height="9.47" fill="#ceff29"/>
<rect x="174.82" y="297.09" width="9.47" height="9.47" fill="#29ffce"/>
<rect x="184.29" y="297.09" width="9.47" height="9.47" fill="#60ff97"/>
<rect x="193.76" y="297.09" width="9.47" height="9.47" fill="#009eff"/>
<rect x="203.23" y="297.09" width="9.47" height="9.47" fill="#0000d1"/>
<rect x="61.2" y="306.56" width="28.41" height="9.47" fill="#000080"/>
<rect x="89.61" y="306.56" width="18.94" height="9.47" fill="#0024ff"/>
<rect x="108.54" y="306.56" width="9.47" height="9.47" fill="#60ff97"/>
<rect x="118.01" y="306.56" width="9.47" height="9.47" fill="#97ff60"/>
<rect x="127.48" y="306.56" width="9.47" height="9.47" fill="#60ff97"/>
<rect x="136.95" y="306.56" width="9.47" height="9.47" fill="#97ff60"/>
<rect x="146.42" y="306.56" width="9.47" height="9.47" fill="#29ffce"/>
<rect x="155.89" y="306.56" width="18.94" height="9.47" fill="#ff6800"/>
<rect x="174.82" y="306.56" width="9.47" height="9.47" fill="#97ff60"/>
<rect x="184.29" y="306.56" width="9.47" height="9.47" fill="#60ff97"/>
<rect x="193.76" y="306.56" width="9.47" height="9.47" fill="#009eff"/>
<rect x="203.23" y="306.56" width="9.47" height="9.47" fill="#0024ff"/>
<rect x="61.2" y="316.02" width="28.41" height="9.47" fill="#000080"/>
<rect x="89.61" y="316.02" width="9.47" height="9.47" fill="#0000d1"/>
<rect x="99.08" y="316.02" width="9.47" height="9.47" fill="#0024ff"/>
<rect x="108.54" y="316.02" width="9.47" height="9.47" fill="#009eff"/>
<rect x="118.01" y="316.02" width="18.94" height="9.47" fill="#29ffce"/>
<rect x="136.95" y="316.02" width="9.47" height="9.47" fill="#00dbff"/>
<rect x="146.42" y="316.02" width="9.47" height="9.47" fill="#009eff"/>
<rect x="155.89" y="316.02" width="9.47" height="9.47" fill="#ceff29"/>
<rect x="165.36" y="316.02" width="9.47" height="9.47" fill="#ff2900"/>
<rect x="174.82" y="316.02" width="9.47" height="9.47" fill="#97ff60"/>
<rect x="184.29" y="316.02" width="9.47" height="9.47" fill="#60ff97"/>
<rect x="193.76" y="316.02" width="9.47" height="9.47" fill="#0024ff"/>
<rect x="203.23" y="316.02" width="9.47" height="9.47" fill="#0000d1"/>
<rect x="61.2" y="325.49" width="9.47" height="9.47" fill="#000080"/>
<rect x="70.67" y="325.49" width="37.88" height="9.47" fill="#0024ff"/>
<rect x="108.54" y="325.49" width="9.47" height="9.47" fill="#0061ff"/>
<rect x="118.01" y="325.49" width="9.47" height="9.47" fill="#00dbff"/>
<rect x="127.48" y="325.49" width="9.47" height="9.47" fill="#60ff97"/>
<rect x="136.95" y="325.49" width="9.47" height="9.47" fill="#ffe500"/>
<rect x="146.42" y="325.49" width="9.47" height="9.47" fill="#00dbff"/>
<rect x="155.89" y="325.49" width="18.94" height="9.47" fill="#97ff60"/>
<rect x="174.82" y="325.49" width="9.47" height="9.47" fill="#cd0000"/>
<rect x="184.29" y="325.49" width="9.47" height="9.47" fill="#97ff60"/>
<rect x="193.76" y="325.49" width="9.47" height="9.47" fill="#0024ff"/>
<rect x="203.23" y="325.49" width="9.47" height="9.47" fill="#0000d1"/>
<rect x="61.2" y="334.96" width="9.47" height="9.47" fill="#0024ff"/>
<rect x="70.67" y="334.96" width="9.47" height="9.47" fill="#0061ff"/>
<rect x="80.14" y="334.96" width="9.47" height="9.47" fill="#0024ff"/>
<rect x="89.61" y="334.96" width="18.94" height="9.47" fill="#0061ff"/>
<rect x="108.54" y="334.96" width="9.47" height="9.47" fill="#0000d1"/>
<rect x="118.01" y="334.96" width="9.47" height="9.47" fill="#00dbff"/>
<rect x="127.48" y="334.96" width="9.47" height="9.47" fill="#ceff29"/>
<rect x="136.95" y="334.96" width="18.94" height="9.47" fill="#0061ff"/>
<rect x="155.89" y="334.96" width="9.47" height="9.47" fill="#009eff"/>
<rect x="165.36" y="334.96" width="9.47" height="9.47" fill="#00dbff"/>
<rect x="174.82" y="334.96" width="9.47" height="9.47" fill="#29ffce"/>
<rect x="184.29" y="334.96" width="9.47" height="9.47" fill="#0024ff"/>
<rect x="193.76" y="334.96" width="9.47" height="9.47" fill="#29ffce"/>
<rect x="203.23" y="334.96" width="9.47" height="9.47" fill="#60ff97"/>
<rect x="61.2" y="344.43" width="18.94" height="9.47" fill="#0024ff"/>
<rect x="80.14" y="344.43" width="9.47" height="9.47" fill="#0000d1"/>
<rect x="89.61" y="344.43" width="9.47" height="9.47" fill="#0061ff"/>
<rect x="99.08" y="344.43" width="37.87" height="9.47" fill="#0024ff"/>
<rect x="136.95" y="344.43" width="9.47" height="9.47" fill="#0000d1"/>
<rect x="146.42" y="344.43" width="9.47" height="9.47" fill="#0061ff"/>
<rect x="155.89" y="344.43" width="9.47" height="9.47" fill="#0024ff"/>
<rect x="165.36" y="344.43" width="9.47" height="9.47" fill="#00dbff"/>
<rect x="174.82" y="344.43" width="18.94" height="9.47" fill="#0000d1"/>
<rect x="193.76" y="344.43" width="9.47" height="9.47" fill="#29ffce"/>
<rect x="203.23" y="344.43" width="9.47" height="9.47" fill="#ff6800"/>
<rect x="178.36" y="267.55" width="21.71" height="11.11" fill="#ffe500"/>
<rect x="193.51" y="267.55" width="4.04" height="11.11" fill="#ff2900"/>
</g>
<clipPath id="cp_s5"><rect x="61.2" y="202.4" width="151.5" height="151.5"/></clipPath>
<g clip-path="url(#cp_s5)" shape-rendering="auto">
<line x1="61.2" y1="202.4" x2="212.7" y2="353.9" stroke="#ffc000" stroke-width="8"/>
<line x1="61.2" y1="202.4" x2="212.7" y2="353.9" stroke="#ff2a00" stroke-width="4.5"/>
</g>
<rect x="77.61" y="218.81" width="21.77" height="21.77" fill="url(#g_g)" shape-rendering="auto"/>
<rect x="89.38" y="230.58" width="22.67" height="22.67" fill="url(#g_h)" shape-rendering="auto"/>
<rect x="108.92" y="250.12" width="17.42" height="17.42" fill="url(#g_y)" shape-rendering="auto"/>
<rect x="116.25" y="257.44" width="23.99" height="23.99" fill="url(#g_h)" shape-rendering="auto"/>
<rect x="151.09" y="292.29" width="10.86" height="10.86" fill="url(#g_h)" shape-rendering="auto"/>
<rect x="164.72" y="305.93" width="18.94" height="18.94" fill="url(#g_h)" shape-rendering="auto"/>
<rect x="181.9" y="323.1" width="15.15" height="15.15" fill="url(#g_h)" shape-rendering="auto"/>
<rect x="194.52" y="335.72" width="17.68" height="17.67" fill="url(#g_g)" shape-rendering="auto"/>
<line x1="61.2" y1="202.4" x2="212.7" y2="353.9" stroke="#00008a" stroke-width="1.15" shape-rendering="auto"/>
<rect x="77.61" y="218.81" width="21.77" height="21.77" fill="none" stroke="#000" stroke-width="2.2" shape-rendering="auto"/>
<rect x="89.38" y="230.58" width="22.67" height="22.67" fill="none" stroke="#000" stroke-width="2.2" shape-rendering="auto"/>
<rect x="108.92" y="250.12" width="17.42" height="17.42" fill="none" stroke="#000" stroke-width="2.2" shape-rendering="auto"/>
<rect x="116.25" y="257.44" width="23.99" height="23.99" fill="none" stroke="#000" stroke-width="2.2" shape-rendering="auto"/>
<rect x="151.09" y="292.29" width="10.86" height="10.86" fill="none" stroke="#000" stroke-width="2.2" shape-rendering="auto"/>
<rect x="164.72" y="305.93" width="18.94" height="18.94" fill="none" stroke="#000" stroke-width="2.2" shape-rendering="auto"/>
<rect x="181.9" y="323.1" width="15.15" height="15.15" fill="none" stroke="#000" stroke-width="2.2" shape-rendering="auto"/>
<rect x="194.52" y="335.72" width="17.68" height="17.67" fill="none" stroke="#000" stroke-width="2.2" shape-rendering="auto"/>
<rect x="178.36" y="267.55" width="21.71" height="11.11" fill="none" stroke="#000" stroke-width="2.2" shape-rendering="auto"/>
<rect x="61.2" y="202.4" width="151.5" height="151.5" fill="none" stroke="#111" stroke-width="1.1" shape-rendering="auto"/>
<line x1="57.7" y1="202.5" x2="61.2" y2="202.5" stroke="#111" stroke-width="1" shape-rendering="crispEdges"/>
<line x1="60.5" y1="353.9" x2="60.5" y2="357.4" stroke="#111" stroke-width="1" shape-rendering="crispEdges"/>
<line x1="57.7" y1="252.5" x2="61.2" y2="252.5" stroke="#111" stroke-width="1" shape-rendering="crispEdges"/>
<line x1="111.5" y1="353.9" x2="111.5" y2="357.4" stroke="#111" stroke-width="1" shape-rendering="crispEdges"/>
<line x1="57.7" y1="303.5" x2="61.2" y2="303.5" stroke="#111" stroke-width="1" shape-rendering="crispEdges"/>
<line x1="161.5" y1="353.9" x2="161.5" y2="357.4" stroke="#111" stroke-width="1" shape-rendering="crispEdges"/>
<line x1="57.7" y1="353.5" x2="61.2" y2="353.5" stroke="#111" stroke-width="1" shape-rendering="crispEdges"/>
<line x1="212.5" y1="353.9" x2="212.5" y2="357.4" stroke="#111" stroke-width="1" shape-rendering="crispEdges"/>
<text x="137.15" y="199" font-size="18" text-anchor="middle" textLength="23.2" lengthAdjust="spacingAndGlyphs">s5</text>
<g>
<rect x="229.7" y="202.4" width="9.47" height="9.47" fill="#ff6800"/>
<rect x="239.17" y="202.4" width="9.47" height="9.47" fill="#29ffce"/>
<rect x="248.64" y="202.4" width="9.47" height="9.47" fill="#0061ff"/>
<rect x="258.11" y="202.4" width="18.94" height="9.47" fill="#0000d1"/>
<rect x="277.04" y="202.4" width="9.47" height="9.47" fill="#0024ff"/>
<rect x="286.51" y="202.4" width="94.69" height="9.47" fill="#000080"/>
<rect x="229.7" y="211.87" width="9.47" height="9.47" fill="#009eff"/>
<rect x="239.17" y="211.87" width="9.47" height="9.47" fill="#ffa700"/>
<rect x="248.64" y="211.87" width="9.47" height="9.47" fill="#00dbff"/>
<rect x="258.11" y="211.87" width="9.47" height="9.47" fill="#000080"/>
<rect x="267.57" y="211.87" width="28.41" height="9.47" fill="#0000d1"/>
<rect x="295.98" y="211.87" width="47.34" height="9.47" fill="#000080"/>
<rect x="343.32" y="211.87" width="9.47" height="9.47" fill="#0024ff"/>
<rect x="352.79" y="211.87" width="9.47" height="9.47" fill="#0000d1"/>
<rect x="362.26" y="211.87" width="18.94" height="9.47" fill="#000080"/>
<rect x="229.7" y="221.34" width="9.47" height="9.47" fill="#000080"/>
<rect x="239.17" y="221.34" width="9.47" height="9.47" fill="#009eff"/>
<rect x="248.64" y="221.34" width="9.47" height="9.47" fill="#ceff29"/>
<rect x="258.11" y="221.34" width="9.47" height="9.47" fill="#ff6800"/>
<rect x="267.57" y="221.34" width="18.94" height="9.47" fill="#29ffce"/>
<rect x="286.51" y="221.34" width="37.88" height="9.47" fill="#60ff97"/>
<rect x="324.39" y="221.34" width="9.47" height="9.47" fill="#29ffce"/>
<rect x="333.86" y="221.34" width="9.47" height="9.47" fill="#60ff97"/>
<rect x="343.32" y="221.34" width="37.88" height="9.47" fill="#00dbff"/>
<rect x="229.7" y="230.81" width="18.94" height="9.47" fill="#000080"/>
<rect x="248.64" y="230.81" width="9.47" height="9.47" fill="#97ff60"/>
<rect x="258.11" y="230.81" width="9.47" height="9.47" fill="#ff2900"/>
<rect x="267.57" y="230.81" width="9.47" height="9.47" fill="#60ff97"/>
<rect x="277.04" y="230.81" width="9.47" height="9.47" fill="#97ff60"/>
<rect x="286.51" y="230.81" width="9.47" height="9.47" fill="#ceff29"/>
<rect x="295.98" y="230.81" width="28.41" height="9.47" fill="#97ff60"/>
<rect x="324.39" y="230.81" width="9.47" height="9.47" fill="#29ffce"/>
<rect x="333.86" y="230.81" width="9.47" height="9.47" fill="#60ff97"/>
<rect x="343.32" y="230.81" width="37.88" height="9.47" fill="#00dbff"/>
<rect x="229.7" y="240.28" width="9.47" height="9.47" fill="#0000d1"/>
<rect x="239.17" y="240.28" width="9.47" height="9.47" fill="#000080"/>
<rect x="248.64" y="240.28" width="18.94" height="9.47" fill="#29ffce"/>
<rect x="267.57" y="240.28" width="9.47" height="9.47" fill="#ff6800"/>
<rect x="277.04" y="240.28" width="9.47" height="9.47" fill="#ff2900"/>
<rect x="286.51" y="240.28" width="28.41" height="9.47" fill="#ceff29"/>
<rect x="314.92" y="240.28" width="9.47" height="9.47" fill="#29ffce"/>
<rect x="324.39" y="240.28" width="9.47" height="9.47" fill="#009eff"/>
<rect x="333.86" y="240.28" width="9.47" height="9.47" fill="#97ff60"/>
<rect x="343.32" y="240.28" width="9.47" height="9.47" fill="#29ffce"/>
<rect x="352.79" y="240.28" width="28.41" height="9.47" fill="#009eff"/>
<rect x="229.7" y="249.74" width="9.47" height="9.47" fill="#0024ff"/>
<rect x="239.17" y="249.74" width="9.47" height="9.47" fill="#0000d1"/>
<rect x="248.64" y="249.74" width="18.94" height="9.47" fill="#29ffce"/>
<rect x="267.57" y="249.74" width="9.47" height="9.47" fill="#ffa700"/>
<rect x="277.04" y="249.74" width="9.47" height="9.47" fill="#ff6800"/>
<rect x="286.51" y="249.74" width="9.47" height="9.47" fill="#97ff60"/>
<rect x="295.98" y="249.74" width="18.94" height="9.47" fill="#ceff29"/>
<rect x="314.92" y="249.74" width="9.47" height="9.47" fill="#29ffce"/>
<rect x="324.39" y="249.74" width="9.47" height="9.47" fill="#00dbff"/>
<rect x="333.86" y="249.74" width="9.47" height="9.47" fill="#60ff97"/>
<rect x="343.32" y="249.74" width="9.47" height="9.47" fill="#29ffce"/>
<rect x="352.79" y="249.74" width="28.41" height="9.47" fill="#009eff"/>
<rect x="229.7" y="259.21" width="9.47" height="9.47" fill="#000080"/>
<rect x="239.17" y="259.21" width="9.47" height="9.47" fill="#0024ff"/>
<rect x="248.64" y="259.21" width="18.94" height="9.47" fill="#29ffce"/>
<rect x="267.57" y="259.21" width="18.94" height="9.47" fill="#ffe500"/>
<rect x="286.51" y="259.21" width="18.94" height="9.47" fill="#ceff29"/>
<rect x="305.45" y="259.21" width="9.47" height="9.47" fill="#97ff60"/>
<rect x="314.92" y="259.21" width="9.47" height="9.47" fill="#29ffce"/>
<rect x="324.39" y="259.21" width="9.47" height="9.47" fill="#009eff"/>
<rect x="333.86" y="259.21" width="9.47" height="9.47" fill="#60ff97"/>
<rect x="343.32" y="259.21" width="18.94" height="9.47" fill="#00dbff"/>
<rect x="362.26" y="259.21" width="18.94" height="9.47" fill="#009eff"/>
<rect x="229.7" y="268.68" width="18.94" height="9.47" fill="#000080"/>
<rect x="248.64" y="268.68" width="18.94" height="9.47" fill="#ceff29"/>
<rect x="267.57" y="268.68" width="18.94" height="9.47" fill="#ff6800"/>
<rect x="286.51" y="268.68" width="9.47" height="9.47" fill="#ffa700"/>
<rect x="295.98" y="268.68" width="18.94" height="9.47" fill="#cd0000"/>
<rect x="314.92" y="268.68" width="9.47" height="9.47" fill="#ff2900"/>
<rect x="324.39" y="268.68" width="9.47" height="9.47" fill="#29ffce"/>
<rect x="333.86" y="268.68" width="9.47" height="9.47" fill="#ffa700"/>
<rect x="343.32" y="268.68" width="9.47" height="9.47" fill="#97ff60"/>
<rect x="352.79" y="268.68" width="9.47" height="9.47" fill="#00dbff"/>
<rect x="362.26" y="268.68" width="9.47" height="9.47" fill="#97ff60"/>
<rect x="371.73" y="268.68" width="9.47" height="9.47" fill="#ceff29"/>
<rect x="229.7" y="278.15" width="18.94" height="9.47" fill="#000080"/>
<rect x="248.64" y="278.15" width="9.47" height="9.47" fill="#97ff60"/>
<rect x="258.11" y="278.15" width="9.47" height="9.47" fill="#ffe500"/>
<rect x="267.57" y="278.15" width="18.94" height="9.47" fill="#ff6800"/>
<rect x="286.51" y="278.15" width="9.47" height="9.47" fill="#ffa700"/>
<rect x="295.98" y="278.15" width="9.47" height="9.47" fill="#ff2900"/>
<rect x="305.45" y="278.15" width="9.47" height="9.47" fill="#cd0000"/>
<rect x="314.92" y="278.15" width="9.47" height="9.47" fill="#ff2900"/>
<rect x="324.39" y="278.15" width="9.47" height="9.47" fill="#ceff29"/>
<rect x="333.86" y="278.15" width="9.47" height="9.47" fill="#97ff60"/>
<rect x="343.32" y="278.15" width="9.47" height="9.47" fill="#ff6800"/>
<rect x="352.79" y="278.15" width="9.47" height="9.47" fill="#29ffce"/>
<rect x="362.26" y="278.15" width="9.47" height="9.47" fill="#97ff60"/>
<rect x="371.73" y="278.15" width="9.47" height="9.47" fill="#ffe500"/>
<rect x="229.7" y="287.62" width="18.94" height="9.47" fill="#000080"/>
<rect x="248.64" y="287.62" width="9.47" height="9.47" fill="#97ff60"/>
<rect x="258.11" y="287.62" width="9.47" height="9.47" fill="#ffe500"/>
<rect x="267.57" y="287.62" width="18.94" height="9.47" fill="#ffa700"/>
<rect x="286.51" y="287.62" width="9.47" height="9.47" fill="#ffe500"/>
<rect x="295.98" y="287.62" width="9.47" height="9.47" fill="#ffa700"/>
<rect x="305.45" y="287.62" width="18.94" height="9.47" fill="#ff6800"/>
<rect x="324.39" y="287.62" width="9.47" height="9.47" fill="#ffe500"/>
<rect x="333.86" y="287.62" width="9.47" height="9.47" fill="#ceff29"/>
<rect x="343.32" y="287.62" width="9.47" height="9.47" fill="#97ff60"/>
<rect x="352.79" y="287.62" width="9.47" height="9.47" fill="#29ffce"/>
<rect x="362.26" y="287.62" width="9.47" height="9.47" fill="#97ff60"/>
<rect x="371.73" y="287.62" width="9.47" height="9.47" fill="#ceff29"/>
<rect x="229.7" y="297.09" width="18.94" height="9.47" fill="#000080"/>
<rect x="248.64" y="297.09" width="9.47" height="9.47" fill="#29ffce"/>
<rect x="258.11" y="297.09" width="9.47" height="9.47" fill="#97ff60"/>
<rect x="267.57" y="297.09" width="18.94" height="9.47" fill="#ffe500"/>
<rect x="286.51" y="297.09" width="18.94" height="9.47" fill="#97ff60"/>
<rect x="305.45" y="297.09" width="9.47" height="9.47" fill="#ffe500"/>
<rect x="314.92" y="297.09" width="18.94" height="9.47" fill="#ffa700"/>
<rect x="333.86" y="297.09" width="9.47" height="9.47" fill="#97ff60"/>
<rect x="343.32" y="297.09" width="9.47" height="9.47" fill="#29ffce"/>
<rect x="352.79" y="297.09" width="9.47" height="9.47" fill="#97ff60"/>
<rect x="362.26" y="297.09" width="9.47" height="9.47" fill="#ceff29"/>
<rect x="371.73" y="297.09" width="9.47" height="9.47" fill="#60ff97"/>
<rect x="229.7" y="306.56" width="9.47" height="9.47" fill="#000080"/>
<rect x="239.17" y="306.56" width="9.47" height="9.47" fill="#0000d1"/>
<rect x="248.64" y="306.56" width="9.47" height="9.47" fill="#60ff97"/>
<rect x="258.11" y="306.56" width="9.47" height="9.47" fill="#29ffce"/>
<rect x="267.57" y="306.56" width="9.47" height="9.47" fill="#ceff29"/>
<rect x="277.04" y="306.56" width="28.41" height="9.47" fill="#97ff60"/>
<rect x="305.45" y="306.56" width="9.47" height="9.47" fill="#60ff97"/>
<rect x="314.92" y="306.56" width="9.47" height="9.47" fill="#97ff60"/>
<rect x="324.39" y="306.56" width="18.94" height="9.47" fill="#ff6800"/>
<rect x="343.32" y="306.56" width="18.94" height="9.47" fill="#ffe500"/>
<rect x="362.26" y="306.56" width="9.47" height="9.47" fill="#60ff97"/>
<rect x="371.73" y="306.56" width="9.47" height="9.47" fill="#29ffce"/>
<rect x="229.7" y="316.02" width="9.47" height="9.47" fill="#000080"/>
<rect x="239.17" y="316.02" width="9.47" height="9.47" fill="#0024ff"/>
<rect x="248.64" y="316.02" width="9.47" height="9.47" fill="#97ff60"/>
<rect x="258.11" y="316.02" width="9.47" height="9.47" fill="#ceff29"/>
<rect x="267.57" y="316.02" width="47.34" height="9.47" fill="#ff6800"/>
<rect x="314.92" y="316.02" width="9.47" height="9.47" fill="#97ff60"/>
<rect x="324.39" y="316.02" width="9.47" height="9.47" fill="#29ffce"/>
<rect x="333.86" y="316.02" width="9.47" height="9.47" fill="#ff6800"/>
<rect x="343.32" y="316.02" width="9.47" height="9.47" fill="#ff2900"/>
<rect x="352.79" y="316.02" width="9.47" height="9.47" fill="#ffa700"/>
<rect x="362.26" y="316.02" width="9.47" height="9.47" fill="#60ff97"/>
<rect x="371.73" y="316.02" width="9.47" height="9.47" fill="#ffe500"/>
<rect x="229.7" y="325.49" width="9.47" height="9.47" fill="#000080"/>
<rect x="239.17" y="325.49" width="9.47" height="9.47" fill="#0024ff"/>
<rect x="248.64" y="325.49" width="18.94" height="9.47" fill="#29ffce"/>
<rect x="267.57" y="325.49" width="18.94" height="9.47" fill="#97ff60"/>
<rect x="286.51" y="325.49" width="9.47" height="9.47" fill="#60ff97"/>
<rect x="295.98" y="325.49" width="28.41" height="9.47" fill="#29ffce"/>
<rect x="324.39" y="325.49" width="18.94" height="9.47" fill="#97ff60"/>
<rect x="343.32" y="325.49" width="9.47" height="9.47" fill="#ffa700"/>
<rect x="352.79" y="325.49" width="9.47" height="9.47" fill="#ff6800"/>
<rect x="362.26" y="325.49" width="9.47" height="9.47" fill="#ffa700"/>
<rect x="371.73" y="325.49" width="9.47" height="9.47" fill="#ceff29"/>
<rect x="229.7" y="334.96" width="18.94" height="9.47" fill="#000080"/>
<rect x="248.64" y="334.96" width="9.47" height="9.47" fill="#60ff97"/>
<rect x="258.11" y="334.96" width="37.88" height="9.47" fill="#29ffce"/>
<rect x="295.98" y="334.96" width="18.94" height="9.47" fill="#60ff97"/>
<rect x="314.92" y="334.96" width="9.47" height="9.47" fill="#29ffce"/>
<rect x="324.39" y="334.96" width="9.47" height="9.47" fill="#ceff29"/>
<rect x="333.86" y="334.96" width="9.47" height="9.47" fill="#60ff97"/>
<rect x="343.32" y="334.96" width="9.47" height="9.47" fill="#97ff60"/>
<rect x="352.79" y="334.96" width="9.47" height="9.47" fill="#ff6800"/>
<rect x="362.26" y="334.96" width="9.47" height="9.47" fill="#ff2900"/>
<rect x="371.73" y="334.96" width="9.47" height="9.47" fill="#ff6800"/>
<rect x="229.7" y="344.43" width="18.94" height="9.47" fill="#000080"/>
<rect x="248.64" y="344.43" width="9.47" height="9.47" fill="#60ff97"/>
<rect x="258.11" y="344.43" width="37.88" height="9.47" fill="#29ffce"/>
<rect x="295.98" y="344.43" width="37.88" height="9.47" fill="#ceff29"/>
<rect x="333.86" y="344.43" width="9.47" height="9.47" fill="#29ffce"/>
<rect x="343.32" y="344.43" width="9.47" height="9.47" fill="#ceff29"/>
<rect x="352.79" y="344.43" width="9.47" height="9.47" fill="#ffa700"/>
<rect x="362.26" y="344.43" width="9.47" height="9.47" fill="#ff6800"/>
<rect x="371.73" y="344.43" width="9.47" height="9.47" fill="#ff2900"/>
<rect x="266.06" y="270.32" width="25.91" height="21.46" fill="#ff6800"/>
<rect x="279.69" y="270.32" width="2.02" height="21.46" fill="#ffe500"/>
<rect x="341.46" y="270.32" width="9.24" height="21.46" fill="#ff6800"/>
<rect x="266.06" y="313.45" width="54.24" height="8.74" fill="#ff6800"/>
<rect x="277.17" y="313.45" width="3.03" height="8.74" fill="#800000"/>
<rect x="290.3" y="313.45" width="2.02" height="8.74" fill="#ffe500"/>
<rect x="299.39" y="313.45" width="2.02" height="8.74" fill="#ffe500"/>
</g>
<clipPath id="cp_s6"><rect x="229.7" y="202.4" width="151.5" height="151.5"/></clipPath>
<g clip-path="url(#cp_s6)" shape-rendering="auto">
<line x1="229.7" y1="202.4" x2="381.2" y2="353.9" stroke="#ffc000" stroke-width="8"/>
<line x1="229.7" y1="202.4" x2="381.2" y2="353.9" stroke="#ff2a00" stroke-width="4.5"/>
</g>
<rect x="251.16" y="223.86" width="18.18" height="18.18" fill="url(#g_h)" shape-rendering="auto"/>
<rect x="266.82" y="239.52" width="23.23" height="23.23" fill="url(#g_h)" shape-rendering="auto"/>
<rect x="294.59" y="267.29" width="29.54" height="29.54" fill="url(#g_dr)" shape-rendering="auto"/>
<rect x="319.08" y="291.78" width="11.62" height="11.62" fill="url(#g_h)" shape-rendering="auto"/>
<rect x="324.39" y="297.09" width="17.68" height="17.68" fill="url(#g_y)" shape-rendering="auto"/>
<rect x="336.76" y="309.46" width="18.18" height="18.18" fill="url(#g_h)" shape-rendering="auto"/>
<rect x="347.87" y="320.57" width="13.13" height="13.13" fill="url(#g_h)" shape-rendering="auto"/>
<rect x="355.95" y="328.65" width="19.44" height="19.44" fill="url(#g_h)" shape-rendering="auto"/>
<rect x="366.55" y="339.25" width="14.14" height="14.14" fill="url(#g_h)" shape-rendering="auto"/>
<line x1="229.7" y1="202.4" x2="381.2" y2="353.9" stroke="#00008a" stroke-width="1.15" shape-rendering="auto"/>
<rect x="251.16" y="223.86" width="18.18" height="18.18" fill="none" stroke="#000" stroke-width="2.2" shape-rendering="auto"/>
<rect x="266.82" y="239.52" width="23.23" height="23.23" fill="none" stroke="#000" stroke-width="2.2" shape-rendering="auto"/>
<rect x="294.59" y="267.29" width="29.54" height="29.54" fill="none" stroke="#000" stroke-width="2.2" shape-rendering="auto"/>
<rect x="319.08" y="291.78" width="11.62" height="11.62" fill="none" stroke="#000" stroke-width="2.2" shape-rendering="auto"/>
<rect x="324.39" y="297.09" width="17.68" height="17.68" fill="none" stroke="#000" stroke-width="2.2" shape-rendering="auto"/>
<rect x="336.76" y="309.46" width="18.18" height="18.18" fill="none" stroke="#000" stroke-width="2.2" shape-rendering="auto"/>
<rect x="347.87" y="320.57" width="13.13" height="13.13" fill="none" stroke="#000" stroke-width="2.2" shape-rendering="auto"/>
<rect x="355.95" y="328.65" width="19.44" height="19.44" fill="none" stroke="#000" stroke-width="2.2" shape-rendering="auto"/>
<rect x="366.55" y="339.25" width="14.14" height="14.14" fill="none" stroke="#000" stroke-width="2.2" shape-rendering="auto"/>
<rect x="266.06" y="270.32" width="25.91" height="21.46" fill="none" stroke="#000" stroke-width="2.2" shape-rendering="auto"/>
<rect x="341.46" y="270.32" width="9.24" height="21.46" fill="none" stroke="#000" stroke-width="2.2" shape-rendering="auto"/>
<rect x="266.06" y="313.45" width="54.24" height="8.74" fill="none" stroke="#000" stroke-width="2.2" shape-rendering="auto"/>
<rect x="229.7" y="202.4" width="151.5" height="151.5" fill="none" stroke="#111" stroke-width="1.1" shape-rendering="auto"/>
<line x1="226.2" y1="202.5" x2="229.7" y2="202.5" stroke="#111" stroke-width="1" shape-rendering="crispEdges"/>
<line x1="229.5" y1="353.9" x2="229.5" y2="357.4" stroke="#111" stroke-width="1" shape-rendering="crispEdges"/>
<line x1="226.2" y1="252.5" x2="229.7" y2="252.5" stroke="#111" stroke-width="1" shape-rendering="crispEdges"/>
<line x1="279.5" y1="353.9" x2="279.5" y2="357.4" stroke="#111" stroke-width="1" shape-rendering="crispEdges"/>
<line x1="226.2" y1="303.5" x2="229.7" y2="303.5" stroke="#111" stroke-width="1" shape-rendering="crispEdges"/>
<line x1="330.5" y1="353.9" x2="330.5" y2="357.4" stroke="#111" stroke-width="1" shape-rendering="crispEdges"/>
<line x1="226.2" y1="353.5" x2="229.7" y2="353.5" stroke="#111" stroke-width="1" shape-rendering="crispEdges"/>
<line x1="380.5" y1="353.9" x2="380.5" y2="357.4" stroke="#111" stroke-width="1" shape-rendering="crispEdges"/>
<text x="305.65" y="199" font-size="18" text-anchor="middle" textLength="23.2" lengthAdjust="spacingAndGlyphs">s6</text>
<g>
<rect x="398.2" y="202.4" width="9.47" height="9.47" fill="#ff6800"/>
<rect x="407.67" y="202.4" width="9.47" height="9.47" fill="#97ff60"/>
<rect x="417.14" y="202.4" width="9.47" height="9.47" fill="#00dbff"/>
<rect x="426.61" y="202.4" width="9.47" height="9.47" fill="#0000d1"/>
<rect x="436.07" y="202.4" width="9.47" height="9.47" fill="#0024ff"/>
<rect x="445.54" y="202.4" width="47.34" height="9.47" fill="#000080"/>
<rect x="492.89" y="202.4" width="9.47" height="9.47" fill="#0024ff"/>
<rect x="502.36" y="202.4" width="9.47" height="9.47" fill="#0000d1"/>
<rect x="511.82" y="202.4" width="28.41" height="9.47" fill="#000080"/>
<rect x="540.23" y="202.4" width="9.47" height="9.47" fill="#0000d1"/>
<rect x="398.2" y="211.87" width="9.47" height="9.47" fill="#60ff97"/>
<rect x="407.67" y="211.87" width="9.47" height="9.47" fill="#ff6800"/>
<rect x="417.14" y="211.87" width="9.47" height="9.47" fill="#97ff60"/>
<rect x="426.61" y="211.87" width="18.94" height="9.47" fill="#0024ff"/>
<rect x="445.54" y="211.87" width="9.47" height="9.47" fill="#0000d1"/>
<rect x="455.01" y="211.87" width="37.88" height="9.47" fill="#000080"/>
<rect x="492.89" y="211.87" width="9.47" height="9.47" fill="#0000d1"/>
<rect x="502.36" y="211.87" width="37.88" height="9.47" fill="#000080"/>
<rect x="540.23" y="211.87" width="9.47" height="9.47" fill="#0000d1"/>
<rect x="398.2" y="221.34" width="9.47" height="9.47" fill="#0000d1"/>
<rect x="407.67" y="221.34" width="9.47" height="9.47" fill="#009eff"/>
<rect x="417.14" y="221.34" width="9.47" height="9.47" fill="#ff6800"/>
<rect x="426.61" y="221.34" width="9.47" height="9.47" fill="#ceff29"/>
<rect x="436.07" y="221.34" width="9.47" height="9.47" fill="#29ffce"/>
<rect x="445.54" y="221.34" width="47.34" height="9.47" fill="#000080"/>
<rect x="492.89" y="221.34" width="9.47" height="9.47" fill="#0024ff"/>
<rect x="502.36" y="221.34" width="9.47" height="9.47" fill="#0000d1"/>
<rect x="511.82" y="221.34" width="28.41" height="9.47" fill="#000080"/>
<rect x="540.23" y="221.34" width="9.47" height="9.47" fill="#0000d1"/>
<rect x="398.2" y="230.81" width="18.94" height="9.47" fill="#0024ff"/>
<rect x="417.14" y="230.81" width="9.47" height="9.47" fill="#0061ff"/>
<rect x="426.61" y="230.81" width="9.47" height="9.47" fill="#97ff60"/>
<rect x="436.07" y="230.81" width="9.47" height="9.47" fill="#ffa700"/>
<rect x="445.54" y="230.81" width="9.47" height="9.47" fill="#0024ff"/>
<rect x="455.01" y="230.81" width="9.47" height="9.47" fill="#000080"/>
<rect x="464.48" y="230.81" width="9.47" height="9.47" fill="#0000d1"/>
<rect x="473.95" y="230.81" width="18.94" height="9.47" fill="#000080"/>
<rect x="492.89" y="230.81" width="9.47" height="9.47" fill="#0024ff"/>
<rect x="502.36" y="230.81" width="47.34" height="9.47" fill="#000080"/>
<rect x="398.2" y="240.28" width="9.47" height="9.47" fill="#0024ff"/>
<rect x="407.67" y="240.28" width="9.47" height="9.47" fill="#0000d1"/>
<rect x="417.14" y="240.28" width="9.47" height="9.47" fill="#000080"/>
<rect x="426.61" y="240.28" width="9.47" height="9.47" fill="#009eff"/>
<rect x="436.07" y="240.28" width="9.47" height="9.47" fill="#ff6800"/>
<rect x="445.54" y="240.28" width="9.47" height="9.47" fill="#60ff97"/>
<rect x="455.01" y="240.28" width="9.47" height="9.47" fill="#00dbff"/>
<rect x="464.48" y="240.28" width="9.47" height="9.47" fill="#0024ff"/>
<rect x="473.95" y="240.28" width="75.75" height="9.47" fill="#000080"/>
<rect x="398.2" y="249.74" width="37.88" height="9.47" fill="#000080"/>
<rect x="436.07" y="249.74" width="9.47" height="9.47" fill="#00dbff"/>
<rect x="445.54" y="249.74" width="9.47" height="9.47" fill="#ff6800"/>
<rect x="455.01" y="249.74" width="9.47" height="9.47" fill="#97ff60"/>
<rect x="464.48" y="249.74" width="9.47" height="9.47" fill="#009eff"/>
<rect x="473.95" y="249.74" width="56.81" height="9.47" fill="#000080"/>
<rect x="530.76" y="249.74" width="18.94" height="9.47" fill="#0000d1"/>
<rect x="398.2" y="259.21" width="37.88" height="9.47" fill="#000080"/>
<rect x="436.07" y="259.21" width="9.47" height="9.47" fill="#00dbff"/>
<rect x="445.54" y="259.21" width="9.47" height="9.47" fill="#29ffce"/>
<rect x="455.01" y="259.21" width="9.47" height="9.47" fill="#ff6800"/>
<rect x="464.48" y="259.21" width="9.47" height="9.47" fill="#97ff60"/>
<rect x="473.95" y="259.21" width="47.34" height="9.47" fill="#000080"/>
<rect x="521.29" y="259.21" width="28.41" height="9.47" fill="#0024ff"/>
<rect x="398.2" y="268.68" width="28.41" height="9.47" fill="#000080"/>
<rect x="426.61" y="268.68" width="9.47" height="9.47" fill="#0000d1"/>
<rect x="436.07" y="268.68" width="18.94" height="9.47" fill="#0024ff"/>
<rect x="455.01" y="268.68" width="9.47" height="9.47" fill="#00dbff"/>
<rect x="464.48" y="268.68" width="9.47" height="9.47" fill="#ffa700"/>
<rect x="473.95" y="268.68" width="9.47" height="9.47" fill="#29ffce"/>
<rect x="483.42" y="268.68" width="9.47" height="9.47" fill="#00dbff"/>
<rect x="492.89" y="268.68" width="9.47" height="9.47" fill="#0024ff"/>
<rect x="502.36" y="268.68" width="28.41" height="9.47" fill="#00dbff"/>
<rect x="530.76" y="268.68" width="9.47" height="9.47" fill="#97ff60"/>
<rect x="540.23" y="268.68" width="9.47" height="9.47" fill="#29ffce"/>
<rect x="398.2" y="278.15" width="37.88" height="9.47" fill="#000080"/>
<rect x="436.07" y="278.15" width="9.47" height="9.47" fill="#0000d1"/>
<rect x="445.54" y="278.15" width="18.94" height="9.47" fill="#000080"/>
<rect x="464.48" y="278.15" width="9.47" height="9.47" fill="#29ffce"/>
<rect x="473.95" y="278.15" width="9.47" height="9.47" fill="#ff2900"/>
<rect x="483.42" y="278.15" width="9.47" height="9.47" fill="#ffa700"/>
<rect x="492.89" y="278.15" width="9.47" height="9.47" fill="#97ff60"/>
<rect x="502.36" y="278.15" width="9.47" height="9.47" fill="#29ffce"/>
<rect x="511.82" y="278.15" width="18.94" height="9.47" fill="#60ff97"/>
<rect x="530.76" y="278.15" width="9.47" height="9.47" fill="#ceff29"/>
<rect x="540.23" y="278.15" width="9.47" height="9.47" fill="#00dbff"/>
<rect x="398.2" y="287.62" width="66.28" height="9.47" fill="#000080"/>
<rect x="464.48" y="287.62" width="9.47" height="9.47" fill="#009eff"/>
<rect x="473.95" y="287.62" width="9.47" height="9.47" fill="#ceff29"/>
<rect x="483.42" y="287.62" width="9.47" height="9.47" fill="#ff2900"/>
<rect x="492.89" y="287.62" width="18.94" height="9.47" fill="#97ff60"/>
<rect x="511.82" y="287.62" width="18.94" height="9.47" fill="#60ff97"/>
<rect x="530.76" y="287.62" width="9.47" height="9.47" fill="#97ff60"/>
<rect x="540.23" y="287.62" width="9.47" height="9.47" fill="#00dbff"/>
<rect x="398.2" y="297.09" width="9.47" height="9.47" fill="#0024ff"/>
<rect x="407.67" y="297.09" width="9.47" height="9.47" fill="#0000d1"/>
<rect x="417.14" y="297.09" width="28.41" height="9.47" fill="#0024ff"/>
<rect x="445.54" y="297.09" width="18.94" height="9.47" fill="#000080"/>
<rect x="464.48" y="297.09" width="9.47" height="9.47" fill="#0024ff"/>
<rect x="473.95" y="297.09" width="9.47" height="9.47" fill="#009eff"/>
<rect x="483.42" y="297.09" width="9.47" height="9.47" fill="#29ffce"/>
<rect x="492.89" y="297.09" width="18.94" height="9.47" fill="#ffa700"/>
<rect x="511.82" y="297.09" width="28.41" height="9.47" fill="#00dbff"/>
<rect x="540.23" y="297.09" width="9.47" height="9.47" fill="#0024ff"/>
<rect x="398.2" y="306.56" width="9.47" height="9.47" fill="#0000d1"/>
<rect x="407.67" y="306.56" width="9.47" height="9.47" fill="#000080"/>
<rect x="417.14" y="306.56" width="9.47" height="9.47" fill="#0000d1"/>
<rect x="426.61" y="306.56" width="37.88" height="9.47" fill="#000080"/>
<rect x="464.48" y="306.56" width="9.47" height="9.47" fill="#00dbff"/>
<rect x="473.95" y="306.56" width="9.47" height="9.47" fill="#60ff97"/>
<rect x="483.42" y="306.56" width="9.47" height="9.47" fill="#97ff60"/>
<rect x="492.89" y="306.56" width="18.94" height="9.47" fill="#ff6800"/>
<rect x="511.82" y="306.56" width="28.41" height="9.47" fill="#60ff97"/>
<rect x="540.23" y="306.56" width="9.47" height="9.47" fill="#00dbff"/>
<rect x="398.2" y="316.02" width="66.28" height="9.47" fill="#000080"/>
<rect x="464.48" y="316.02" width="9.47" height="9.47" fill="#00dbff"/>
<rect x="473.95" y="316.02" width="9.47" height="9.47" fill="#60ff97"/>
<rect x="483.42" y="316.02" width="9.47" height="9.47" fill="#ceff29"/>
<rect x="492.89" y="316.02" width="9.47" height="9.47" fill="#29ffce"/>
<rect x="502.36" y="316.02" width="9.47" height="9.47" fill="#ff6800"/>
<rect x="511.82" y="316.02" width="9.47" height="9.47" fill="#ceff29"/>
<rect x="521.29" y="316.02" width="18.94" height="9.47" fill="#60ff97"/>
<rect x="540.23" y="316.02" width="9.47" height="9.47" fill="#29ffce"/>
<rect x="398.2" y="325.49" width="56.81" height="9.47" fill="#000080"/>
<rect x="455.01" y="325.49" width="9.47" height="9.47" fill="#0000d1"/>
<rect x="464.48" y="325.49" width="9.47" height="9.47" fill="#009eff"/>
<rect x="473.95" y="325.49" width="18.94" height="9.47" fill="#60ff97"/>
<rect x="492.89" y="325.49" width="9.47" height="9.47" fill="#29ffce"/>
<rect x="502.36" y="325.49" width="9.47" height="9.47" fill="#ceff29"/>
<rect x="511.82" y="325.49" width="9.47" height="9.47" fill="#ff6800"/>
<rect x="521.29" y="325.49" width="9.47" height="9.47" fill="#97ff60"/>
<rect x="530.76" y="325.49" width="9.47" height="9.47" fill="#60ff97"/>
<rect x="540.23" y="325.49" width="9.47" height="9.47" fill="#29ffce"/>
<rect x="398.2" y="334.96" width="47.34" height="9.47" fill="#000080"/>
<rect x="445.54" y="334.96" width="9.47" height="9.47" fill="#0000d1"/>
<rect x="455.01" y="334.96" width="9.47" height="9.47" fill="#0024ff"/>
<rect x="464.48" y="334.96" width="9.47" height="9.47" fill="#29ffce"/>
<rect x="473.95" y="334.96" width="18.94" height="9.47" fill="#97ff60"/>
<rect x="492.89" y="334.96" width="9.47" height="9.47" fill="#00dbff"/>
<rect x="502.36" y="334.96" width="9.47" height="9.47" fill="#60ff97"/>
<rect x="511.82" y="334.96" width="9.47" height="9.47" fill="#97ff60"/>
<rect x="521.29" y="334.96" width="18.94" height="9.47" fill="#ff6800"/>
<rect x="540.23" y="334.96" width="9.47" height="9.47" fill="#29ffce"/>
<rect x="398.2" y="344.43" width="18.94" height="9.47" fill="#0000d1"/>
<rect x="417.14" y="344.43" width="28.41" height="9.47" fill="#000080"/>
<rect x="445.54" y="344.43" width="9.47" height="9.47" fill="#0000d1"/>
<rect x="455.01" y="344.43" width="9.47" height="9.47" fill="#0024ff"/>
<rect x="464.48" y="344.43" width="18.94" height="9.47" fill="#29ffce"/>
<rect x="483.42" y="344.43" width="9.47" height="9.47" fill="#00dbff"/>
<rect x="492.89" y="344.43" width="9.47" height="9.47" fill="#0061ff"/>
<rect x="502.36" y="344.43" width="9.47" height="9.47" fill="#29ffce"/>
<rect x="511.82" y="344.43" width="18.94" height="9.47" fill="#60ff97"/>
<rect x="530.76" y="344.43" width="9.47" height="9.47" fill="#ffa700"/>
<rect x="540.23" y="344.43" width="9.47" height="9.47" fill="#ff2900"/>
</g>
<clipPath id="cp_s7"><rect x="398.2" y="202.4" width="151.5" height="151.5"/></clipPath>
<g clip-path="url(#cp_s7)" shape-rendering="auto">
<line x1="398.2" y1="202.4" x2="549.7" y2="353.9" stroke="#ffc000" stroke-width="8"/>
<line x1="398.2" y1="202.4" x2="549.7" y2="353.9" stroke="#ff2a00" stroke-width="4.5"/>
</g>
<rect x="420.93" y="225.12" width="19.69" height="19.69" fill="url(#g_g)" shape-rendering="auto"/>
<rect x="435.57" y="239.77" width="28.28" height="28.28" fill="url(#g_g)" shape-rendering="auto"/>
<rect x="450.72" y="254.92" width="16.67" height="16.67" fill="url(#g_y)" shape-rendering="auto"/>
<rect x="468.9" y="273.1" width="17.93" height="17.93" fill="url(#g_h)" shape-rendering="auto"/>
<rect x="476.27" y="280.47" width="22.42" height="22.42" fill="url(#g_h)" shape-rendering="auto"/>
<rect x="495.66" y="299.87" width="19.19" height="19.19" fill="url(#g_h)" shape-rendering="auto"/>
<rect x="508.79" y="313" width="12.12" height="12.12" fill="url(#g_h)" shape-rendering="auto"/>
<rect x="519.15" y="323.35" width="14.39" height="14.39" fill="url(#g_h)" shape-rendering="auto"/>
<rect x="531.32" y="335.52" width="14.85" height="14.85" fill="url(#g_h)" shape-rendering="auto"/>
<rect x="541.12" y="345.31" width="8.08" height="8.08" fill="url(#g_h)" shape-rendering="auto"/>
<line x1="398.2" y1="202.4" x2="549.7" y2="353.9" stroke="#00008a" stroke-width="1.15" shape-rendering="auto"/>
<rect x="420.93" y="225.12" width="19.69" height="19.69" fill="none" stroke="#000" stroke-width="2.2" shape-rendering="auto"/>
<rect x="435.57" y="239.77" width="28.28" height="28.28" fill="none" stroke="#000" stroke-width="2.2" shape-rendering="auto"/>
<rect x="450.72" y="254.92" width="16.67" height="16.67" fill="none" stroke="#000" stroke-width="2.2" shape-rendering="auto"/>
<rect x="468.9" y="273.1" width="17.93" height="17.93" fill="none" stroke="#000" stroke-width="2.2" shape-rendering="auto"/>
<rect x="476.27" y="280.47" width="22.42" height="22.42" fill="none" stroke="#000" stroke-width="2.2" shape-rendering="auto"/>
<rect x="495.66" y="299.87" width="19.19" height="19.19" fill="none" stroke="#000" stroke-width="2.2" shape-rendering="auto"/>
<rect x="508.79" y="313" width="12.12" height="12.12" fill="none" stroke="#000" stroke-width="2.2" shape-rendering="auto"/>
<rect x="519.15" y="323.35" width="14.39" height="14.39" fill="none" stroke="#000" stroke-width="2.2" shape-rendering="auto"/>
<rect x="531.32" y="335.52" width="14.85" height="14.85" fill="none" stroke="#000" stroke-width="2.2" shape-rendering="auto"/>
<rect x="541.12" y="345.31" width="8.08" height="8.08" fill="none" stroke="#000" stroke-width="2.2" shape-rendering="auto"/>
<rect x="398.2" y="202.4" width="151.5" height="151.5" fill="none" stroke="#111" stroke-width="1.1" shape-rendering="auto"/>
<line x1="394.7" y1="202.5" x2="398.2" y2="202.5" stroke="#111" stroke-width="1" shape-rendering="crispEdges"/>
<line x1="397.5" y1="353.9" x2="397.5" y2="357.4" stroke="#111" stroke-width="1" shape-rendering="crispEdges"/>
<line x1="394.7" y1="252.5" x2="398.2" y2="252.5" stroke="#111" stroke-width="1" shape-rendering="crispEdges"/>
<line x1="448.5" y1="353.9" x2="448.5" y2="357.4" stroke="#111" stroke-width="1" shape-rendering="crispEdges"/>
<line x1="394.7" y1="303.5" x2="398.2" y2="303.5" stroke="#111" stroke-width="1" shape-rendering="crispEdges"/>
<line x1="498.5" y1="353.9" x2="498.5" y2="357.4" stroke="#111" stroke-width="1" shape-rendering="crispEdges"/>
<line x1="394.7" y1="353.5" x2="398.2" y2="353.5" stroke="#111" stroke-width="1" shape-rendering="crispEdges"/>
<line x1="549.5" y1="353.9" x2="549.5" y2="357.4" stroke="#111" stroke-width="1" shape-rendering="crispEdges"/>
<text x="474.15" y="199" font-size="18" text-anchor="middle" textLength="23.2" lengthAdjust="spacingAndGlyphs">s7</text>
<g>
<rect x="566.7" y="202.4" width="9.47" height="9.47" fill="#ff6800"/>
<rect x="576.17" y="202.4" width="9.47" height="9.47" fill="#60ff97"/>
<rect x="585.64" y="202.4" width="9.47" height="9.47" fill="#009eff"/>
<rect x="595.11" y="202.4" width="9.47" height="9.47" fill="#0024ff"/>
<rect x="604.58" y="202.4" width="9.47" height="9.47" fill="#0061ff"/>
<rect x="614.04" y="202.4" width="9.47" height="9.47" fill="#0024ff"/>
<rect x="623.51" y="202.4" width="9.47" height="9.47" fill="#0061ff"/>
<rect x="632.98" y="202.4" width="56.81" height="9.47" fill="#0024ff"/>
<rect x="689.79" y="202.4" width="9.47" height="9.47" fill="#0000d1"/>
<rect x="699.26" y="202.4" width="18.94" height="9.47" fill="#0024ff"/>
<rect x="566.7" y="211.87" width="9.47" height="9.47" fill="#00dbff"/>
<rect x="576.17" y="211.87" width="9.47" height="9.47" fill="#ff6800"/>
<rect x="585.64" y="211.87" width="9.47" height="9.47" fill="#29ffce"/>
<rect x="595.11" y="211.87" width="28.41" height="9.47" fill="#0000d1"/>
<rect x="623.51" y="211.87" width="9.47" height="9.47" fill="#009eff"/>
<rect x="632.98" y="211.87" width="18.94" height="9.47" fill="#0024ff"/>
<rect x="651.92" y="211.87" width="9.47" height="9.47" fill="#000080"/>
<rect x="661.39" y="211.87" width="28.41" height="9.47" fill="#0024ff"/>
<rect x="689.79" y="211.87" width="9.47" height="9.47" fill="#000080"/>
<rect x="699.26" y="211.87" width="9.47" height="9.47" fill="#0000d1"/>
<rect x="708.73" y="211.87" width="9.47" height="9.47" fill="#0061ff"/>
<rect x="566.7" y="221.34" width="9.47" height="9.47" fill="#0024ff"/>
<rect x="576.17" y="221.34" width="9.47" height="9.47" fill="#60ff97"/>
<rect x="585.64" y="221.34" width="18.94" height="9.47" fill="#97ff60"/>
<rect x="604.58" y="221.34" width="9.47" height="9.47" fill="#009eff"/>
<rect x="614.04" y="221.34" width="37.88" height="9.47" fill="#0024ff"/>
<rect x="651.92" y="221.34" width="9.47" height="9.47" fill="#000080"/>
<rect x="661.39" y="221.34" width="9.47" height="9.47" fill="#009eff"/>
<rect x="670.86" y="221.34" width="9.47" height="9.47" fill="#00dbff"/>
<rect x="680.33" y="221.34" width="9.47" height="9.47" fill="#0024ff"/>
<rect x="689.79" y="221.34" width="18.94" height="9.47" fill="#000080"/>
<rect x="708.73" y="221.34" width="9.47" height="9.47" fill="#009eff"/>
<rect x="566.7" y="230.81" width="9.47" height="9.47" fill="#000080"/>
<rect x="576.17" y="230.81" width="9.47" height="9.47" fill="#0024ff"/>
<rect x="585.64" y="230.81" width="9.47" height="9.47" fill="#ceff29"/>
<rect x="595.11" y="230.81" width="9.47" height="9.47" fill="#cd0000"/>
<rect x="604.58" y="230.81" width="9.47" height="9.47" fill="#ff6800"/>
<rect x="614.04" y="230.81" width="9.47" height="9.47" fill="#009eff"/>
<rect x="623.51" y="230.81" width="28.41" height="9.47" fill="#0024ff"/>
<rect x="651.92" y="230.81" width="9.47" height="9.47" fill="#0000d1"/>
<rect x="661.39" y="230.81" width="18.94" height="9.47" fill="#00dbff"/>
<rect x="680.33" y="230.81" width="18.94" height="9.47" fill="#0024ff"/>
<rect x="699.26" y="230.81" width="9.47" height="9.47" fill="#0000d1"/>
<rect x="708.73" y="230.81" width="9.47" height="9.47" fill="#009eff"/>
<rect x="566.7" y="240.28" width="9.47" height="9.47" fill="#0000d1"/>
<rect x="576.17" y="240.28" width="9.47" height="9.47" fill="#0024ff"/>
<rect x="585.64" y="240.28" width="9.47" height="9.47" fill="#60ff97"/>
<rect x="595.11" y="240.28" width="9.47" height="9.47" fill="#ffe500"/>
<rect x="604.58" y="240.28" width="9.47" height="9.47" fill="#ff6800"/>
<rect x="614.04" y="240.28" width="9.47" height="9.47" fill="#29ffce"/>
<rect x="623.51" y="240.28" width="9.47" height="9.47" fill="#009eff"/>
<rect x="632.98" y="240.28" width="9.47" height="9.47" fill="#0061ff"/>
<rect x="642.45" y="240.28" width="9.47" height="9.47" fill="#009eff"/>
<rect x="651.92" y="240.28" width="9.47" height="9.47" fill="#0024ff"/>
<rect x="661.39" y="240.28" width="18.94" height="9.47" fill="#60ff97"/>
<rect x="680.33" y="240.28" width="9.47" height="9.47" fill="#0061ff"/>
<rect x="689.79" y="240.28" width="18.94" height="9.47" fill="#0000d1"/>
<rect x="708.73" y="240.28" width="9.47" height="9.47" fill="#0061ff"/>
<rect x="566.7" y="249.74" width="9.47" height="9.47" fill="#0024ff"/>
<rect x="576.17" y="249.74" width="9.47" height="9.47" fill="#009eff"/>
<rect x="585.64" y="249.74" width="9.47" height="9.47" fill="#0024ff"/>
<rect x="595.11" y="249.74" width="9.47" height="9.47" fill="#009eff"/>
<rect x="604.58" y="249.74" width="9.47" height="9.47" fill="#0024ff"/>
<rect x="614.04" y="249.74" width="9.47" height="9.47" fill="#ceff29"/>
<rect x="623.51" y="249.74" width="9.47" height="9.47" fill="#29ffce"/>
<rect x="632.98" y="249.74" width="9.47" height="9.47" fill="#00dbff"/>
<rect x="642.45" y="249.74" width="9.47" height="9.47" fill="#0061ff"/>
<rect x="651.92" y="249.74" width="9.47" height="9.47" fill="#0000d1"/>
<rect x="661.39" y="249.74" width="18.94" height="9.47" fill="#00dbff"/>
<rect x="680.33" y="249.74" width="9.47" height="9.47" fill="#0024ff"/>
<rect x="689.79" y="249.74" width="9.47" height="9.47" fill="#000080"/>
<rect x="699.26" y="249.74" width="9.47" height="9.47" fill="#0000d1"/>
<rect x="708.73" y="249.74" width="9.47" height="9.47" fill="#0061ff"/>
<rect x="566.7" y="259.21" width="9.47" height="9.47" fill="#000080"/>
<rect x="576.17" y="259.21" width="28.41" height="9.47" fill="#0024ff"/>
<rect x="604.58" y="259.21" width="9.47" height="9.47" fill="#0061ff"/>
<rect x="614.04" y="259.21" width="9.47" height="9.47" fill="#29ffce"/>
<rect x="623.51" y="259.21" width="9.47" height="9.47" fill="#ff2900"/>
<rect x="632.98" y="259.21" width="9.47" height="9.47" fill="#ffa700"/>
<rect x="642.45" y="259.21" width="9.47" height="9.47" fill="#00dbff"/>
<rect x="651.92" y="259.21" width="9.47" height="9.47" fill="#0024ff"/>
<rect x="661.39" y="259.21" width="9.47" height="9.47" fill="#00dbff"/>
<rect x="670.86" y="259.21" width="9.47" height="9.47" fill="#29ffce"/>
<rect x="680.33" y="259.21" width="9.47" height="9.47" fill="#00dbff"/>
<rect x="689.79" y="259.21" width="9.47" height="9.47" fill="#0024ff"/>
<rect x="699.26" y="259.21" width="9.47" height="9.47" fill="#0000d1"/>
<rect x="708.73" y="259.21" width="9.47" height="9.47" fill="#0024ff"/>
<rect x="566.7" y="268.68" width="9.47" height="9.47" fill="#000080"/>
<rect x="576.17" y="268.68" width="37.88" height="9.47" fill="#0024ff"/>
<rect x="614.04" y="268.68" width="9.47" height="9.47" fill="#00dbff"/>
<rect x="623.51" y="268.68" width="9.47" height="9.47" fill="#ffe500"/>
<rect x="632.98" y="268.68" width="9.47" height="9.47" fill="#ff2900"/>
<rect x="642.45" y="268.68" width="9.47" height="9.47" fill="#ffe500"/>
<rect x="651.92" y="268.68" width="9.47" height="9.47" fill="#0061ff"/>
<rect x="661.39" y="268.68" width="18.94" height="9.47" fill="#29ffce"/>
<rect x="680.33" y="268.68" width="9.47" height="9.47" fill="#009eff"/>
<rect x="689.79" y="268.68" width="9.47" height="9.47" fill="#0024ff"/>
<rect x="699.26" y="268.68" width="9.47" height="9.47" fill="#0000d1"/>
<rect x="708.73" y="268.68" width="9.47" height="9.47" fill="#0024ff"/>
<rect x="566.7" y="278.15" width="9.47" height="9.47" fill="#0024ff"/>
<rect x="576.17" y="278.15" width="9.47" height="9.47" fill="#0000d1"/>
<rect x="585.64" y="278.15" width="18.94" height="9.47" fill="#0024ff"/>
<rect x="604.58" y="278.15" width="9.47" height="9.47" fill="#009eff"/>
<rect x="614.04" y="278.15" width="9.47" height="9.47" fill="#0024ff"/>
<rect x="623.51" y="278.15" width="9.47" height="9.47" fill="#009eff"/>
<rect x="632.98" y="278.15" width="9.47" height="9.47" fill="#60ff97"/>
<rect x="642.45" y="278.15" width="9.47" height="9.47" fill="#ff6800"/>
<rect x="651.92" y="278.15" width="18.94" height="9.47" fill="#ffa700"/>
<rect x="670.86" y="278.15" width="28.41" height="9.47" fill="#29ffce"/>
<rect x="699.26" y="278.15" width="9.47" height="9.47" fill="#0000d1"/>
<rect x="708.73" y="278.15" width="9.47" height="9.47" fill="#009eff"/>
<rect x="566.7" y="287.62" width="9.47" height="9.47" fill="#0024ff"/>
<rect x="576.17" y="287.62" width="28.41" height="9.47" fill="#000080"/>
<rect x="604.58" y="287.62" width="9.47" height="9.47" fill="#0061ff"/>
<rect x="614.04" y="287.62" width="9.47" height="9.47" fill="#0000d1"/>
<rect x="623.51" y="287.62" width="9.47" height="9.47" fill="#0061ff"/>
<rect x="632.98" y="287.62" width="9.47" height="9.47" fill="#009eff"/>
<rect x="642.45" y="287.62" width="9.47" height="9.47" fill="#ffa700"/>
<rect x="651.92" y="287.62" width="9.47" height="9.47" fill="#ff2900"/>
<rect x="661.39" y="287.62" width="9.47" height="9.47" fill="#97ff60"/>
<rect x="670.86" y="287.62" width="9.47" height="9.47" fill="#009eff"/>
<rect x="680.33" y="287.62" width="18.94" height="9.47" fill="#00dbff"/>
<rect x="699.26" y="287.62" width="9.47" height="9.47" fill="#0024ff"/>
<rect x="708.73" y="287.62" width="9.47" height="9.47" fill="#0061ff"/>
<rect x="566.7" y="297.09" width="18.94" height="9.47" fill="#0024ff"/>
<rect x="585.64" y="297.09" width="9.47" height="9.47" fill="#009eff"/>
<rect x="595.11" y="297.09" width="9.47" height="9.47" fill="#00dbff"/>
<rect x="604.58" y="297.09" width="9.47" height="9.47" fill="#29ffce"/>
<rect x="614.04" y="297.09" width="9.47" height="9.47" fill="#00dbff"/>
<rect x="623.51" y="297.09" width="9.47" height="9.47" fill="#009eff"/>
<rect x="632.98" y="297.09" width="18.94" height="9.47" fill="#00dbff"/>
<rect x="651.92" y="297.09" width="18.94" height="9.47" fill="#ffa700"/>
<rect x="670.86" y="297.09" width="9.47" height="9.47" fill="#ffe500"/>
<rect x="680.33" y="297.09" width="9.47" height="9.47" fill="#29ffce"/>
<rect x="689.79" y="297.09" width="9.47" height="9.47" fill="#00dbff"/>
<rect x="699.26" y="297.09" width="9.47" height="9.47" fill="#0000d1"/>
<rect x="708.73" y="297.09" width="9.47" height="9.47" fill="#0061ff"/>
<rect x="566.7" y="306.56" width="18.94" height="9.47" fill="#0024ff"/>
<rect x="585.64" y="306.56" width="18.94" height="9.47" fill="#00dbff"/>
<rect x="604.58" y="306.56" width="9.47" height="9.47" fill="#97ff60"/>
<rect x="614.04" y="306.56" width="9.47" height="9.47" fill="#00dbff"/>
<rect x="623.51" y="306.56" width="9.47" height="9.47" fill="#009eff"/>
<rect x="632.98" y="306.56" width="18.94" height="9.47" fill="#60ff97"/>
<rect x="651.92" y="306.56" width="9.47" height="9.47" fill="#ff6800"/>
<rect x="661.39" y="306.56" width="9.47" height="9.47" fill="#cd0000"/>
<rect x="670.86" y="306.56" width="9.47" height="9.47" fill="#ff2900"/>
<rect x="680.33" y="306.56" width="9.47" height="9.47" fill="#00dbff"/>
<rect x="689.79" y="306.56" width="9.47" height="9.47" fill="#0000d1"/>
<rect x="699.26" y="306.56" width="9.47" height="9.47" fill="#0024ff"/>
<rect x="708.73" y="306.56" width="9.47" height="9.47" fill="#009eff"/>
<rect x="566.7" y="316.02" width="18.94" height="9.47" fill="#0024ff"/>
<rect x="585.64" y="316.02" width="9.47" height="9.47" fill="#0061ff"/>
<rect x="595.11" y="316.02" width="9.47" height="9.47" fill="#0024ff"/>
<rect x="604.58" y="316.02" width="9.47" height="9.47" fill="#009eff"/>
<rect x="614.04" y="316.02" width="9.47" height="9.47" fill="#0024ff"/>
<rect x="623.51" y="316.02" width="18.94" height="9.47" fill="#009eff"/>
<rect x="642.45" y="316.02" width="9.47" height="9.47" fill="#29ffce"/>
<rect x="651.92" y="316.02" width="9.47" height="9.47" fill="#60ff97"/>
<rect x="661.39" y="316.02" width="9.47" height="9.47" fill="#97ff60"/>
<rect x="670.86" y="316.02" width="9.47" height="9.47" fill="#ffa700"/>
<rect x="680.33" y="316.02" width="9.47" height="9.47" fill="#00dbff"/>
<rect x="689.79" y="316.02" width="9.47" height="9.47" fill="#009eff"/>
<rect x="699.26" y="316.02" width="9.47" height="9.47" fill="#0024ff"/>
<rect x="708.73" y="316.02" width="9.47" height="9.47" fill="#009eff"/>
<rect x="566.7" y="325.49" width="28.41" height="9.47" fill="#000080"/>
<rect x="595.11" y="325.49" width="9.47" height="9.47" fill="#0024ff"/>
<rect x="604.58" y="325.49" width="9.47" height="9.47" fill="#0000d1"/>
<rect x="614.04" y="325.49" width="9.47" height="9.47" fill="#000080"/>
<rect x="623.51" y="325.49" width="9.47" height="9.47" fill="#0061ff"/>
<rect x="632.98" y="325.49" width="28.41" height="9.47" fill="#009eff"/>
<rect x="661.39" y="325.49" width="9.47" height="9.47" fill="#00dbff"/>
<rect x="670.86" y="325.49" width="9.47" height="9.47" fill="#009eff"/>
<rect x="680.33" y="325.49" width="9.47" height="9.47" fill="#ff6800"/>
<rect x="689.79" y="325.49" width="9.47" height="9.47" fill="#ffa700"/>
<rect x="699.26" y="325.49" width="9.47" height="9.47" fill="#009eff"/>
<rect x="708.73" y="325.49" width="9.47" height="9.47" fill="#0061ff"/>
<rect x="566.7" y="334.96" width="9.47" height="9.47" fill="#0024ff"/>
<rect x="576.17" y="334.96" width="18.94" height="9.47" fill="#000080"/>
<rect x="595.11" y="334.96" width="9.47" height="9.47" fill="#0024ff"/>
<rect x="604.58" y="334.96" width="28.41" height="9.47" fill="#0000d1"/>
<rect x="632.98" y="334.96" width="9.47" height="9.47" fill="#0061ff"/>
<rect x="642.45" y="334.96" width="9.47" height="9.47" fill="#0000d1"/>
<rect x="651.92" y="334.96" width="9.47" height="9.47" fill="#0061ff"/>
<rect x="661.39" y="334.96" width="18.94" height="9.47" fill="#0024ff"/>
<rect x="680.33" y="334.96" width="18.94" height="9.47" fill="#ffa700"/>
<rect x="699.26" y="334.96" width="9.47" height="9.47" fill="#29ffce"/>
<rect x="708.73" y="334.96" width="9.47" height="9.47" fill="#009eff"/>
<rect x="566.7" y="344.43" width="9.47" height="9.47" fill="#0000d1"/>
<rect x="576.17" y="344.43" width="28.41" height="9.47" fill="#0061ff"/>
<rect x="604.58" y="344.43" width="9.47" height="9.47" fill="#0024ff"/>
<rect x="614.04" y="344.43" width="9.47" height="9.47" fill="#0061ff"/>
<rect x="623.51" y="344.43" width="9.47" height="9.47" fill="#0000d1"/>
<rect x="632.98" y="344.43" width="9.47" height="9.47" fill="#0061ff"/>
<rect x="642.45" y="344.43" width="9.47" height="9.47" fill="#0000d1"/>
<rect x="651.92" y="344.43" width="9.47" height="9.47" fill="#009eff"/>
<rect x="661.39" y="344.43" width="9.47" height="9.47" fill="#0024ff"/>
<rect x="670.86" y="344.43" width="9.47" height="9.47" fill="#009eff"/>
<rect x="680.33" y="344.43" width="18.94" height="9.47" fill="#29ffce"/>
<rect x="699.26" y="344.43" width="18.94" height="9.47" fill="#ff6800"/>
</g>
<clipPath id="cp_s8"><rect x="566.7" y="202.4" width="151.5" height="151.5"/></clipPath>
<g clip-path="url(#cp_s8)" shape-rendering="auto">
<line x1="566.7" y1="202.4" x2="718.2" y2="353.9" stroke="#ffc000" stroke-width="8"/>
<line x1="566.7" y1="202.4" x2="718.2" y2="353.9" stroke="#ff2a00" stroke-width="4.5"/>
</g>
<rect x="587.91" y="223.61" width="23.23" height="23.23" fill="url(#g_h)" shape-rendering="auto"/>
<rect x="602.05" y="237.75" width="16.66" height="16.67" fill="url(#g_y)" shape-rendering="auto"/>
<rect x="614.32" y="250.02" width="15.5" height="15.5" fill="url(#g_y)" shape-rendering="auto"/>
<rect x="621.24" y="256.94" width="18.18" height="18.18" fill="url(#g_h)" shape-rendering="auto"/>
<rect x="633.51" y="269.21" width="17.32" height="17.32" fill="url(#g_y)" shape-rendering="auto"/>
<rect x="644.22" y="279.92" width="20.45" height="20.45" fill="url(#g_h)" shape-rendering="auto"/>
<rect x="660.63" y="296.33" width="23.74" height="23.74" fill="url(#g_h)" shape-rendering="auto"/>
<rect x="686.38" y="322.09" width="19.44" height="19.44" fill="url(#g_h)" shape-rendering="auto"/>
<rect x="701.64" y="337.34" width="16.06" height="16.06" fill="url(#g_y)" shape-rendering="auto"/>
<line x1="566.7" y1="202.4" x2="718.2" y2="353.9" stroke="#00008a" stroke-width="1.15" shape-rendering="auto"/>
<rect x="587.91" y="223.61" width="23.23" height="23.23" fill="none" stroke="#000" stroke-width="2.2" shape-rendering="auto"/>
<rect x="602.05" y="237.75" width="16.66" height="16.67" fill="none" stroke="#000" stroke-width="2.2" shape-rendering="auto"/>
<rect x="614.32" y="250.02" width="15.5" height="15.5" fill="none" stroke="#000" stroke-width="2.2" shape-rendering="auto"/>
<rect x="621.24" y="256.94" width="18.18" height="18.18" fill="none" stroke="#000" stroke-width="2.2" shape-rendering="auto"/>
<rect x="633.51" y="269.21" width="17.32" height="17.32" fill="none" stroke="#000" stroke-width="2.2" shape-rendering="auto"/>
<rect x="644.22" y="279.92" width="20.45" height="20.45" fill="none" stroke="#000" stroke-width="2.2" shape-rendering="auto"/>
<rect x="660.63" y="296.33" width="23.74" height="23.74" fill="none" stroke="#000" stroke-width="2.2" shape-rendering="auto"/>
<rect x="686.38" y="322.09" width="19.44" height="19.44" fill="none" stroke="#000" stroke-width="2.2" shape-rendering="auto"/>
<rect x="701.64" y="337.34" width="16.06" height="16.06" fill="none" stroke="#000" stroke-width="2.2" shape-rendering="auto"/>
<rect x="566.7" y="202.4" width="151.5" height="151.5" fill="none" stroke="#111" stroke-width="1.1" shape-rendering="auto"/>
<line x1="563.2" y1="202.5" x2="566.7" y2="202.5" stroke="#111" stroke-width="1" shape-rendering="crispEdges"/>
<line x1="566.5" y1="353.9" x2="566.5" y2="357.4" stroke="#111" stroke-width="1" shape-rendering="crispEdges"/>
<line x1="563.2" y1="252.5" x2="566.7" y2="252.5" stroke="#111" stroke-width="1" shape-rendering="crispEdges"/>
<line x1="616.5" y1="353.9" x2="616.5" y2="357.4" stroke="#111" stroke-width="1" shape-rendering="crispEdges"/>
<line x1="563.2" y1="303.5" x2="566.7" y2="303.5" stroke="#111" stroke-width="1" shape-rendering="crispEdges"/>
<line x1="667.5" y1="353.9" x2="667.5" y2="357.4" stroke="#111" stroke-width="1" shape-rendering="crispEdges"/>
<line x1="563.2" y1="353.5" x2="566.7" y2="353.5" stroke="#111" stroke-width="1" shape-rendering="crispEdges"/>
<line x1="717.5" y1="353.9" x2="717.5" y2="357.4" stroke="#111" stroke-width="1" shape-rendering="crispEdges"/>
<text x="642.65" y="199" font-size="18" text-anchor="middle" textLength="23.2" lengthAdjust="spacingAndGlyphs">s8</text>
<g>
<rect x="229.7" y="387.3" width="9.47" height="9.47" fill="#ffa700"/>
<rect x="239.17" y="387.3" width="9.47" height="9.47" fill="#ffe500"/>
<rect x="248.64" y="387.3" width="9.47" height="9.47" fill="#0000d1"/>
<rect x="258.11" y="387.3" width="18.94" height="9.47" fill="#000080"/>
<rect x="277.04" y="387.3" width="9.47" height="9.47" fill="#0000d1"/>
<rect x="286.51" y="387.3" width="9.47" height="9.47" fill="#0061ff"/>
<rect x="295.98" y="387.3" width="9.47" height="9.47" fill="#0000d1"/>
<rect x="305.45" y="387.3" width="9.47" height="9.47" fill="#000080"/>
<rect x="314.92" y="387.3" width="18.94" height="9.47" fill="#0000d1"/>
<rect x="333.86" y="387.3" width="18.94" height="9.47" fill="#000080"/>
<rect x="352.79" y="387.3" width="9.47" height="9.47" fill="#0000d1"/>
<rect x="362.26" y="387.3" width="18.94" height="9.47" fill="#0024ff"/>
<rect x="229.7" y="396.77" width="9.47" height="9.47" fill="#60ff97"/>
<rect x="239.17" y="396.77" width="9.47" height="9.47" fill="#ff6800"/>
<rect x="248.64" y="396.77" width="9.47" height="9.47" fill="#0024ff"/>
<rect x="258.11" y="396.77" width="28.41" height="9.47" fill="#000080"/>
<rect x="286.51" y="396.77" width="9.47" height="9.47" fill="#0061ff"/>
<rect x="295.98" y="396.77" width="9.47" height="9.47" fill="#009eff"/>
<rect x="305.45" y="396.77" width="9.47" height="9.47" fill="#000080"/>
<rect x="314.92" y="396.77" width="18.94" height="9.47" fill="#0000d1"/>
<rect x="333.86" y="396.77" width="18.94" height="9.47" fill="#000080"/>
<rect x="352.79" y="396.77" width="28.41" height="9.47" fill="#0024ff"/>
<rect x="229.7" y="406.24" width="9.47" height="9.47" fill="#000080"/>
<rect x="239.17" y="406.24" width="9.47" height="9.47" fill="#0024ff"/>
<rect x="248.64" y="406.24" width="18.94" height="9.47" fill="#ffa700"/>
<rect x="267.57" y="406.24" width="9.47" height="9.47" fill="#0061ff"/>
<rect x="277.04" y="406.24" width="9.47" height="9.47" fill="#0024ff"/>
<rect x="286.51" y="406.24" width="18.94" height="9.47" fill="#00dbff"/>
<rect x="305.45" y="406.24" width="18.94" height="9.47" fill="#0000d1"/>
<rect x="324.39" y="406.24" width="9.47" height="9.47" fill="#000080"/>
<rect x="333.86" y="406.24" width="9.47" height="9.47" fill="#0024ff"/>
<rect x="343.32" y="406.24" width="9.47" height="9.47" fill="#0000d1"/>
<rect x="352.79" y="406.24" width="18.94" height="9.47" fill="#000080"/>
<rect x="371.73" y="406.24" width="9.47" height="9.47" fill="#0024ff"/>
<rect x="229.7" y="415.71" width="18.94" height="9.47" fill="#000080"/>
<rect x="248.64" y="415.71" width="9.47" height="9.47" fill="#ffe500"/>
<rect x="258.11" y="415.71" width="9.47" height="9.47" fill="#ff2900"/>
<rect x="267.57" y="415.71" width="9.47" height="9.47" fill="#60ff97"/>
<rect x="277.04" y="415.71" width="9.47" height="9.47" fill="#009eff"/>
<rect x="286.51" y="415.71" width="18.94" height="9.47" fill="#00dbff"/>
<rect x="305.45" y="415.71" width="9.47" height="9.47" fill="#0000d1"/>
<rect x="314.92" y="415.71" width="18.94" height="9.47" fill="#000080"/>
<rect x="333.86" y="415.71" width="9.47" height="9.47" fill="#0024ff"/>
<rect x="343.32" y="415.71" width="9.47" height="9.47" fill="#000080"/>
<rect x="352.79" y="415.71" width="9.47" height="9.47" fill="#0024ff"/>
<rect x="362.26" y="415.71" width="18.94" height="9.47" fill="#000080"/>
<rect x="229.7" y="425.18" width="9.47" height="9.47" fill="#000080"/>
<rect x="239.17" y="425.18" width="9.47" height="9.47" fill="#0000d1"/>
<rect x="248.64" y="425.18" width="9.47" height="9.47" fill="#0024ff"/>
<rect x="258.11" y="425.18" width="9.47" height="9.47" fill="#60ff97"/>
<rect x="267.57" y="425.18" width="9.47" height="9.47" fill="#ff6800"/>
<rect x="277.04" y="425.18" width="9.47" height="9.47" fill="#60ff97"/>
<rect x="286.51" y="425.18" width="18.94" height="9.47" fill="#009eff"/>
<rect x="305.45" y="425.18" width="9.47" height="9.47" fill="#00dbff"/>
<rect x="314.92" y="425.18" width="9.47" height="9.47" fill="#009eff"/>
<rect x="324.39" y="425.18" width="9.47" height="9.47" fill="#000080"/>
<rect x="333.86" y="425.18" width="9.47" height="9.47" fill="#0061ff"/>
<rect x="343.32" y="425.18" width="18.94" height="9.47" fill="#00dbff"/>
<rect x="362.26" y="425.18" width="9.47" height="9.47" fill="#0024ff"/>
<rect x="371.73" y="425.18" width="9.47" height="9.47" fill="#000080"/>
<rect x="229.7" y="434.64" width="18.94" height="9.47" fill="#000080"/>
<rect x="248.64" y="434.64" width="9.47" height="9.47" fill="#0024ff"/>
<rect x="258.11" y="434.64" width="9.47" height="9.47" fill="#009eff"/>
<rect x="267.57" y="434.64" width="9.47" height="9.47" fill="#29ffce"/>
<rect x="277.04" y="434.64" width="9.47" height="9.47" fill="#ff6800"/>
<rect x="286.51" y="434.64" width="9.47" height="9.47" fill="#60ff97"/>
<rect x="295.98" y="434.64" width="9.47" height="9.47" fill="#0024ff"/>
<rect x="305.45" y="434.64" width="18.94" height="9.47" fill="#009eff"/>
<rect x="324.39" y="434.64" width="9.47" height="9.47" fill="#0000d1"/>
<rect x="333.86" y="434.64" width="9.47" height="9.47" fill="#0061ff"/>
<rect x="343.32" y="434.64" width="18.94" height="9.47" fill="#009eff"/>
<rect x="362.26" y="434.64" width="9.47" height="9.47" fill="#0024ff"/>
<rect x="371.73" y="434.64" width="9.47" height="9.47" fill="#000080"/>
<rect x="229.7" y="444.11" width="9.47" height="9.47" fill="#0024ff"/>
<rect x="239.17" y="444.11" width="28.41" height="9.47" fill="#009eff"/>
<rect x="267.57" y="444.11" width="9.47" height="9.47" fill="#0024ff"/>
<rect x="277.04" y="444.11" width="9.47" height="9.47" fill="#009eff"/>
<rect x="286.51" y="444.11" width="9.47" height="9.47" fill="#ff6800"/>
<rect x="295.98" y="444.11" width="9.47" height="9.47" fill="#00dbff"/>
<rect x="305.45" y="444.11" width="9.47" height="9.47" fill="#0024ff"/>
<rect x="314.92" y="444.11" width="9.47" height="9.47" fill="#009eff"/>
<rect x="324.39" y="444.11" width="9.47" height="9.47" fill="#000080"/>
<rect x="333.86" y="444.11" width="9.47" height="9.47" fill="#0024ff"/>
<rect x="343.32" y="444.11" width="9.47" height="9.47" fill="#0000d1"/>
<rect x="352.79" y="444.11" width="18.94" height="9.47" fill="#0061ff"/>
<rect x="371.73" y="444.11" width="9.47" height="9.47" fill="#0024ff"/>
<rect x="229.7" y="453.58" width="9.47" height="9.47" fill="#0024ff"/>
<rect x="239.17" y="453.58" width="37.88" height="9.47" fill="#0061ff"/>
<rect x="277.04" y="453.58" width="9.47" height="9.47" fill="#0024ff"/>
<rect x="286.51" y="453.58" width="9.47" height="9.47" fill="#0061ff"/>
<rect x="295.98" y="453.58" width="9.47" height="9.47" fill="#ffa700"/>
<rect x="305.45" y="453.58" width="9.47" height="9.47" fill="#009eff"/>
<rect x="314.92" y="453.58" width="9.47" height="9.47" fill="#0024ff"/>
<rect x="324.39" y="453.58" width="9.47" height="9.47" fill="#0000d1"/>
<rect x="333.86" y="453.58" width="9.47" height="9.47" fill="#0024ff"/>
<rect x="343.32" y="453.58" width="9.47" height="9.47" fill="#0061ff"/>
<rect x="352.79" y="453.58" width="28.41" height="9.47" fill="#0024ff"/>
<rect x="229.7" y="463.05" width="9.47" height="9.47" fill="#000080"/>
<rect x="239.17" y="463.05" width="18.94" height="9.47" fill="#0000d1"/>
<rect x="258.11" y="463.05" width="9.47" height="9.47" fill="#000080"/>
<rect x="267.57" y="463.05" width="9.47" height="9.47" fill="#009eff"/>
<rect x="277.04" y="463.05" width="9.47" height="9.47" fill="#00dbff"/>
<rect x="286.51" y="463.05" width="9.47" height="9.47" fill="#0061ff"/>
<rect x="295.98" y="463.05" width="9.47" height="9.47" fill="#00dbff"/>
<rect x="305.45" y="463.05" width="9.47" height="9.47" fill="#ff6800"/>
<rect x="314.92" y="463.05" width="9.47" height="9.47" fill="#0061ff"/>
<rect x="324.39" y="463.05" width="9.47" height="9.47" fill="#0024ff"/>
<rect x="333.86" y="463.05" width="9.47" height="9.47" fill="#0000d1"/>
<rect x="343.32" y="463.05" width="18.94" height="9.47" fill="#00dbff"/>
<rect x="362.26" y="463.05" width="9.47" height="9.47" fill="#0000d1"/>
<rect x="371.73" y="463.05" width="9.47" height="9.47" fill="#000080"/>
<rect x="229.7" y="472.52" width="28.41" height="9.47" fill="#0024ff"/>
<rect x="258.11" y="472.52" width="9.47" height="9.47" fill="#0000d1"/>
<rect x="267.57" y="472.52" width="28.41" height="9.47" fill="#009eff"/>
<rect x="295.98" y="472.52" width="9.47" height="9.47" fill="#0061ff"/>
<rect x="305.45" y="472.52" width="9.47" height="9.47" fill="#009eff"/>
<rect x="314.92" y="472.52" width="9.47" height="9.47" fill="#ffa700"/>
<rect x="324.39" y="472.52" width="9.47" height="9.47" fill="#60ff97"/>
<rect x="333.86" y="472.52" width="9.47" height="9.47" fill="#0000d1"/>
<rect x="343.32" y="472.52" width="9.47" height="9.47" fill="#0061ff"/>
<rect x="352.79" y="472.52" width="9.47" height="9.47" fill="#0024ff"/>
<rect x="362.26" y="472.52" width="9.47" height="9.47" fill="#0061ff"/>
<rect x="371.73" y="472.52" width="9.47" height="9.47" fill="#0024ff"/>
<rect x="229.7" y="481.99" width="18.94" height="9.47" fill="#0000d1"/>
<rect x="248.64" y="481.99" width="18.94" height="9.47" fill="#0024ff"/>
<rect x="267.57" y="481.99" width="9.47" height="9.47" fill="#000080"/>
<rect x="277.04" y="481.99" width="9.47" height="9.47" fill="#0024ff"/>
<rect x="286.51" y="481.99" width="9.47" height="9.47" fill="#000080"/>
<rect x="295.98" y="481.99" width="9.47" height="9.47" fill="#0061ff"/>
<rect x="305.45" y="481.99" width="9.47" height="9.47" fill="#0024ff"/>
<rect x="314.92" y="481.99" width="9.47" height="9.47" fill="#60ff97"/>
<rect x="324.39" y="481.99" width="9.47" height="9.47" fill="#ffa700"/>
<rect x="333.86" y="481.99" width="9.47" height="9.47" fill="#0000d1"/>
<rect x="343.32" y="481.99" width="9.47" height="9.47" fill="#000080"/>
<rect x="352.79" y="481.99" width="9.47" height="9.47" fill="#0000d1"/>
<rect x="362.26" y="481.99" width="18.94" height="9.47" fill="#0024ff"/>
<rect x="229.7" y="491.46" width="18.94" height="9.47" fill="#000080"/>
<rect x="248.64" y="491.46" width="9.47" height="9.47" fill="#0024ff"/>
<rect x="258.11" y="491.46" width="9.47" height="9.47" fill="#0000d1"/>
<rect x="267.57" y="491.46" width="28.41" height="9.47" fill="#0061ff"/>
<rect x="295.98" y="491.46" width="9.47" height="9.47" fill="#009eff"/>
<rect x="305.45" y="491.46" width="18.94" height="9.47" fill="#0024ff"/>
<rect x="324.39" y="491.46" width="18.94" height="9.47" fill="#60ff97"/>
<rect x="343.32" y="491.46" width="9.47" height="9.47" fill="#0024ff"/>
<rect x="352.79" y="491.46" width="9.47" height="9.47" fill="#0000d1"/>
<rect x="362.26" y="491.46" width="18.94" height="9.47" fill="#009eff"/>
<rect x="229.7" y="500.93" width="18.94" height="9.47" fill="#000080"/>
<rect x="248.64" y="500.93" width="9.47" height="9.47" fill="#0000d1"/>
<rect x="258.11" y="500.93" width="9.47" height="9.47" fill="#000080"/>
<rect x="267.57" y="500.93" width="9.47" height="9.47" fill="#009eff"/>
<rect x="277.04" y="500.93" width="9.47" height="9.47" fill="#00dbff"/>
<rect x="286.51" y="500.93" width="9.47" height="9.47" fill="#0024ff"/>
<rect x="295.98" y="500.93" width="18.94" height="9.47" fill="#009eff"/>
<rect x="314.92" y="500.93" width="9.47" height="9.47" fill="#0000d1"/>
<rect x="324.39" y="500.93" width="9.47" height="9.47" fill="#0024ff"/>
<rect x="333.86" y="500.93" width="9.47" height="9.47" fill="#009eff"/>
<rect x="343.32" y="500.93" width="9.47" height="9.47" fill="#ffa700"/>
<rect x="352.79" y="500.93" width="9.47" height="9.47" fill="#00dbff"/>
<rect x="362.26" y="500.93" width="18.94" height="9.47" fill="#009eff"/>
<rect x="229.7" y="510.39" width="18.94" height="9.47" fill="#0024ff"/>
<rect x="248.64" y="510.39" width="9.47" height="9.47" fill="#000080"/>
<rect x="258.11" y="510.39" width="9.47" height="9.47" fill="#0024ff"/>
<rect x="267.57" y="510.39" width="18.94" height="9.47" fill="#00dbff"/>
<rect x="286.51" y="510.39" width="9.47" height="9.47" fill="#0024ff"/>
<rect x="295.98" y="510.39" width="18.94" height="9.47" fill="#0061ff"/>
<rect x="314.92" y="510.39" width="9.47" height="9.47" fill="#0000d1"/>
<rect x="324.39" y="510.39" width="9.47" height="9.47" fill="#0024ff"/>
<rect x="333.86" y="510.39" width="9.47" height="9.47" fill="#0061ff"/>
<rect x="343.32" y="510.39" width="9.47" height="9.47" fill="#ceff29"/>
<rect x="352.79" y="510.39" width="9.47" height="9.47" fill="#ff6800"/>
<rect x="362.26" y="510.39" width="9.47" height="9.47" fill="#009eff"/>
<rect x="371.73" y="510.39" width="9.47" height="9.47" fill="#0024ff"/>
<rect x="229.7" y="519.86" width="18.94" height="9.47" fill="#0024ff"/>
<rect x="248.64" y="519.86" width="18.94" height="9.47" fill="#000080"/>
<rect x="267.57" y="519.86" width="18.94" height="9.47" fill="#0024ff"/>
<rect x="286.51" y="519.86" width="9.47" height="9.47" fill="#0061ff"/>
<rect x="295.98" y="519.86" width="18.94" height="9.47" fill="#0024ff"/>
<rect x="314.92" y="519.86" width="18.94" height="9.47" fill="#000080"/>
<rect x="333.86" y="519.86" width="9.47" height="9.47" fill="#0061ff"/>
<rect x="343.32" y="519.86" width="9.47" height="9.47" fill="#0024ff"/>
<rect x="352.79" y="519.86" width="9.47" height="9.47" fill="#ffa700"/>
<rect x="362.26" y="519.86" width="9.47" height="9.47" fill="#60ff97"/>
<rect x="371.73" y="519.86" width="9.47" height="9.47" fill="#0061ff"/>
<rect x="229.7" y="529.33" width="9.47" height="9.47" fill="#0000d1"/>
<rect x="239.17" y="529.33" width="18.94" height="9.47" fill="#0024ff"/>
<rect x="258.11" y="529.33" width="18.94" height="9.47" fill="#000080"/>
<rect x="277.04" y="529.33" width="9.47" height="9.47" fill="#0000d1"/>
<rect x="286.51" y="529.33" width="18.94" height="9.47" fill="#0024ff"/>
<rect x="305.45" y="529.33" width="9.47" height="9.47" fill="#0000d1"/>
<rect x="314.92" y="529.33" width="9.47" height="9.47" fill="#0061ff"/>
<rect x="324.39" y="529.33" width="9.47" height="9.47" fill="#0024ff"/>
<rect x="333.86" y="529.33" width="9.47" height="9.47" fill="#009eff"/>
<rect x="343.32" y="529.33" width="9.47" height="9.47" fill="#0024ff"/>
<rect x="352.79" y="529.33" width="9.47" height="9.47" fill="#0061ff"/>
<rect x="362.26" y="529.33" width="9.47" height="9.47" fill="#ffa700"/>
<rect x="371.73" y="529.33" width="9.47" height="9.47" fill="#ff2900"/>
</g>
<clipPath id="cp_s9"><rect x="229.7" y="387.3" width="151.5" height="151.5"/></clipPath>
<g clip-path="url(#cp_s9)" shape-rendering="auto">
<line x1="229.7" y1="387.3" x2="381.2" y2="538.8" stroke="#ffc000" stroke-width="8"/>
<line x1="229.7" y1="387.3" x2="381.2" y2="538.8" stroke="#ff2a00" stroke-width="4.5"/>
</g>
<rect x="247.12" y="404.72" width="18.69" height="18.69" fill="url(#g_h)" shape-rendering="auto"/>
<rect x="263.79" y="421.39" width="18.43" height="18.43" fill="url(#g_h)" shape-rendering="auto"/>
<rect x="280.2" y="437.8" width="12.27" height="12.27" fill="url(#g_y)" shape-rendering="auto"/>
<rect x="290.3" y="447.9" width="8.94" height="8.94" fill="url(#g_y)" shape-rendering="auto"/>
<rect x="303.83" y="461.43" width="10.2" height="10.2" fill="url(#g_y)" shape-rendering="auto"/>
<rect x="318.93" y="476.53" width="16.82" height="16.82" fill="url(#g_y)" shape-rendering="auto"/>
<rect x="341.56" y="499.16" width="14.39" height="14.39" fill="url(#g_y)" shape-rendering="auto"/>
<rect x="353.73" y="511.33" width="15.6" height="15.6" fill="url(#g_y)" shape-rendering="auto"/>
<rect x="367.56" y="525.16" width="13.13" height="13.13" fill="url(#g_h)" shape-rendering="auto"/>
<line x1="229.7" y1="387.3" x2="381.2" y2="538.8" stroke="#00008a" stroke-width="1.15" shape-rendering="auto"/>
<rect x="247.12" y="404.72" width="18.69" height="18.69" fill="none" stroke="#000" stroke-width="2.2" shape-rendering="auto"/>
<rect x="263.79" y="421.39" width="18.43" height="18.43" fill="none" stroke="#000" stroke-width="2.2" shape-rendering="auto"/>
<rect x="280.2" y="437.8" width="12.27" height="12.27" fill="none" stroke="#000" stroke-width="2.2" shape-rendering="auto"/>
<rect x="290.3" y="447.9" width="8.94" height="8.94" fill="none" stroke="#000" stroke-width="2.2" shape-rendering="auto"/>
<rect x="303.83" y="461.43" width="10.2" height="10.2" fill="none" stroke="#000" stroke-width="2.2" shape-rendering="auto"/>
<rect x="318.93" y="476.53" width="16.82" height="16.82" fill="none" stroke="#000" stroke-width="2.2" shape-rendering="auto"/>
<rect x="341.56" y="499.16" width="14.39" height="14.39" fill="none" stroke="#000" stroke-width="2.2" shape-rendering="auto"/>
<rect x="353.73" y="511.33" width="15.6" height="15.6" fill="none" stroke="#000" stroke-width="2.2" shape-rendering="auto"/>
<rect x="367.56" y="525.16" width="13.13" height="13.13" fill="none" stroke="#000" stroke-width="2.2" shape-rendering="auto"/>
<rect x="229.7" y="387.3" width="151.5" height="151.5" fill="none" stroke="#111" stroke-width="1.1" shape-rendering="auto"/>
<line x1="226.2" y1="387.5" x2="229.7" y2="387.5" stroke="#111" stroke-width="1" shape-rendering="crispEdges"/>
<line x1="229.5" y1="538.8" x2="229.5" y2="542.3" stroke="#111" stroke-width="1" shape-rendering="crispEdges"/>
<line x1="226.2" y1="437.5" x2="229.7" y2="437.5" stroke="#111" stroke-width="1" shape-rendering="crispEdges"/>
<line x1="279.5" y1="538.8" x2="279.5" y2="542.3" stroke="#111" stroke-width="1" shape-rendering="crispEdges"/>
<line x1="226.2" y1="488.5" x2="229.7" y2="488.5" stroke="#111" stroke-width="1" shape-rendering="crispEdges"/>
<line x1="330.5" y1="538.8" x2="330.5" y2="542.3" stroke="#111" stroke-width="1" shape-rendering="crispEdges"/>
<line x1="226.2" y1="538.5" x2="229.7" y2="538.5" stroke="#111" stroke-width="1" shape-rendering="crispEdges"/>
<line x1="380.5" y1="538.8" x2="380.5" y2="542.3" stroke="#111" stroke-width="1" shape-rendering="crispEdges"/>
<text x="305.65" y="383.9" font-size="18" text-anchor="middle" textLength="23.2" lengthAdjust="spacingAndGlyphs">s9</text>
<g>
<rect x="398.2" y="387.3" width="9.47" height="9.47" fill="#97ff60"/>
<rect x="407.67" y="387.3" width="9.47" height="9.47" fill="#60ff97"/>
<rect x="417.14" y="387.3" width="9.47" height="9.47" fill="#0061ff"/>
<rect x="426.61" y="387.3" width="18.94" height="9.47" fill="#000080"/>
<rect x="445.54" y="387.3" width="9.47" height="9.47" fill="#0000d1"/>
<rect x="455.01" y="387.3" width="18.94" height="9.47" fill="#000080"/>
<rect x="473.95" y="387.3" width="9.47" height="9.47" fill="#0000d1"/>
<rect x="483.42" y="387.3" width="18.94" height="9.47" fill="#000080"/>
<rect x="502.36" y="387.3" width="9.47" height="9.47" fill="#0000d1"/>
<rect x="511.82" y="387.3" width="9.47" height="9.47" fill="#000080"/>
<rect x="521.29" y="387.3" width="9.47" height="9.47" fill="#0000d1"/>
<rect x="530.76" y="387.3" width="9.47" height="9.47" fill="#0024ff"/>
<rect x="540.23" y="387.3" width="9.47" height="9.47" fill="#0000d1"/>
<rect x="398.2" y="396.77" width="9.47" height="9.47" fill="#009eff"/>
<rect x="407.67" y="396.77" width="9.47" height="9.47" fill="#ffa700"/>
<rect x="417.14" y="396.77" width="9.47" height="9.47" fill="#ffe500"/>
<rect x="426.61" y="396.77" width="18.94" height="9.47" fill="#0000d1"/>
<rect x="445.54" y="396.77" width="9.47" height="9.47" fill="#0024ff"/>
<rect x="455.01" y="396.77" width="18.94" height="9.47" fill="#000080"/>
<rect x="473.95" y="396.77" width="9.47" height="9.47" fill="#0024ff"/>
<rect x="483.42" y="396.77" width="18.94" height="9.47" fill="#000080"/>
<rect x="502.36" y="396.77" width="18.94" height="9.47" fill="#0000d1"/>
<rect x="521.29" y="396.77" width="18.94" height="9.47" fill="#009eff"/>
<rect x="540.23" y="396.77" width="9.47" height="9.47" fill="#000080"/>
<rect x="398.2" y="406.24" width="9.47" height="9.47" fill="#000080"/>
<rect x="407.67" y="406.24" width="9.47" height="9.47" fill="#0000d1"/>
<rect x="417.14" y="406.24" width="9.47" height="9.47" fill="#60ff97"/>
<rect x="426.61" y="406.24" width="9.47" height="9.47" fill="#ffa700"/>
<rect x="436.07" y="406.24" width="9.47" height="9.47" fill="#009eff"/>
<rect x="445.54" y="406.24" width="18.94" height="9.47" fill="#0024ff"/>
<rect x="464.48" y="406.24" width="9.47" height="9.47" fill="#009eff"/>
<rect x="473.95" y="406.24" width="9.47" height="9.47" fill="#00dbff"/>
<rect x="483.42" y="406.24" width="9.47" height="9.47" fill="#0000d1"/>
<rect x="492.89" y="406.24" width="9.47" height="9.47" fill="#000080"/>
<rect x="502.36" y="406.24" width="18.94" height="9.47" fill="#0024ff"/>
<rect x="521.29" y="406.24" width="18.94" height="9.47" fill="#00dbff"/>
<rect x="540.23" y="406.24" width="9.47" height="9.47" fill="#000080"/>
<rect x="398.2" y="415.71" width="18.94" height="9.47" fill="#0000d1"/>
<rect x="417.14" y="415.71" width="9.47" height="9.47" fill="#00dbff"/>
<rect x="426.61" y="415.71" width="9.47" height="9.47" fill="#ffe500"/>
<rect x="436.07" y="415.71" width="9.47" height="9.47" fill="#60ff97"/>
<rect x="445.54" y="415.71" width="9.47" height="9.47" fill="#000080"/>
<rect x="455.01" y="415.71" width="9.47" height="9.47" fill="#0000d1"/>
<rect x="464.48" y="415.71" width="9.47" height="9.47" fill="#009eff"/>
<rect x="473.95" y="415.71" width="9.47" height="9.47" fill="#0061ff"/>
<rect x="483.42" y="415.71" width="18.94" height="9.47" fill="#000080"/>
<rect x="502.36" y="415.71" width="9.47" height="9.47" fill="#0000d1"/>
<rect x="511.82" y="415.71" width="37.88" height="9.47" fill="#000080"/>
<rect x="398.2" y="425.18" width="18.94" height="9.47" fill="#000080"/>
<rect x="417.14" y="425.18" width="9.47" height="9.47" fill="#009eff"/>
<rect x="426.61" y="425.18" width="9.47" height="9.47" fill="#00dbff"/>
<rect x="436.07" y="425.18" width="9.47" height="9.47" fill="#ffa700"/>
<rect x="445.54" y="425.18" width="9.47" height="9.47" fill="#0024ff"/>
<rect x="455.01" y="425.18" width="9.47" height="9.47" fill="#000080"/>
<rect x="464.48" y="425.18" width="9.47" height="9.47" fill="#0000d1"/>
<rect x="473.95" y="425.18" width="9.47" height="9.47" fill="#0061ff"/>
<rect x="483.42" y="425.18" width="9.47" height="9.47" fill="#0000d1"/>
<rect x="492.89" y="425.18" width="9.47" height="9.47" fill="#0061ff"/>
<rect x="502.36" y="425.18" width="28.41" height="9.47" fill="#0024ff"/>
<rect x="530.76" y="425.18" width="18.94" height="9.47" fill="#000080"/>
<rect x="398.2" y="434.64" width="9.47" height="9.47" fill="#000080"/>
<rect x="407.67" y="434.64" width="28.41" height="9.47" fill="#0024ff"/>
<rect x="436.07" y="434.64" width="9.47" height="9.47" fill="#000080"/>
<rect x="445.54" y="434.64" width="9.47" height="9.47" fill="#ffe500"/>
<rect x="455.01" y="434.64" width="9.47" height="9.47" fill="#ffa700"/>
<rect x="464.48" y="434.64" width="56.81" height="9.47" fill="#000080"/>
<rect x="521.29" y="434.64" width="18.94" height="9.47" fill="#0024ff"/>
<rect x="540.23" y="434.64" width="9.47" height="9.47" fill="#0000d1"/>
<rect x="398.2" y="444.11" width="18.94" height="9.47" fill="#000080"/>
<rect x="417.14" y="444.11" width="9.47" height="9.47" fill="#0024ff"/>
<rect x="426.61" y="444.11" width="18.94" height="9.47" fill="#0000d1"/>
<rect x="445.54" y="444.11" width="9.47" height="9.47" fill="#60ff97"/>
<rect x="455.01" y="444.11" width="9.47" height="9.47" fill="#ffa700"/>
<rect x="464.48" y="444.11" width="9.47" height="9.47" fill="#0000d1"/>
<rect x="473.95" y="444.11" width="18.94" height="9.47" fill="#000080"/>
<rect x="492.89" y="444.11" width="9.47" height="9.47" fill="#0024ff"/>
<rect x="502.36" y="444.11" width="28.41" height="9.47" fill="#000080"/>
<rect x="530.76" y="444.11" width="18.94" height="9.47" fill="#0000d1"/>
<rect x="398.2" y="453.58" width="9.47" height="9.47" fill="#000080"/>
<rect x="407.67" y="453.58" width="9.47" height="9.47" fill="#0000d1"/>
<rect x="417.14" y="453.58" width="9.47" height="9.47" fill="#009eff"/>
<rect x="426.61" y="453.58" width="9.47" height="9.47" fill="#00dbff"/>
<rect x="436.07" y="453.58" width="9.47" height="9.47" fill="#0000d1"/>
<rect x="445.54" y="453.58" width="9.47" height="9.47" fill="#000080"/>
<rect x="455.01" y="453.58" width="9.47" height="9.47" fill="#0024ff"/>
<rect x="464.48" y="453.58" width="9.47" height="9.47" fill="#ffe500"/>
<rect x="473.95" y="453.58" width="9.47" height="9.47" fill="#60ff97"/>
<rect x="483.42" y="453.58" width="9.47" height="9.47" fill="#000080"/>
<rect x="492.89" y="453.58" width="9.47" height="9.47" fill="#0000d1"/>
<rect x="502.36" y="453.58" width="47.34" height="9.47" fill="#000080"/>
<rect x="398.2" y="463.05" width="9.47" height="9.47" fill="#0000d1"/>
<rect x="407.67" y="463.05" width="9.47" height="9.47" fill="#000080"/>
<rect x="417.14" y="463.05" width="9.47" height="9.47" fill="#009eff"/>
<rect x="426.61" y="463.05" width="18.94" height="9.47" fill="#0061ff"/>
<rect x="445.54" y="463.05" width="18.94" height="9.47" fill="#000080"/>
<rect x="464.48" y="463.05" width="9.47" height="9.47" fill="#0024ff"/>
<rect x="473.95" y="463.05" width="9.47" height="9.47" fill="#ffa700"/>
<rect x="483.42" y="463.05" width="9.47" height="9.47" fill="#0024ff"/>
<rect x="492.89" y="463.05" width="9.47" height="9.47" fill="#0000d1"/>
<rect x="502.36" y="463.05" width="37.88" height="9.47" fill="#0024ff"/>
<rect x="540.23" y="463.05" width="9.47" height="9.47" fill="#0000d1"/>
<rect x="398.2" y="472.52" width="37.88" height="9.47" fill="#000080"/>
<rect x="436.07" y="472.52" width="9.47" height="9.47" fill="#0000d1"/>
<rect x="445.54" y="472.52" width="28.41" height="9.47" fill="#000080"/>
<rect x="473.95" y="472.52" width="9.47" height="9.47" fill="#60ff97"/>
<rect x="483.42" y="472.52" width="9.47" height="9.47" fill="#ff6800"/>
<rect x="492.89" y="472.52" width="9.47" height="9.47" fill="#0061ff"/>
<rect x="502.36" y="472.52" width="9.47" height="9.47" fill="#0024ff"/>
<rect x="511.82" y="472.52" width="9.47" height="9.47" fill="#009eff"/>
<rect x="521.29" y="472.52" width="9.47" height="9.47" fill="#0061ff"/>
<rect x="530.76" y="472.52" width="9.47" height="9.47" fill="#0000d1"/>
<rect x="540.23" y="472.52" width="9.47" height="9.47" fill="#0061ff"/>
<rect x="398.2" y="481.99" width="28.41" height="9.47" fill="#000080"/>
<rect x="426.61" y="481.99" width="9.47" height="9.47" fill="#0000d1"/>
<rect x="436.07" y="481.99" width="9.47" height="9.47" fill="#0061ff"/>
<rect x="445.54" y="481.99" width="9.47" height="9.47" fill="#000080"/>
<rect x="455.01" y="481.99" width="9.47" height="9.47" fill="#0024ff"/>
<rect x="464.48" y="481.99" width="9.47" height="9.47" fill="#000080"/>
<rect x="473.95" y="481.99" width="9.47" height="9.47" fill="#0000d1"/>
<rect x="483.42" y="481.99" width="9.47" height="9.47" fill="#0061ff"/>
<rect x="492.89" y="481.99" width="9.47" height="9.47" fill="#ffa700"/>
<rect x="502.36" y="481.99" width="9.47" height="9.47" fill="#29ffce"/>
<rect x="511.82" y="481.99" width="9.47" height="9.47" fill="#0061ff"/>
<rect x="521.29" y="481.99" width="9.47" height="9.47" fill="#0024ff"/>
<rect x="530.76" y="481.99" width="9.47" height="9.47" fill="#000080"/>
<rect x="540.23" y="481.99" width="9.47" height="9.47" fill="#0024ff"/>
<rect x="398.2" y="491.46" width="9.47" height="9.47" fill="#0024ff"/>
<rect x="407.67" y="491.46" width="9.47" height="9.47" fill="#000080"/>
<rect x="417.14" y="491.46" width="28.41" height="9.47" fill="#0024ff"/>
<rect x="445.54" y="491.46" width="28.41" height="9.47" fill="#000080"/>
<rect x="473.95" y="491.46" width="18.94" height="9.47" fill="#0024ff"/>
<rect x="492.89" y="491.46" width="9.47" height="9.47" fill="#97ff60"/>
<rect x="502.36" y="491.46" width="9.47" height="9.47" fill="#ff2900"/>
<rect x="511.82" y="491.46" width="9.47" height="9.47" fill="#0061ff"/>
<rect x="521.29" y="491.46" width="18.94" height="9.47" fill="#009eff"/>
<rect x="540.23" y="491.46" width="9.47" height="9.47" fill="#0024ff"/>
<rect x="398.2" y="500.93" width="18.94" height="9.47" fill="#000080"/>
<rect x="417.14" y="500.93" width="28.41" height="9.47" fill="#0024ff"/>
<rect x="445.54" y="500.93" width="28.41" height="9.47" fill="#000080"/>
<rect x="473.95" y="500.93" width="18.94" height="9.47" fill="#0061ff"/>
<rect x="492.89" y="500.93" width="9.47" height="9.47" fill="#0024ff"/>
<rect x="502.36" y="500.93" width="9.47" height="9.47" fill="#0061ff"/>
<rect x="511.82" y="500.93" width="9.47" height="9.47" fill="#ffa700"/>
<rect x="521.29" y="500.93" width="18.94" height="9.47" fill="#0061ff"/>
<rect x="540.23" y="500.93" width="9.47" height="9.47" fill="#0024ff"/>
<rect x="398.2" y="510.39" width="9.47" height="9.47" fill="#0000d1"/>
<rect x="407.67" y="510.39" width="9.47" height="9.47" fill="#0024ff"/>
<rect x="417.14" y="510.39" width="9.47" height="9.47" fill="#009eff"/>
<rect x="426.61" y="510.39" width="9.47" height="9.47" fill="#0024ff"/>
<rect x="436.07" y="510.39" width="9.47" height="9.47" fill="#0000d1"/>
<rect x="445.54" y="510.39" width="9.47" height="9.47" fill="#0024ff"/>
<rect x="455.01" y="510.39" width="18.94" height="9.47" fill="#000080"/>
<rect x="473.95" y="510.39" width="9.47" height="9.47" fill="#0061ff"/>
<rect x="483.42" y="510.39" width="18.94" height="9.47" fill="#0024ff"/>
<rect x="502.36" y="510.39" width="9.47" height="9.47" fill="#009eff"/>
<rect x="511.82" y="510.39" width="9.47" height="9.47" fill="#0061ff"/>
<rect x="521.29" y="510.39" width="9.47" height="9.47" fill="#ff6800"/>
<rect x="530.76" y="510.39" width="9.47" height="9.47" fill="#ceff29"/>
<rect x="540.23" y="510.39" width="9.47" height="9.47" fill="#29ffce"/>
<rect x="398.2" y="519.86" width="9.47" height="9.47" fill="#0000d1"/>
<rect x="407.67" y="519.86" width="9.47" height="9.47" fill="#0024ff"/>
<rect x="417.14" y="519.86" width="9.47" height="9.47" fill="#00dbff"/>
<rect x="426.61" y="519.86" width="9.47" height="9.47" fill="#0061ff"/>
<rect x="436.07" y="519.86" width="9.47" height="9.47" fill="#000080"/>
<rect x="445.54" y="519.86" width="9.47" height="9.47" fill="#0024ff"/>
<rect x="455.01" y="519.86" width="18.94" height="9.47" fill="#0000d1"/>
<rect x="473.95" y="519.86" width="9.47" height="9.47" fill="#0024ff"/>
<rect x="483.42" y="519.86" width="9.47" height="9.47" fill="#0000d1"/>
<rect x="492.89" y="519.86" width="9.47" height="9.47" fill="#0061ff"/>
<rect x="502.36" y="519.86" width="9.47" height="9.47" fill="#009eff"/>
<rect x="511.82" y="519.86" width="9.47" height="9.47" fill="#0024ff"/>
<rect x="521.29" y="519.86" width="9.47" height="9.47" fill="#97ff60"/>
<rect x="530.76" y="519.86" width="9.47" height="9.47" fill="#ffa700"/>
<rect x="540.23" y="519.86" width="9.47" height="9.47" fill="#97ff60"/>
<rect x="398.2" y="529.33" width="18.94" height="9.47" fill="#000080"/>
<rect x="417.14" y="529.33" width="9.47" height="9.47" fill="#0000d1"/>
<rect x="426.61" y="529.33" width="18.94" height="9.47" fill="#000080"/>
<rect x="445.54" y="529.33" width="9.47" height="9.47" fill="#0024ff"/>
<rect x="455.01" y="529.33" width="9.47" height="9.47" fill="#0000d1"/>
<rect x="464.48" y="529.33" width="9.47" height="9.47" fill="#000080"/>
<rect x="473.95" y="529.33" width="9.47" height="9.47" fill="#0000d1"/>
<rect x="483.42" y="529.33" width="18.94" height="9.47" fill="#0024ff"/>
<rect x="502.36" y="529.33" width="9.47" height="9.47" fill="#009eff"/>
<rect x="511.82" y="529.33" width="18.94" height="9.47" fill="#0024ff"/>
<rect x="530.76" y="529.33" width="9.47" height="9.47" fill="#ceff29"/>
<rect x="540.23" y="529.33" width="9.47" height="9.47" fill="#ffa700"/>
</g>
<clipPath id="cp_s10"><rect x="398.2" y="387.3" width="151.5" height="151.5"/></clipPath>
<g clip-path="url(#cp_s10)" shape-rendering="auto">
<line x1="398.2" y1="387.3" x2="549.7" y2="538.8" stroke="#ffc000" stroke-width="8"/>
<line x1="398.2" y1="387.3" x2="549.7" y2="538.8" stroke="#ff2a00" stroke-width="4.5"/>
</g>
<rect x="406.99" y="396.09" width="14.44" height="14.44" fill="url(#g_g)" shape-rendering="auto"/>
<rect x="422.09" y="411.19" width="12.98" height="12.98" fill="url(#g_y)" shape-rendering="auto"/>
<rect x="433.55" y="422.65" width="12.12" height="12.12" fill="url(#g_g)" shape-rendering="auto"/>
<rect x="445.92" y="435.02" width="19.44" height="19.44" fill="url(#g_g)" shape-rendering="auto"/>
<rect x="462.18" y="451.28" width="20.6" height="20.6" fill="url(#g_g)" shape-rendering="auto"/>
<rect x="480.51" y="469.62" width="16.97" height="16.97" fill="url(#g_y)" shape-rendering="auto"/>
<rect x="497.08" y="486.18" width="20.3" height="20.3" fill="url(#g_g)" shape-rendering="auto"/>
<rect x="513.34" y="502.44" width="13.13" height="13.13" fill="url(#g_y)" shape-rendering="auto"/>
<rect x="524.45" y="513.55" width="19.69" height="19.7" fill="url(#g_y)" shape-rendering="auto"/>
<line x1="398.2" y1="387.3" x2="549.7" y2="538.8" stroke="#00008a" stroke-width="1.15" shape-rendering="auto"/>
<rect x="406.99" y="396.09" width="14.44" height="14.44" fill="none" stroke="#000" stroke-width="2.2" shape-rendering="auto"/>
<rect x="422.09" y="411.19" width="12.98" height="12.98" fill="none" stroke="#000" stroke-width="2.2" shape-rendering="auto"/>
<rect x="433.55" y="422.65" width="12.12" height="12.12" fill="none" stroke="#000" stroke-width="2.2" shape-rendering="auto"/>
<rect x="445.92" y="435.02" width="19.44" height="19.44" fill="none" stroke="#000" stroke-width="2.2" shape-rendering="auto"/>
<rect x="462.18" y="451.28" width="20.6" height="20.6" fill="none" stroke="#000" stroke-width="2.2" shape-rendering="auto"/>
<rect x="480.51" y="469.62" width="16.97" height="16.97" fill="none" stroke="#000" stroke-width="2.2" shape-rendering="auto"/>
<rect x="497.08" y="486.18" width="20.3" height="20.3" fill="none" stroke="#000" stroke-width="2.2" shape-rendering="auto"/>
<rect x="513.34" y="502.44" width="13.13" height="13.13" fill="none" stroke="#000" stroke-width="2.2" shape-rendering="auto"/>
<rect x="524.45" y="513.55" width="19.69" height="19.7" fill="none" stroke="#000" stroke-width="2.2" shape-rendering="auto"/>
<rect x="398.2" y="387.3" width="151.5" height="151.5" fill="none" stroke="#111" stroke-width="1.1" shape-rendering="auto"/>
<line x1="394.7" y1="387.5" x2="398.2" y2="387.5" stroke="#111" stroke-width="1" shape-rendering="crispEdges"/>
<line x1="397.5" y1="538.8" x2="397.5" y2="542.3" stroke="#111" stroke-width="1" shape-rendering="crispEdges"/>
<line x1="394.7" y1="437.5" x2="398.2" y2="437.5" stroke="#111" stroke-width="1" shape-rendering="crispEdges"/>
<line x1="448.5" y1="538.8" x2="448.5" y2="542.3" stroke="#111" stroke-width="1" shape-rendering="crispEdges"/>
<line x1="394.7" y1="488.5" x2="398.2" y2="488.5" stroke="#111" stroke-width="1" shape-rendering="crispEdges"/>
<line x1="498.5" y1="538.8" x2="498.5" y2="542.3" stroke="#111" stroke-width="1" shape-rendering="crispEdges"/>
<line x1="394.7" y1="538.5" x2="398.2" y2="538.5" stroke="#111" stroke-width="1" shape-rendering="crispEdges"/>
<line x1="549.5" y1="538.8" x2="549.5" y2="542.3" stroke="#111" stroke-width="1" shape-rendering="crispEdges"/>
<text x="474.15" y="383.9" font-size="18" text-anchor="middle" textLength="37.5" lengthAdjust="spacingAndGlyphs">s10</text>
<defs><linearGradient id="cb" x1="0" x2="1" y1="0" y2="0"><stop offset="0.000" stop-color="#000080"/><stop offset="0.025" stop-color="#00009c"/><stop offset="0.050" stop-color="#0000b9"/><stop offset="0.075" stop-color="#0000d6"/><stop offset="0.100" stop-color="#0000f3"/><stop offset="0.125" stop-color="#0000ff"/><stop offset="0.150" stop-color="#0019ff"/><stop offset="0.175" stop-color="#0033ff"/><stop offset="0.200" stop-color="#004dff"/><stop offset="0.225" stop-color="#0066ff"/><stop offset="0.250" stop-color="#0080ff"/><stop offset="0.275" stop-color="#0099ff"/><stop offset="0.300" stop-color="#00b2ff"/><stop offset="0.325" stop-color="#00ccff"/><stop offset="0.350" stop-color="#00e5f7"/><stop offset="0.375" stop-color="#15ffe2"/><stop offset="0.400" stop-color="#29ffce"/><stop offset="0.425" stop-color="#3effb9"/><stop offset="0.450" stop-color="#52ffa5"/><stop offset="0.475" stop-color="#67ff90"/><stop offset="0.500" stop-color="#7bff7b"/><stop offset="0.525" stop-color="#90ff67"/><stop offset="0.550" stop-color="#a5ff52"/><stop offset="0.575" stop-color="#b9ff3e"/><stop offset="0.600" stop-color="#ceff29"/><stop offset="0.625" stop-color="#e2ff15"/><stop offset="0.650" stop-color="#f7f600"/><stop offset="0.675" stop-color="#ffde00"/><stop offset="0.700" stop-color="#ffc600"/><stop offset="0.725" stop-color="#ffaf00"/><stop offset="0.750" stop-color="#ff9700"/><stop offset="0.775" stop-color="#ff8000"/><stop offset="0.800" stop-color="#ff6800"/><stop offset="0.825" stop-color="#ff5000"/><stop offset="0.850" stop-color="#ff3900"/><stop offset="0.875" stop-color="#ff2100"/><stop offset="0.900" stop-color="#f30900"/><stop offset="0.925" stop-color="#d60000"/><stop offset="0.950" stop-color="#b90000"/><stop offset="0.975" stop-color="#9c0000"/><stop offset="1.000" stop-color="#800000"/></linearGradient></defs>
<rect x="573.5" y="471" width="129.5" height="25.5" fill="url(#cb)" stroke="#555" stroke-width="0.8" shape-rendering="auto"/>
<text x="573.4" y="517" font-size="14" textLength="10.4" lengthAdjust="spacingAndGlyphs">0</text>
<text x="707.2" y="517" font-size="14" text-anchor="end" textLength="10.4" lengthAdjust="spacingAndGlyphs">1</text>
<text transform="translate(12.20,94.45) rotate(-90)" font-size="14" text-anchor="middle" textLength="100.5" lengthAdjust="spacingAndGlyphs">Set selected</text>
<text transform="translate(28.50,94.05) rotate(-90)" font-size="14" text-anchor="middle" textLength="83.5" lengthAdjust="spacingAndGlyphs">at time [s]</text>
<text x="51.60" y="28.00" font-size="15" text-anchor="middle" textLength="10.00" lengthAdjust="spacingAndGlyphs">0</text>
<text x="51.60" y="75.50" font-size="15" text-anchor="middle" textLength="10.00" lengthAdjust="spacingAndGlyphs">1</text>
<text x="51.60" y="122.90" font-size="15" text-anchor="middle" textLength="10.00" lengthAdjust="spacingAndGlyphs">2</text>
<text x="51.60" y="170.00" font-size="15" text-anchor="middle" textLength="10.00" lengthAdjust="spacingAndGlyphs">3</text>
<text transform="translate(12.20,278.85) rotate(-90)" font-size="14" text-anchor="middle" textLength="100.5" lengthAdjust="spacingAndGlyphs">Set selected</text>
<text transform="translate(28.50,278.45) rotate(-90)" font-size="14" text-anchor="middle" textLength="83.5" lengthAdjust="spacingAndGlyphs">at time [s]</text>
<text x="51.60" y="212.40" font-size="15" text-anchor="middle" textLength="10.00" lengthAdjust="spacingAndGlyphs">0</text>
<text x="51.60" y="259.90" font-size="15" text-anchor="middle" textLength="10.00" lengthAdjust="spacingAndGlyphs">1</text>
<text x="51.60" y="307.30" font-size="15" text-anchor="middle" textLength="10.00" lengthAdjust="spacingAndGlyphs">2</text>
<text x="51.60" y="354.40" font-size="15" text-anchor="middle" textLength="10.00" lengthAdjust="spacingAndGlyphs">3</text>
<text transform="translate(180.70,463.75) rotate(-90)" font-size="14" text-anchor="middle" textLength="100.5" lengthAdjust="spacingAndGlyphs">Set selected</text>
<text transform="translate(197.00,463.35) rotate(-90)" font-size="14" text-anchor="middle" textLength="83.5" lengthAdjust="spacingAndGlyphs">at time [s]</text>
<text x="220.10" y="397.30" font-size="15" text-anchor="middle" textLength="10.00" lengthAdjust="spacingAndGlyphs">0</text>
<text x="220.10" y="444.80" font-size="15" text-anchor="middle" textLength="10.00" lengthAdjust="spacingAndGlyphs">1</text>
<text x="220.10" y="492.20" font-size="15" text-anchor="middle" textLength="10.00" lengthAdjust="spacingAndGlyphs">2</text>
<text x="220.10" y="539.30" font-size="15" text-anchor="middle" textLength="10.00" lengthAdjust="spacingAndGlyphs">3</text>
<text x="233.60" y="558.70" font-size="15" text-anchor="middle" textLength="10.00" lengthAdjust="spacingAndGlyphs">0</text>
<text x="281.70" y="558.70" font-size="15" text-anchor="middle" textLength="10.00" lengthAdjust="spacingAndGlyphs">1</text>
<text x="330.00" y="558.70" font-size="15" text-anchor="middle" textLength="10.00" lengthAdjust="spacingAndGlyphs">2</text>
<text x="377.90" y="558.70" font-size="15" text-anchor="middle" textLength="10.00" lengthAdjust="spacingAndGlyphs">3</text>
<text x="301.65" y="579.30" font-size="14.5" text-anchor="middle" textLength="65.00" lengthAdjust="spacingAndGlyphs">Time [s]</text>
<text x="402.10" y="558.70" font-size="15" text-anchor="middle" textLength="10.00" lengthAdjust="spacingAndGlyphs">0</text>
<text x="450.20" y="558.70" font-size="15" text-anchor="middle" textLength="10.00" lengthAdjust="spacingAndGlyphs">1</text>
<text x="498.50" y="558.70" font-size="15" text-anchor="middle" textLength="10.00" lengthAdjust="spacingAndGlyphs">2</text>
<text x="546.40" y="558.70" font-size="15" text-anchor="middle" textLength="10.00" lengthAdjust="spacingAndGlyphs">3</text>
<text x="470.15" y="579.30" font-size="14.5" text-anchor="middle" textLength="65.00" lengthAdjust="spacingAndGlyphs">Time [s]</text>
<rect x="575.7" y="396.5" width="38.5" height="38" fill="none" stroke="#000" stroke-width="2"/>
<text x="622.60" y="400.80" font-size="14" text-anchor="start" textLength="94.50" lengthAdjust="spacingAndGlyphs">Statistically</text>
<text x="622.60" y="418.80" font-size="14" text-anchor="start" textLength="83.50" lengthAdjust="spacingAndGlyphs">significant</text>
<text x="622.60" y="436.80" font-size="14" text-anchor="start" textLength="78.00" lengthAdjust="spacingAndGlyphs">(p &lt; 0.01)</text>
</svg></body></html>
